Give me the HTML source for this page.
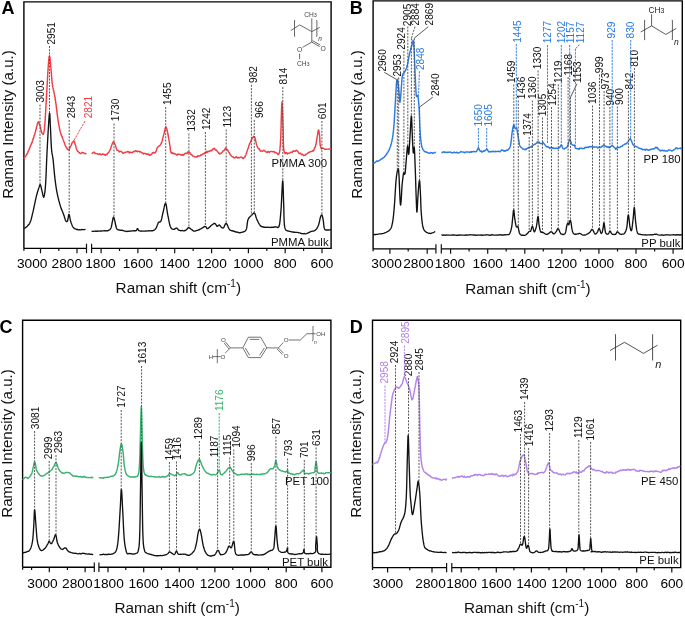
<!DOCTYPE html>
<html><head><meta charset="utf-8"><style>
html,body{margin:0;padding:0;background:#fff;}
svg{display:block;will-change:transform;}
text{font-family:"Liberation Sans", sans-serif;}
</style></head><body>
<svg width="685" height="617" viewBox="0 0 685 617">
<rect width="685" height="617" fill="#fff"/>
<text x="1.4" y="13.8" font-size="18" font-weight="bold" fill="#000">A</text>
<text x="349.7" y="14.4" font-size="18" font-weight="bold" fill="#000">B</text>
<text x="-0.4" y="333.1" font-size="18" font-weight="bold" fill="#000">C</text>
<text x="349.8" y="333.2" font-size="18" font-weight="bold" fill="#000">D</text>
<path d="M23.9,248.4 V1.9 H331.1 V248.4 H91.6 M86.5,248.4 H23.9" fill="none" stroke="#000" stroke-width="1.4"/>
<line x1="86.5" y1="243.70000000000002" x2="86.5" y2="253.1" stroke="#111" stroke-width="1.2"/>
<line x1="91.6" y1="243.70000000000002" x2="91.6" y2="253.1" stroke="#111" stroke-width="1.2"/>
<line x1="23.9" y1="248.4" x2="23.9" y2="250.8" stroke="#111" stroke-width="1.3"/>
<path d="M373.1,248.9 V0.9 H682.3 V248.9 H441.3 M435.9,248.9 H373.1" fill="none" stroke="#000" stroke-width="1.4"/>
<line x1="435.9" y1="244.20000000000002" x2="435.9" y2="253.6" stroke="#111" stroke-width="1.2"/>
<line x1="441.3" y1="244.20000000000002" x2="441.3" y2="253.6" stroke="#111" stroke-width="1.2"/>
<line x1="373.1" y1="248.9" x2="373.1" y2="251.3" stroke="#111" stroke-width="1.3"/>
<path d="M22.6,567.3 V320.2 H330.9 V567.3 H98.9 M94.3,567.3 H22.6" fill="none" stroke="#000" stroke-width="1.4"/>
<line x1="94.3" y1="562.5999999999999" x2="94.3" y2="572.0" stroke="#111" stroke-width="1.2"/>
<line x1="98.9" y1="562.5999999999999" x2="98.9" y2="572.0" stroke="#111" stroke-width="1.2"/>
<line x1="22.6" y1="567.3" x2="22.6" y2="569.6999999999999" stroke="#111" stroke-width="1.3"/>
<path d="M372.5,567.6 V320.2 H680.7 V567.6 H451.8 M446.6,567.6 H372.5" fill="none" stroke="#000" stroke-width="1.4"/>
<line x1="446.6" y1="562.9" x2="446.6" y2="572.3000000000001" stroke="#111" stroke-width="1.2"/>
<line x1="451.8" y1="562.9" x2="451.8" y2="572.3000000000001" stroke="#111" stroke-width="1.2"/>
<line x1="372.5" y1="567.6" x2="372.5" y2="570.0" stroke="#111" stroke-width="1.3"/>
<line x1="40.5" y1="248.4" x2="40.5" y2="253.3" stroke="#111" stroke-width="1.2"/>
<line x1="58.8" y1="248.4" x2="58.8" y2="251.0" stroke="#111" stroke-width="1.2"/>
<line x1="77.0" y1="248.4" x2="77.0" y2="253.3" stroke="#111" stroke-width="1.2"/>
<line x1="101.1" y1="248.4" x2="101.1" y2="253.3" stroke="#111" stroke-width="1.2"/>
<line x1="119.5" y1="248.4" x2="119.5" y2="251.0" stroke="#111" stroke-width="1.2"/>
<line x1="137.9" y1="248.4" x2="137.9" y2="253.3" stroke="#111" stroke-width="1.2"/>
<line x1="156.3" y1="248.4" x2="156.3" y2="251.0" stroke="#111" stroke-width="1.2"/>
<line x1="174.7" y1="248.4" x2="174.7" y2="253.3" stroke="#111" stroke-width="1.2"/>
<line x1="193.2" y1="248.4" x2="193.2" y2="251.0" stroke="#111" stroke-width="1.2"/>
<line x1="211.6" y1="248.4" x2="211.6" y2="253.3" stroke="#111" stroke-width="1.2"/>
<line x1="230.0" y1="248.4" x2="230.0" y2="251.0" stroke="#111" stroke-width="1.2"/>
<line x1="248.4" y1="248.4" x2="248.4" y2="253.3" stroke="#111" stroke-width="1.2"/>
<line x1="266.8" y1="248.4" x2="266.8" y2="251.0" stroke="#111" stroke-width="1.2"/>
<line x1="285.2" y1="248.4" x2="285.2" y2="253.3" stroke="#111" stroke-width="1.2"/>
<line x1="303.6" y1="248.4" x2="303.6" y2="251.0" stroke="#111" stroke-width="1.2"/>
<line x1="322.0" y1="248.4" x2="322.0" y2="253.3" stroke="#111" stroke-width="1.2"/>
<line x1="389.9" y1="248.9" x2="389.9" y2="253.8" stroke="#111" stroke-width="1.2"/>
<line x1="408.2" y1="248.9" x2="408.2" y2="251.5" stroke="#111" stroke-width="1.2"/>
<line x1="427.2" y1="248.9" x2="427.2" y2="253.8" stroke="#111" stroke-width="1.2"/>
<line x1="450.6" y1="248.9" x2="450.6" y2="253.8" stroke="#111" stroke-width="1.2"/>
<line x1="469.1" y1="248.9" x2="469.1" y2="251.5" stroke="#111" stroke-width="1.2"/>
<line x1="487.7" y1="248.9" x2="487.7" y2="253.8" stroke="#111" stroke-width="1.2"/>
<line x1="506.2" y1="248.9" x2="506.2" y2="251.5" stroke="#111" stroke-width="1.2"/>
<line x1="524.8" y1="248.9" x2="524.8" y2="253.8" stroke="#111" stroke-width="1.2"/>
<line x1="543.3" y1="248.9" x2="543.3" y2="251.5" stroke="#111" stroke-width="1.2"/>
<line x1="561.9" y1="248.9" x2="561.9" y2="253.8" stroke="#111" stroke-width="1.2"/>
<line x1="580.4" y1="248.9" x2="580.4" y2="251.5" stroke="#111" stroke-width="1.2"/>
<line x1="598.9" y1="248.9" x2="598.9" y2="253.8" stroke="#111" stroke-width="1.2"/>
<line x1="617.5" y1="248.9" x2="617.5" y2="251.5" stroke="#111" stroke-width="1.2"/>
<line x1="636.0" y1="248.9" x2="636.0" y2="253.8" stroke="#111" stroke-width="1.2"/>
<line x1="654.6" y1="248.9" x2="654.6" y2="251.5" stroke="#111" stroke-width="1.2"/>
<line x1="673.1" y1="248.9" x2="673.1" y2="253.8" stroke="#111" stroke-width="1.2"/>
<line x1="31.6" y1="567.3" x2="31.6" y2="569.9" stroke="#111" stroke-width="1.2"/>
<line x1="49.3" y1="567.3" x2="49.3" y2="572.1999999999999" stroke="#111" stroke-width="1.2"/>
<line x1="67.4" y1="567.3" x2="67.4" y2="569.9" stroke="#111" stroke-width="1.2"/>
<line x1="85.1" y1="567.3" x2="85.1" y2="572.1999999999999" stroke="#111" stroke-width="1.2"/>
<line x1="108.0" y1="567.3" x2="108.0" y2="572.1999999999999" stroke="#111" stroke-width="1.2"/>
<line x1="125.8" y1="567.3" x2="125.8" y2="569.9" stroke="#111" stroke-width="1.2"/>
<line x1="143.7" y1="567.3" x2="143.7" y2="572.1999999999999" stroke="#111" stroke-width="1.2"/>
<line x1="161.5" y1="567.3" x2="161.5" y2="569.9" stroke="#111" stroke-width="1.2"/>
<line x1="179.3" y1="567.3" x2="179.3" y2="572.1999999999999" stroke="#111" stroke-width="1.2"/>
<line x1="197.1" y1="567.3" x2="197.1" y2="569.9" stroke="#111" stroke-width="1.2"/>
<line x1="214.9" y1="567.3" x2="214.9" y2="572.1999999999999" stroke="#111" stroke-width="1.2"/>
<line x1="232.8" y1="567.3" x2="232.8" y2="569.9" stroke="#111" stroke-width="1.2"/>
<line x1="250.6" y1="567.3" x2="250.6" y2="572.1999999999999" stroke="#111" stroke-width="1.2"/>
<line x1="268.4" y1="567.3" x2="268.4" y2="569.9" stroke="#111" stroke-width="1.2"/>
<line x1="286.2" y1="567.3" x2="286.2" y2="572.1999999999999" stroke="#111" stroke-width="1.2"/>
<line x1="304.1" y1="567.3" x2="304.1" y2="569.9" stroke="#111" stroke-width="1.2"/>
<line x1="321.9" y1="567.3" x2="321.9" y2="572.1999999999999" stroke="#111" stroke-width="1.2"/>
<line x1="387.6" y1="567.6" x2="387.6" y2="572.5" stroke="#111" stroke-width="1.2"/>
<line x1="409.8" y1="567.6" x2="409.8" y2="570.2" stroke="#111" stroke-width="1.2"/>
<line x1="432.0" y1="567.6" x2="432.0" y2="572.5" stroke="#111" stroke-width="1.2"/>
<line x1="461.2" y1="567.6" x2="461.2" y2="572.5" stroke="#111" stroke-width="1.2"/>
<line x1="478.8" y1="567.6" x2="478.8" y2="570.2" stroke="#111" stroke-width="1.2"/>
<line x1="496.3" y1="567.6" x2="496.3" y2="572.5" stroke="#111" stroke-width="1.2"/>
<line x1="513.9" y1="567.6" x2="513.9" y2="570.2" stroke="#111" stroke-width="1.2"/>
<line x1="531.4" y1="567.6" x2="531.4" y2="572.5" stroke="#111" stroke-width="1.2"/>
<line x1="549.0" y1="567.6" x2="549.0" y2="570.2" stroke="#111" stroke-width="1.2"/>
<line x1="566.5" y1="567.6" x2="566.5" y2="572.5" stroke="#111" stroke-width="1.2"/>
<line x1="584.0" y1="567.6" x2="584.0" y2="570.2" stroke="#111" stroke-width="1.2"/>
<line x1="601.6" y1="567.6" x2="601.6" y2="572.5" stroke="#111" stroke-width="1.2"/>
<line x1="619.1" y1="567.6" x2="619.1" y2="570.2" stroke="#111" stroke-width="1.2"/>
<line x1="636.7" y1="567.6" x2="636.7" y2="572.5" stroke="#111" stroke-width="1.2"/>
<line x1="654.2" y1="567.6" x2="654.2" y2="570.2" stroke="#111" stroke-width="1.2"/>
<line x1="671.8" y1="567.6" x2="671.8" y2="572.5" stroke="#111" stroke-width="1.2"/>
<text x="32.2" y="267.5" font-size="13.7" text-anchor="middle" fill="#000" font-weight="normal">3000</text>
<text x="66.8" y="267.5" font-size="13.7" text-anchor="middle" fill="#000" font-weight="normal">2800</text>
<text x="100.4" y="267.5" font-size="13.7" text-anchor="middle" fill="#000" font-weight="normal">1800</text>
<text x="137.9" y="267.5" font-size="13.7" text-anchor="middle" fill="#000" font-weight="normal">1600</text>
<text x="174.7" y="267.5" font-size="13.7" text-anchor="middle" fill="#000" font-weight="normal">1400</text>
<text x="211.6" y="267.5" font-size="13.7" text-anchor="middle" fill="#000" font-weight="normal">1200</text>
<text x="248.4" y="267.5" font-size="13.7" text-anchor="middle" fill="#000" font-weight="normal">1000</text>
<text x="285.2" y="267.5" font-size="13.7" text-anchor="middle" fill="#000" font-weight="normal">800</text>
<text x="322.0" y="267.5" font-size="13.7" text-anchor="middle" fill="#000" font-weight="normal">600</text>
<text x="386.6" y="267.9" font-size="13.7" text-anchor="middle" fill="#000" font-weight="normal">3000</text>
<text x="418.4" y="267.9" font-size="13.7" text-anchor="middle" fill="#000" font-weight="normal">2800</text>
<text x="450.0" y="267.9" font-size="13.7" text-anchor="middle" fill="#000" font-weight="normal">1800</text>
<text x="487.7" y="267.9" font-size="13.7" text-anchor="middle" fill="#000" font-weight="normal">1600</text>
<text x="524.8" y="267.9" font-size="13.7" text-anchor="middle" fill="#000" font-weight="normal">1400</text>
<text x="561.9" y="267.9" font-size="13.7" text-anchor="middle" fill="#000" font-weight="normal">1200</text>
<text x="598.9" y="267.9" font-size="13.7" text-anchor="middle" fill="#000" font-weight="normal">1000</text>
<text x="636.0" y="267.9" font-size="13.7" text-anchor="middle" fill="#000" font-weight="normal">800</text>
<text x="673.1" y="267.9" font-size="13.7" text-anchor="middle" fill="#000" font-weight="normal">600</text>
<text x="42.5" y="587.5" font-size="13.7" text-anchor="middle" fill="#000" font-weight="normal">3000</text>
<text x="77.3" y="587.5" font-size="13.7" text-anchor="middle" fill="#000" font-weight="normal">2800</text>
<text x="108.6" y="587.5" font-size="13.7" text-anchor="middle" fill="#000" font-weight="normal">1800</text>
<text x="143.7" y="587.5" font-size="13.7" text-anchor="middle" fill="#000" font-weight="normal">1600</text>
<text x="179.3" y="587.5" font-size="13.7" text-anchor="middle" fill="#000" font-weight="normal">1400</text>
<text x="214.9" y="587.5" font-size="13.7" text-anchor="middle" fill="#000" font-weight="normal">1200</text>
<text x="250.6" y="587.5" font-size="13.7" text-anchor="middle" fill="#000" font-weight="normal">1000</text>
<text x="286.2" y="587.5" font-size="13.7" text-anchor="middle" fill="#000" font-weight="normal">800</text>
<text x="321.9" y="587.5" font-size="13.7" text-anchor="middle" fill="#000" font-weight="normal">600</text>
<text x="388.0" y="587.6" font-size="13.7" text-anchor="middle" fill="#000" font-weight="normal">3000</text>
<text x="430.6" y="587.6" font-size="13.7" text-anchor="middle" fill="#000" font-weight="normal">2800</text>
<text x="461.6" y="587.6" font-size="13.7" text-anchor="middle" fill="#000" font-weight="normal">1800</text>
<text x="496.3" y="587.6" font-size="13.7" text-anchor="middle" fill="#000" font-weight="normal">1600</text>
<text x="531.4" y="587.6" font-size="13.7" text-anchor="middle" fill="#000" font-weight="normal">1400</text>
<text x="566.5" y="587.6" font-size="13.7" text-anchor="middle" fill="#000" font-weight="normal">1200</text>
<text x="601.6" y="587.6" font-size="13.7" text-anchor="middle" fill="#000" font-weight="normal">1000</text>
<text x="636.7" y="587.6" font-size="13.7" text-anchor="middle" fill="#000" font-weight="normal">800</text>
<text x="671.8" y="587.6" font-size="13.7" text-anchor="middle" fill="#000" font-weight="normal">600</text>
<text x="178.3" y="292.8" font-size="15.3" text-anchor="middle" fill="#111" font-weight="normal">Raman shift (cm<tspan font-size="10" dy="-6">-1</tspan><tspan dy="6">)</tspan></text>
<text x="528.0" y="293.7" font-size="15.3" text-anchor="middle" fill="#111" font-weight="normal">Raman shift (cm<tspan font-size="10" dy="-6">-1</tspan><tspan dy="6">)</tspan></text>
<text x="177.2" y="612.6" font-size="15.3" text-anchor="middle" fill="#111" font-weight="normal">Raman shift (cm<tspan font-size="10" dy="-6">-1</tspan><tspan dy="6">)</tspan></text>
<text x="526.6" y="612.6" font-size="15.3" text-anchor="middle" fill="#111" font-weight="normal">Raman shift (cm<tspan font-size="10" dy="-6">-1</tspan><tspan dy="6">)</tspan></text>
<text x="12.8" y="198.7" font-size="15.1" text-anchor="start" fill="#111" font-weight="normal" transform="rotate(-90 12.8 198.7)">Raman Intensity (a.u.)</text>
<text x="362.2" y="198.7" font-size="15.1" text-anchor="start" fill="#111" font-weight="normal" transform="rotate(-90 362.2 198.7)">Raman Intensity (a.u.)</text>
<text x="11.9" y="517.7" font-size="15.1" text-anchor="start" fill="#111" font-weight="normal" transform="rotate(-90 11.9 517.7)">Raman Intensity (a.u.)</text>
<text x="361.2" y="517.7" font-size="15.1" text-anchor="start" fill="#111" font-weight="normal" transform="rotate(-90 361.2 517.7)">Raman Intensity (a.u.)</text>
<text x="328.6" y="245.9" font-size="11.4" text-anchor="end" fill="#111" font-weight="normal">PMMA bulk</text>
<text x="327.1" y="167.3" font-size="11.4" text-anchor="end" fill="#111" font-weight="normal">PMMA 300</text>
<text x="680.4" y="246.9" font-size="11.4" text-anchor="end" fill="#111" font-weight="normal">PP bulk</text>
<text x="680.7" y="162.8" font-size="11.4" text-anchor="end" fill="#111" font-weight="normal">PP 180</text>
<text x="328.0" y="565.7" font-size="11.4" text-anchor="end" fill="#111" font-weight="normal">PET bulk</text>
<text x="329.1" y="485.4" font-size="11.4" text-anchor="end" fill="#111" font-weight="normal">PET 100</text>
<text x="678.6" y="564.4" font-size="11.4" text-anchor="end" fill="#111" font-weight="normal">PE bulk</text>
<text x="678.4" y="485.0" font-size="11.4" text-anchor="end" fill="#111" font-weight="normal">PE 450</text>
<path d="M23.80,158.80 L24.00,158.47 L24.26,158.15 L24.56,157.85 L24.90,157.14 L25.27,156.59 L25.66,156.24 L26.07,155.47 L26.48,154.80 L26.89,154.30 L27.30,153.61 L27.54,152.88 L27.79,152.33 L28.05,151.63 L28.31,151.10 L28.58,150.66 L28.85,150.00 L29.13,149.56 L29.40,148.77 L29.68,147.97 L29.96,147.33 L30.24,146.65 L30.51,145.88 L30.78,145.25 L31.05,144.65 L31.31,143.74 L31.56,143.61 L31.80,143.11 L32.04,142.21 L32.27,141.90 L32.50,141.02 L32.73,140.46 L32.96,139.45 L33.18,138.89 L33.40,138.32 L33.61,137.36 L33.82,137.03 L34.03,136.14 L34.24,135.50 L34.44,135.01 L34.64,134.61 L34.84,133.83 L35.03,132.94 L35.22,132.52 L35.40,131.86 L35.60,131.30 L35.80,130.49 L36.00,129.81 L36.19,128.86 L36.37,128.21 L36.55,127.56 L36.73,126.41 L36.90,125.75 L37.07,125.18 L37.23,124.53 L37.39,124.16 L37.55,123.45 L37.70,123.00 L37.85,122.66 L38.00,122.16 L38.41,121.76 L38.78,122.11 L39.12,122.93 L39.45,123.88 L39.80,124.84 L39.96,125.70 L40.13,126.11 L40.29,126.76 L40.45,127.23 L40.62,127.94 L40.78,128.93 L40.95,129.65 L41.11,130.20 L41.27,131.09 L41.44,131.68 L41.60,131.96 L42.06,133.30 L42.52,133.45 L42.98,134.44 L43.40,133.99 L43.52,133.88 L43.63,133.31 L43.74,132.76 L43.85,132.56 L43.95,132.17 L44.05,131.72 L44.15,131.07 L44.25,130.41 L44.35,129.63 L44.46,128.59 L44.57,127.52 L44.68,126.30 L44.80,124.90 L44.84,124.41 L44.87,123.95 L44.91,123.40 L44.95,122.87 L44.99,122.42 L45.03,121.89 L45.06,121.24 L45.10,120.71 L45.14,120.14 L45.18,119.48 L45.22,118.84 L45.26,118.26 L45.30,117.59 L45.34,116.88 L45.38,116.15 L45.43,115.47 L45.47,114.74 L45.51,113.99 L45.55,113.29 L45.59,112.60 L45.63,111.84 L45.68,111.06 L45.72,110.36 L45.76,109.60 L45.80,108.85 L45.84,108.11 L45.89,107.32 L45.93,106.55 L45.97,105.79 L46.01,104.98 L46.06,104.20 L46.10,103.48 L46.14,102.67 L46.18,101.86 L46.23,101.14 L46.27,100.37 L46.31,99.60 L46.35,98.90 L46.39,98.12 L46.43,97.41 L46.48,96.69 L46.52,95.98 L46.56,95.24 L46.60,94.62 L46.64,93.97 L46.68,93.24 L46.72,92.49 L46.77,91.73 L46.81,90.99 L46.85,90.28 L46.89,89.54 L46.94,88.75 L46.98,88.01 L47.02,87.27 L47.06,86.46 L47.11,85.78 L47.15,84.96 L47.19,84.15 L47.24,83.41 L47.28,82.64 L47.32,81.85 L47.37,81.08 L47.41,80.31 L47.45,79.58 L47.49,78.77 L47.54,78.10 L47.58,77.32 L47.62,76.51 L47.66,75.83 L47.71,75.12 L47.75,74.40 L47.79,73.68 L47.83,72.99 L47.87,72.31 L47.91,71.64 L47.95,70.95 L47.99,70.30 L48.03,69.68 L48.07,69.10 L48.11,68.51 L48.15,67.90 L48.19,67.28 L48.22,66.74 L48.26,66.22 L48.30,65.73 L48.33,65.24 L48.37,64.78 L48.40,64.37 L48.52,62.73 L48.63,61.52 L48.74,60.27 L48.84,59.35 L48.94,58.49 L49.03,57.76 L49.12,56.98 L49.21,56.52 L49.31,56.07 L49.40,56.16 L49.50,56.17 L49.60,56.07 L49.67,56.11 L49.75,56.52 L49.82,56.98 L49.90,57.42 L49.97,57.99 L50.05,58.65 L50.12,59.28 L50.20,59.96 L50.28,60.77 L50.35,61.75 L50.43,62.59 L50.51,63.45 L50.59,64.33 L50.66,65.23 L50.74,66.07 L50.82,67.04 L50.90,67.89 L50.96,68.48 L51.01,69.07 L51.07,69.68 L51.12,70.34 L51.18,70.99 L51.23,71.73 L51.29,72.51 L51.34,73.14 L51.40,73.87 L51.46,74.62 L51.51,75.35 L51.57,76.08 L51.63,76.79 L51.68,77.51 L51.74,78.29 L51.80,78.98 L51.86,79.69 L51.92,80.33 L51.98,81.14 L52.04,81.81 L52.11,82.30 L52.17,82.91 L52.23,83.37 L52.30,84.00 L52.43,84.81 L52.55,85.73 L52.69,86.59 L52.82,87.21 L52.96,87.80 L53.10,88.47 L53.25,89.23 L53.39,89.70 L53.53,90.06 L53.68,90.79 L53.82,91.48 L53.96,92.13 L54.10,93.11 L54.21,93.57 L54.33,94.19 L54.44,94.66 L54.55,95.14 L54.66,95.70 L54.77,96.39 L54.89,97.25 L55.00,97.70 L55.11,98.44 L55.23,99.15 L55.34,100.01 L55.45,100.51 L55.56,101.18 L55.67,102.02 L55.79,102.71 L55.90,103.41 L55.98,104.11 L56.07,104.76 L56.15,105.33 L56.23,106.07 L56.31,106.73 L56.39,107.44 L56.47,108.10 L56.55,108.69 L56.63,109.27 L56.71,109.96 L56.79,110.72 L56.87,111.33 L56.96,111.97 L57.04,112.75 L57.13,113.67 L57.22,114.32 L57.31,115.07 L57.40,115.63 L57.50,116.36 L57.60,117.14 L57.70,117.84 L57.81,118.47 L57.92,119.15 L58.03,119.94 L58.14,120.59 L58.26,121.32 L58.38,122.04 L58.50,122.68 L58.63,123.43 L58.75,124.18 L58.88,124.76 L59.01,125.51 L59.14,126.32 L59.27,126.96 L59.40,127.81 L59.53,128.56 L59.66,129.12 L59.79,129.82 L59.92,130.41 L60.05,131.07 L60.17,131.49 L60.30,131.89 L60.54,132.72 L60.78,133.44 L61.03,134.39 L61.27,134.86 L61.52,135.81 L61.77,136.31 L62.01,136.55 L62.26,137.17 L62.51,138.11 L62.75,138.52 L63.00,139.21 L63.24,139.76 L63.49,140.23 L63.73,141.17 L63.97,141.84 L64.21,142.26 L64.45,143.11 L64.70,144.02 L64.94,144.48 L65.19,145.26 L65.44,145.97 L65.70,146.51 L66.12,146.93 L66.56,147.43 L67.00,148.34 L67.45,149.37 L67.89,149.65 L68.31,149.60 L68.70,150.01 L69.02,149.71 L69.31,149.05 L69.60,148.25 L69.87,147.79 L70.14,147.37 L70.41,146.57 L70.70,145.82 L71.00,145.46 L71.32,144.85 L71.67,143.92 L72.02,143.12 L72.38,142.38 L72.74,142.01 L73.08,141.73 L73.40,141.65 L73.70,140.78 L74.00,141.35 L74.28,141.20 L74.53,141.90 L74.78,142.86 L75.01,143.69 L75.25,144.56 L75.50,145.37 L75.71,146.04 L75.91,146.64 L76.10,147.51 L76.29,148.20 L76.50,148.72 L76.73,149.47 L76.99,150.25 L77.30,150.44 L77.76,151.34 L78.27,151.61 L78.82,152.29 L79.43,152.71 L80.09,153.51 L80.80,153.55 L81.42,153.06 L82.14,152.33 L82.92,152.84 L83.72,152.73 L84.49,153.61 L85.19,153.58 L85.77,153.72 L86.20,153.00" fill="none" stroke="#f03c44" stroke-width="1.45" stroke-linejoin="round"/>
<path d="M91.60,153.50 L91.97,153.52 L92.45,152.89 L93.01,152.87 L93.64,152.33 L94.32,152.21 L95.04,153.46 L95.78,153.53 L96.53,153.61 L97.28,153.81 L98.00,154.22 L98.61,154.40 L99.25,153.93 L99.92,153.73 L100.61,154.57 L101.31,154.84 L102.01,154.30 L102.70,153.84 L103.37,154.39 L104.02,154.70 L104.63,154.43 L105.19,155.35 L105.70,154.82 L106.37,154.24 L106.96,154.62 L107.48,153.51 L107.94,153.13 L108.36,152.44 L108.75,152.50 L109.12,151.64 L109.50,151.07 L109.79,150.57 L110.07,149.77 L110.32,149.41 L110.56,149.10 L110.78,148.24 L111.00,147.35 L111.20,146.52 L111.40,145.91 L111.60,145.43 L111.80,144.96 L112.12,143.93 L112.41,143.71 L112.68,143.02 L112.95,142.11 L113.22,142.46 L113.50,142.02 L113.79,142.25 L114.08,142.52 L114.38,143.12 L114.67,143.72 L114.98,144.38 L115.30,144.83 L115.50,145.47 L115.69,146.01 L115.89,146.70 L116.09,147.51 L116.30,148.20 L116.51,148.95 L116.72,149.51 L116.94,150.01 L117.17,150.32 L117.40,150.26 L117.98,150.46 L118.58,150.90 L119.24,151.90 L120.00,151.16 L120.59,151.41 L121.23,151.47 L121.91,152.02 L122.61,153.02 L123.32,153.38 L124.00,152.79 L124.67,152.43 L125.33,152.57 L126.00,152.18 L126.67,151.91 L127.33,151.53 L128.00,152.08 L128.67,151.72 L129.33,152.89 L130.00,152.45 L130.67,152.26 L131.33,152.50 L132.00,152.47 L132.68,152.62 L133.37,151.51 L134.06,151.57 L134.74,151.55 L135.39,150.83 L136.00,150.76 L136.65,151.34 L137.22,151.74 L137.78,151.13 L138.35,151.30 L139.00,151.25 L139.61,151.95 L140.26,151.61 L140.94,152.10 L141.63,152.89 L142.32,152.79 L143.00,153.33 L143.58,153.87 L144.17,153.36 L144.77,153.34 L145.36,153.51 L145.93,153.79 L146.48,154.21 L147.00,153.77 L147.66,154.29 L148.27,154.04 L148.85,154.58 L149.42,155.24 L150.00,154.48 L150.61,154.98 L151.22,154.62 L151.84,154.07 L152.43,152.76 L153.00,152.89 L153.67,152.48 L154.31,153.00 L154.92,152.98 L155.50,152.24 L155.77,151.58 L156.02,151.52 L156.26,150.68 L156.50,150.02 L156.74,149.18 L156.98,148.62 L157.23,147.86 L157.50,147.46 L157.98,146.90 L158.50,146.36 L159.03,146.02 L159.54,145.80 L160.00,145.39 L160.34,144.92 L160.66,144.41 L160.96,143.87 L161.24,143.38 L161.52,142.66 L161.80,142.03 L161.98,141.39 L162.16,141.00 L162.32,140.23 L162.49,139.47 L162.65,138.66 L162.82,138.11 L163.00,137.42 L163.19,136.77 L163.40,135.94 L163.56,135.25 L163.72,134.74 L163.90,133.90 L164.08,133.21 L164.27,132.34 L164.45,131.61 L164.65,130.68 L164.83,129.94 L165.02,129.07 L165.20,128.43 L165.38,127.90 L165.54,127.55 L165.70,127.43 L166.01,126.93 L166.30,127.56 L166.56,127.99 L166.81,128.93 L167.06,130.00 L167.30,131.08 L167.44,131.65 L167.58,132.19 L167.71,132.62 L167.84,133.51 L167.96,134.19 L168.09,134.95 L168.21,135.74 L168.34,136.39 L168.47,137.02 L168.60,137.83 L168.71,138.39 L168.83,139.13 L168.95,139.75 L169.07,140.51 L169.19,141.16 L169.31,141.69 L169.43,142.61 L169.55,143.29 L169.67,144.18 L169.78,144.79 L169.89,145.29 L170.00,145.99 L170.11,146.66 L170.18,147.37 L170.23,148.12 L170.28,148.88 L170.33,149.60 L170.40,150.28 L170.50,150.93 L170.64,151.56 L170.84,152.27 L171.10,152.45 L171.52,153.15 L172.02,153.38 L172.59,152.81 L173.22,153.73 L173.89,153.24 L174.58,153.89 L175.29,153.89 L176.00,154.42 L176.59,155.02 L177.23,155.05 L177.90,153.96 L178.59,154.35 L179.28,154.33 L179.97,154.46 L180.64,154.59 L181.28,155.17 L181.87,155.09 L182.40,154.46 L183.17,155.38 L183.83,154.63 L184.42,154.14 L184.96,153.50 L185.47,153.38 L186.00,153.00 L186.62,153.59 L187.20,153.48 L187.76,151.88 L188.32,152.32 L188.90,152.31 L189.38,152.13 L189.85,152.39 L190.32,153.43 L190.82,154.01 L191.37,154.84 L192.00,154.87 L192.54,155.87 L193.14,156.09 L193.78,156.18 L194.44,156.82 L195.11,156.97 L195.78,156.90 L196.41,156.65 L197.00,157.04 L197.62,155.87 L198.21,156.12 L198.78,155.80 L199.33,156.15 L199.88,156.11 L200.43,155.37 L201.00,154.83 L201.57,155.09 L202.14,154.53 L202.71,154.48 L203.28,153.72 L203.87,153.41 L204.47,153.60 L205.10,152.67 L205.67,152.64 L206.27,152.47 L206.88,151.29 L207.51,152.22 L208.13,151.33 L208.76,151.57 L209.39,151.28 L210.00,150.78 L210.60,150.57 L211.20,150.92 L211.80,149.99 L212.40,150.06 L213.00,148.88 L213.60,149.04 L214.20,148.20 L214.80,149.09 L215.35,149.89 L215.90,149.56 L216.47,150.46 L217.03,151.00 L217.59,151.54 L218.14,152.35 L218.68,152.87 L219.20,153.56 L219.70,154.03 L220.31,153.29 L220.90,153.40 L221.46,153.14 L222.01,152.42 L222.53,151.72 L223.02,151.10 L223.50,150.62 L224.01,150.54 L224.48,149.78 L224.91,149.25 L225.33,148.47 L225.76,147.83 L226.20,148.99 L226.54,149.27 L226.87,149.35 L227.20,149.53 L227.54,149.81 L227.88,150.84 L228.23,151.09 L228.61,151.81 L229.00,152.49 L229.36,152.61 L229.73,153.39 L230.11,154.37 L230.49,155.07 L230.90,155.02 L231.31,156.09 L231.75,156.12 L232.21,156.67 L232.70,157.02 L233.28,156.91 L233.90,157.87 L234.54,157.78 L235.21,157.87 L235.89,156.95 L236.59,156.74 L237.29,157.99 L238.00,157.70 L238.65,157.55 L239.35,157.74 L240.07,157.49 L240.80,156.99 L241.52,157.10 L242.22,157.69 L242.88,158.41 L243.47,158.47 L244.00,157.54 L244.40,157.21 L244.75,156.88 L245.06,157.00 L245.32,156.10 L245.56,155.45 L245.79,154.97 L246.00,154.50 L246.22,153.79 L246.45,153.11 L246.70,152.57 L246.92,151.56 L247.14,151.07 L247.36,150.35 L247.57,149.82 L247.79,148.97 L248.01,148.46 L248.22,147.98 L248.44,147.51 L248.65,146.42 L248.87,145.64 L249.08,145.15 L249.30,144.79 L249.59,143.80 L249.88,143.40 L250.17,142.47 L250.46,142.20 L250.74,141.41 L251.03,141.01 L251.32,139.89 L251.61,139.11 L251.90,139.24 L252.33,138.06 L252.77,137.87 L253.21,136.78 L253.64,136.29 L254.07,136.67 L254.50,136.78 L254.68,137.02 L254.85,137.45 L255.02,137.92 L255.18,138.64 L255.34,139.35 L255.50,140.09 L255.67,140.86 L255.84,141.54 L256.01,142.24 L256.19,142.72 L256.37,143.90 L256.57,144.62 L256.78,145.32 L257.00,145.93 L257.33,146.40 L257.67,147.57 L258.03,148.05 L258.40,148.41 L258.79,148.96 L259.19,149.32 L259.60,149.07 L260.02,150.90 L260.46,151.07 L260.90,151.08 L261.48,151.00 L262.09,151.21 L262.72,151.13 L263.36,150.66 L264.02,150.22 L264.68,150.73 L265.34,151.66 L266.00,151.69 L266.66,152.24 L267.32,152.30 L268.00,151.38 L268.68,151.74 L269.35,152.48 L270.01,151.61 L270.66,151.53 L271.30,151.37 L272.02,151.64 L272.73,151.71 L273.44,151.75 L274.13,151.54 L274.79,152.74 L275.42,152.29 L276.00,152.68 L276.75,153.10 L277.43,153.61 L278.05,154.58 L278.61,154.31 L279.10,153.64 L279.21,153.01 L279.32,152.95 L279.41,152.48 L279.51,152.37 L279.59,151.90 L279.67,151.34 L279.75,150.78 L279.82,150.14 L279.90,149.70 L279.96,149.13 L280.03,148.56 L280.09,147.86 L280.15,147.13 L280.22,146.32 L280.28,145.42 L280.34,144.49 L280.40,143.45 L280.47,142.41 L280.53,141.22 L280.60,139.98 L280.63,139.52 L280.65,139.00 L280.68,138.43 L280.70,137.83 L280.73,137.20 L280.75,136.55 L280.78,135.88 L280.81,135.15 L280.83,134.42 L280.86,133.67 L280.88,132.86 L280.91,132.08 L280.93,131.31 L280.96,130.46 L280.98,129.62 L281.01,128.77 L281.03,127.90 L281.06,127.02 L281.08,126.18 L281.10,125.22 L281.13,124.33 L281.15,123.41 L281.18,122.53 L281.20,121.62 L281.23,120.74 L281.25,119.83 L281.28,118.94 L281.30,118.07 L281.32,117.17 L281.35,116.29 L281.37,115.42 L281.39,114.60 L281.42,113.77 L281.44,112.91 L281.47,112.14 L281.49,111.35 L281.51,110.61 L281.54,109.87 L281.56,109.18 L281.58,108.50 L281.61,107.86 L281.63,107.22 L281.65,106.63 L281.67,106.03 L281.70,105.48 L281.72,105.01 L281.74,104.52 L281.77,104.03 L281.79,103.67 L281.81,103.33 L281.83,102.95 L281.86,102.82 L281.88,102.53 L281.90,102.40 L281.94,101.96 L281.97,101.98 L282.01,102.17 L282.04,102.36 L282.08,102.61 L282.12,102.82 L282.15,103.15 L282.19,103.64 L282.22,104.17 L282.26,104.83 L282.29,105.44 L282.33,106.10 L282.36,106.84 L282.40,107.59 L282.43,108.40 L282.46,109.36 L282.50,110.30 L282.53,111.24 L282.56,112.18 L282.60,113.12 L282.63,114.10 L282.66,115.10 L282.70,116.11 L282.73,117.11 L282.76,118.05 L282.79,118.98 L282.82,119.93 L282.85,120.86 L282.88,121.78 L282.91,122.65 L282.94,123.48 L282.97,124.26 L283.00,124.98 L283.03,125.65 L283.05,126.34 L283.07,127.06 L283.09,127.76 L283.11,128.48 L283.12,129.24 L283.14,130.00 L283.15,130.74 L283.17,131.49 L283.18,132.26 L283.19,133.05 L283.20,133.84 L283.22,134.60 L283.23,135.37 L283.24,136.16 L283.25,136.92 L283.26,137.71 L283.28,138.47 L283.29,139.23 L283.30,139.96 L283.32,140.68 L283.34,141.42 L283.35,142.15 L283.37,142.85 L283.40,143.55 L283.42,144.24 L283.45,144.83 L283.47,145.47 L283.50,146.11 L283.54,146.71 L283.57,147.28 L283.61,147.87 L283.65,148.31 L283.70,148.79 L283.75,149.20 L283.80,149.79 L284.07,151.10 L284.39,152.17 L284.75,152.69 L285.14,153.76 L285.56,152.73 L286.00,153.03 L286.45,152.68 L286.90,152.68 L287.43,154.08 L287.97,153.44 L288.54,153.16 L289.13,153.17 L289.73,152.98 L290.36,152.61 L291.00,152.12 L291.57,152.37 L292.15,152.31 L292.75,151.13 L293.36,151.35 L293.98,150.93 L294.63,150.92 L295.30,151.27 L296.00,150.51 L296.53,150.14 L297.09,150.80 L297.67,151.24 L298.26,152.17 L298.86,153.15 L299.47,153.54 L300.07,153.18 L300.67,153.23 L301.27,154.39 L301.84,154.67 L302.40,154.36 L303.06,154.84 L303.71,155.61 L304.36,155.18 L304.99,155.20 L305.61,154.62 L306.22,153.89 L306.82,153.93 L307.42,153.57 L308.00,152.92 L308.65,152.40 L309.31,152.39 L309.95,151.89 L310.58,151.64 L311.19,151.65 L311.77,151.43 L312.31,150.93 L312.80,150.47 L313.20,151.06 L313.56,150.63 L313.90,150.12 L314.21,149.02 L314.50,148.59 L314.77,147.78 L315.02,147.37 L315.26,146.65 L315.50,145.96 L315.67,145.04 L315.82,144.84 L315.96,144.27 L316.09,143.63 L316.21,142.90 L316.32,142.01 L316.44,141.33 L316.54,140.69 L316.65,140.09 L316.76,139.34 L316.88,138.49 L317.00,138.05 L317.13,137.27 L317.25,136.68 L317.38,135.84 L317.51,134.91 L317.65,134.17 L317.77,133.25 L317.90,132.22 L318.03,131.60 L318.15,131.08 L318.27,130.47 L318.39,130.21 L318.50,130.06 L318.64,129.97 L318.77,130.36 L318.90,130.88 L319.02,131.56 L319.14,132.32 L319.26,133.13 L319.37,134.07 L319.48,135.03 L319.60,136.06 L319.66,136.58 L319.71,137.23 L319.75,137.87 L319.79,138.63 L319.82,139.38 L319.85,140.14 L319.89,140.94 L319.93,141.74 L319.97,142.59 L320.02,143.29 L320.08,144.06 L320.15,144.73 L320.23,145.28 L320.34,146.00 L320.46,146.32 L320.60,146.80 L320.98,147.84 L321.43,148.98 L321.93,148.53 L322.49,148.40 L323.11,148.24 L323.78,148.42 L324.50,149.14 L325.07,149.26 L325.74,149.13 L326.46,149.32 L327.22,149.14 L327.99,149.15 L328.74,149.15 L329.45,148.88 L330.07,149.04 L330.60,149.01 L331.00,149.60" fill="none" stroke="#f03c44" stroke-width="1.45" stroke-linejoin="round"/>
<path d="M24.20,228.60 L24.47,228.44 L24.82,228.20 L25.24,227.84 L25.71,227.39 L26.22,227.17 L26.75,226.69 L27.29,226.17 L27.83,225.51 L28.36,225.04 L28.85,224.41 L29.30,223.94 L29.70,223.20 L29.95,222.71 L30.18,222.08 L30.40,221.65 L30.61,221.06 L30.81,220.54 L31.00,219.94 L31.18,219.29 L31.35,218.65 L31.52,217.97 L31.69,217.36 L31.86,216.59 L32.02,215.86 L32.19,215.17 L32.36,214.44 L32.53,213.71 L32.71,212.95 L32.90,212.21 L33.04,211.60 L33.18,211.01 L33.33,210.38 L33.47,209.72 L33.62,209.04 L33.76,208.40 L33.91,207.66 L34.06,206.93 L34.20,206.24 L34.35,205.55 L34.50,204.86 L34.64,204.14 L34.79,203.43 L34.93,202.73 L35.08,202.03 L35.22,201.29 L35.37,200.61 L35.51,199.90 L35.65,199.33 L35.79,198.75 L35.93,198.06 L36.06,197.46 L36.20,196.91 L36.41,196.11 L36.62,195.33 L36.83,194.49 L37.04,193.72 L37.26,192.98 L37.47,192.23 L37.67,191.49 L37.88,190.82 L38.07,190.22 L38.27,189.63 L38.45,189.05 L38.63,188.45 L38.80,187.97 L38.95,187.51 L39.10,187.13 L39.53,185.85 L39.82,184.97 L40.08,184.55 L40.40,184.85 L40.55,185.27 L40.71,185.72 L40.88,186.23 L41.05,186.95 L41.22,187.72 L41.39,188.44 L41.57,189.21 L41.75,190.00 L41.92,190.70 L42.10,191.33 L42.30,192.17 L42.50,193.11 L42.70,193.99 L42.90,194.93 L43.10,195.80 L43.30,196.51 L43.50,197.05 L43.70,197.30 L43.90,196.93 L43.99,196.64 L44.08,196.41 L44.18,196.06 L44.27,195.75 L44.36,195.32 L44.45,194.90 L44.54,194.42 L44.63,193.83 L44.72,193.23 L44.81,192.55 L44.90,191.83 L44.99,191.05 L45.07,190.20 L45.16,189.31 L45.25,188.33 L45.34,187.31 L45.43,186.21 L45.51,185.03 L45.60,183.80 L45.63,183.34 L45.66,182.84 L45.70,182.32 L45.73,181.80 L45.76,181.23 L45.79,180.68 L45.82,180.12 L45.85,179.53 L45.88,178.94 L45.91,178.33 L45.94,177.70 L45.97,177.07 L46.00,176.43 L46.03,175.80 L46.06,175.11 L46.09,174.43 L46.12,173.76 L46.15,173.07 L46.18,172.38 L46.21,171.67 L46.24,170.95 L46.27,170.23 L46.29,169.51 L46.32,168.78 L46.35,168.03 L46.38,167.30 L46.41,166.55 L46.44,165.81 L46.47,165.06 L46.50,164.31 L46.53,163.54 L46.56,162.79 L46.59,162.04 L46.63,161.29 L46.66,160.54 L46.69,159.76 L46.72,159.01 L46.75,158.26 L46.78,157.51 L46.82,156.75 L46.85,156.02 L46.88,155.27 L46.92,154.52 L46.95,153.77 L46.98,153.04 L47.02,152.33 L47.05,151.61 L47.09,150.91 L47.13,150.18 L47.16,149.49 L47.20,148.81 L47.24,148.11 L47.28,147.39 L47.32,146.67 L47.36,145.92 L47.40,145.16 L47.44,144.38 L47.48,143.59 L47.52,142.81 L47.57,142.01 L47.61,141.20 L47.66,140.38 L47.70,139.55 L47.75,138.70 L47.79,137.89 L47.84,137.04 L47.89,136.21 L47.93,135.35 L47.98,134.51 L48.03,133.67 L48.08,132.83 L48.12,131.98 L48.17,131.17 L48.22,130.33 L48.27,129.50 L48.31,128.69 L48.36,127.90 L48.41,127.11 L48.46,126.33 L48.50,125.55 L48.55,124.79 L48.60,124.03 L48.64,123.31 L48.69,122.61 L48.73,121.91 L48.78,121.23 L48.82,120.58 L48.87,119.93 L48.91,119.30 L48.95,118.71 L48.99,118.16 L49.04,117.62 L49.08,117.09 L49.12,116.58 L49.15,116.13 L49.19,115.70 L49.23,115.32 L49.27,114.93 L49.30,114.60 L49.34,114.27 L49.37,114.01 L49.40,113.80 L49.48,113.32 L49.56,113.07 L49.62,113.18 L49.69,113.26 L49.75,113.57 L49.80,114.07 L49.85,114.71 L49.90,115.46 L49.95,116.33 L49.99,117.28 L50.03,118.30 L50.08,119.37 L50.12,120.48 L50.16,121.60 L50.20,122.73 L50.25,123.85 L50.30,124.91 L50.35,125.94 L50.40,126.92 L50.43,127.47 L50.47,128.05 L50.50,128.66 L50.53,129.29 L50.56,129.94 L50.59,130.64 L50.62,131.30 L50.66,132.00 L50.69,132.72 L50.72,133.46 L50.75,134.20 L50.78,134.96 L50.82,135.71 L50.85,136.46 L50.88,137.23 L50.91,137.98 L50.95,138.76 L50.98,139.50 L51.01,140.27 L51.05,141.01 L51.08,141.75 L51.12,142.48 L51.15,143.20 L51.19,143.91 L51.22,144.59 L51.26,145.26 L51.30,145.90 L51.34,146.51 L51.38,147.14 L51.42,147.70 L51.46,148.26 L51.50,148.77 L51.59,149.75 L51.68,150.65 L51.77,151.42 L51.86,152.13 L51.96,152.77 L52.06,153.39 L52.16,153.96 L52.26,154.52 L52.37,155.09 L52.47,155.66 L52.58,156.21 L52.68,156.77 L52.79,157.42 L52.89,158.11 L53.00,158.88 L53.10,159.70 L53.16,160.27 L53.23,160.84 L53.29,161.46 L53.35,162.08 L53.41,162.71 L53.48,163.36 L53.54,164.03 L53.60,164.69 L53.66,165.37 L53.72,166.04 L53.79,166.76 L53.85,167.47 L53.91,168.19 L53.98,168.88 L54.04,169.60 L54.11,170.32 L54.17,171.02 L54.24,171.75 L54.30,172.49 L54.37,173.21 L54.44,173.91 L54.51,174.59 L54.58,175.28 L54.65,175.93 L54.73,176.56 L54.80,177.22 L54.88,177.95 L54.97,178.64 L55.05,179.35 L55.14,180.03 L55.22,180.72 L55.31,181.40 L55.40,182.11 L55.48,182.79 L55.57,183.45 L55.66,184.15 L55.75,184.81 L55.85,185.47 L55.94,186.11 L56.04,186.79 L56.13,187.43 L56.23,188.09 L56.34,188.74 L56.44,189.38 L56.55,190.03 L56.66,190.65 L56.77,191.30 L56.88,191.90 L57.00,192.51 L57.14,193.22 L57.29,193.97 L57.44,194.66 L57.59,195.35 L57.75,196.04 L57.91,196.74 L58.07,197.44 L58.24,198.08 L58.41,198.82 L58.58,199.52 L58.75,200.22 L58.93,200.88 L59.10,201.50 L59.28,202.14 L59.45,202.75 L59.62,203.37 L59.79,204.04 L59.97,204.62 L60.13,205.14 L60.30,205.67 L60.54,206.47 L60.78,207.21 L61.03,207.94 L61.27,208.62 L61.52,209.20 L61.77,209.87 L62.02,210.42 L62.26,211.01 L62.50,211.56 L62.74,212.18 L62.97,212.80 L63.19,213.31 L63.40,213.88 L63.60,214.37 L63.87,215.24 L64.12,216.09 L64.36,216.78 L64.58,217.49 L64.80,218.23 L65.01,218.91 L65.21,219.58 L65.41,220.23 L65.61,220.64 L65.80,221.03 L66.41,221.65 L66.97,221.55 L67.50,220.96 L67.66,220.58 L67.81,219.87 L67.96,219.11 L68.11,218.20 L68.26,217.30 L68.40,216.39 L68.55,215.56 L68.70,214.93 L68.85,214.42 L69.00,214.34 L69.15,214.51 L69.29,214.98 L69.43,215.45 L69.58,216.09 L69.72,216.87 L69.87,217.71 L70.03,218.61 L70.20,219.48 L70.39,220.22 L70.60,221.00 L70.80,221.62 L71.01,222.30 L71.23,222.90 L71.46,223.56 L71.70,224.20 L71.95,224.80 L72.21,225.53 L72.49,226.10 L72.78,226.61 L73.08,227.07 L73.40,227.44 L73.85,227.99 L74.31,228.37 L74.79,228.67 L75.29,228.98 L75.84,229.20 L76.43,229.54 L77.08,229.54 L77.80,229.50 L78.35,229.80 L78.98,229.79 L79.67,229.67 L80.41,229.85 L81.16,229.84 L81.92,229.48 L82.67,229.61 L83.38,229.66 L84.04,229.69 L84.62,229.54 L85.12,229.33 L85.50,229.30" fill="none" stroke="#111" stroke-width="1.35" stroke-linejoin="round"/>
<path d="M91.60,231.30 L91.97,231.28 L92.43,231.45 L92.97,231.30 L93.58,231.41 L94.24,231.16 L94.94,231.14 L95.67,231.22 L96.42,231.24 L97.17,231.25 L97.92,230.93 L98.65,231.15 L99.34,231.19 L100.00,231.20 L100.70,230.94 L101.42,231.11 L102.15,230.96 L102.89,230.80 L103.62,230.88 L104.34,230.71 L105.05,230.68 L105.73,230.82 L106.37,230.76 L106.97,230.58 L107.51,230.78 L108.00,230.53 L108.80,230.17 L109.40,229.89 L109.86,229.56 L110.23,229.17 L110.56,228.65 L110.90,228.02 L111.12,227.47 L111.32,226.85 L111.49,226.23 L111.64,225.51 L111.77,224.77 L111.90,224.06 L112.03,223.33 L112.16,222.62 L112.30,221.98 L112.46,221.29 L112.61,220.51 L112.76,219.70 L112.91,218.98 L113.05,218.27 L113.20,217.68 L113.35,217.30 L113.50,217.07 L113.71,217.16 L113.93,217.70 L114.15,218.42 L114.37,219.27 L114.59,220.16 L114.80,220.95 L114.94,221.55 L115.07,222.09 L115.20,222.79 L115.33,223.45 L115.46,224.11 L115.59,224.74 L115.72,225.40 L115.86,226.04 L116.00,226.56 L116.22,227.29 L116.39,227.98 L116.60,228.53 L116.91,229.08 L117.40,229.44 L117.89,229.68 L118.50,230.04 L119.18,230.03 L119.90,230.09 L120.64,230.34 L121.35,230.24 L122.00,230.19 L122.70,230.47 L123.38,230.61 L124.04,230.90 L124.69,231.13 L125.34,231.16 L126.00,231.38 L126.68,231.52 L127.37,231.35 L128.06,231.20 L128.74,231.30 L129.39,231.07 L130.00,230.98 L130.66,231.08 L131.26,231.14 L131.83,230.91 L132.40,230.89 L133.00,230.83 L133.67,230.62 L134.40,230.98 L135.12,230.71 L135.77,230.71 L136.30,230.53 L136.75,229.92 L137.03,229.33 L137.24,228.73 L137.50,228.62 L137.77,228.68 L138.03,229.27 L138.34,230.12 L138.80,230.67 L139.29,230.86 L139.86,230.96 L140.50,231.12 L141.21,230.84 L142.00,231.10 L142.55,231.20 L143.17,231.19 L143.83,231.11 L144.51,231.14 L145.19,231.20 L145.85,230.95 L146.46,230.88 L147.00,231.07 L147.73,230.93 L148.34,230.86 L148.90,230.75 L149.43,230.69 L150.00,230.81 L150.61,230.84 L151.22,230.74 L151.84,230.58 L152.43,230.84 L153.00,230.62 L153.55,230.43 L154.08,230.15 L154.60,229.88 L155.07,229.37 L155.50,228.87 L155.86,228.49 L156.17,227.99 L156.45,227.30 L156.72,226.67 L157.00,226.00 L157.24,225.36 L157.46,224.76 L157.69,224.17 L157.93,223.51 L158.19,222.93 L158.50,222.43 L158.94,222.11 L159.45,221.88 L159.98,222.02 L160.51,221.66 L161.00,220.94 L161.17,220.54 L161.34,219.96 L161.50,219.37 L161.66,218.76 L161.82,218.04 L161.97,217.33 L162.13,216.59 L162.28,215.81 L162.44,215.10 L162.60,214.31 L162.76,213.53 L162.93,212.79 L163.10,212.07 L163.28,211.31 L163.47,210.55 L163.66,209.66 L163.85,208.77 L164.05,207.88 L164.24,206.92 L164.44,206.08 L164.64,205.23 L164.84,204.62 L165.04,204.02 L165.23,203.62 L165.42,203.33 L165.60,203.30 L165.74,203.39 L165.87,203.72 L166.00,204.16 L166.13,204.72 L166.26,205.34 L166.38,205.96 L166.51,206.71 L166.63,207.49 L166.76,208.33 L166.88,209.22 L167.01,210.09 L167.13,210.99 L167.26,211.88 L167.39,212.67 L167.52,213.54 L167.66,214.34 L167.80,215.04 L167.93,215.66 L168.07,216.31 L168.21,217.06 L168.34,217.78 L168.48,218.48 L168.62,219.22 L168.76,219.99 L168.91,220.72 L169.05,221.37 L169.20,222.16 L169.34,222.83 L169.49,223.51 L169.64,224.12 L169.79,224.70 L169.94,225.28 L170.09,225.81 L170.25,226.32 L170.40,226.66 L170.87,227.71 L171.36,228.42 L171.86,228.81 L172.36,229.02 L172.88,229.24 L173.40,229.36 L174.05,229.30 L174.74,228.91 L175.42,228.55 L176.09,228.19 L176.70,228.04 L177.20,228.33 L177.60,228.87 L178.00,229.45 L178.50,229.95 L179.20,230.36 L179.71,230.44 L180.30,230.66 L180.95,230.76 L181.64,230.69 L182.36,230.51 L183.07,230.72 L183.76,230.82 L184.41,230.71 L185.00,230.60 L185.67,230.13 L186.28,229.79 L186.84,229.20 L187.39,228.75 L187.93,228.00 L188.50,227.72 L189.10,227.76 L189.59,228.13 L190.08,228.32 L190.58,228.64 L191.09,229.15 L191.60,229.63 L192.13,229.93 L192.67,230.38 L193.23,230.81 L193.80,231.01 L194.40,231.10 L195.02,231.18 L195.66,230.87 L196.31,230.67 L196.98,230.45 L197.64,230.35 L198.30,230.02 L198.96,229.74 L199.60,229.51 L200.18,229.16 L200.78,228.87 L201.39,228.49 L202.00,228.12 L202.61,227.74 L203.19,227.39 L203.75,226.92 L204.28,226.74 L204.77,226.42 L205.20,226.50 L205.83,226.55 L206.23,227.23 L206.56,227.95 L206.99,228.59 L207.70,228.60 L208.11,228.40 L208.59,227.92 L209.13,227.58 L209.70,227.02 L210.30,226.49 L210.92,225.83 L211.54,225.28 L212.14,224.80 L212.73,224.38 L213.27,224.02 L213.77,223.63 L214.20,223.34 L214.91,223.47 L215.49,223.93 L215.97,224.67 L216.40,225.47 L216.79,226.16 L217.20,226.36 L217.75,226.10 L218.21,225.63 L218.68,225.26 L219.30,224.88 L219.75,225.43 L220.26,226.03 L220.80,226.70 L221.37,227.31 L221.93,227.74 L222.48,227.91 L223.00,227.99 L223.38,227.90 L223.74,227.46 L224.10,226.87 L224.45,226.08 L224.79,225.32 L225.14,224.56 L225.49,223.90 L225.84,223.55 L226.20,223.25 L226.52,223.63 L226.84,224.13 L227.15,224.64 L227.46,225.26 L227.78,226.11 L228.11,226.90 L228.45,227.74 L228.81,228.40 L229.19,229.08 L229.60,229.60 L230.15,230.18 L230.74,230.41 L231.36,230.67 L232.00,230.76 L232.66,230.71 L233.34,231.26 L234.02,231.13 L234.70,231.64 L235.33,231.77 L235.99,232.03 L236.67,231.92 L237.36,232.26 L238.04,232.34 L238.71,232.51 L239.35,232.80 L239.95,232.71 L240.50,232.71 L241.23,232.45 L241.88,232.32 L242.46,232.12 L243.00,231.97 L243.51,231.89 L244.00,231.61 L244.56,231.37 L245.08,231.01 L245.55,230.65 L245.99,230.02 L246.40,229.00 L246.54,228.52 L246.66,227.98 L246.77,227.34 L246.87,226.69 L246.97,225.95 L247.06,225.19 L247.16,224.41 L247.25,223.65 L247.35,222.90 L247.46,222.16 L247.57,221.45 L247.70,220.77 L247.84,220.20 L248.00,219.69 L248.31,218.97 L248.66,218.21 L249.04,217.74 L249.44,217.33 L249.85,216.86 L250.27,216.43 L250.69,216.07 L251.10,215.73 L251.58,215.15 L252.08,214.68 L252.58,214.12 L253.09,213.63 L253.59,213.18 L254.06,213.00 L254.50,213.16 L254.78,213.42 L255.04,213.88 L255.27,214.47 L255.50,215.14 L255.72,215.88 L255.94,216.71 L256.18,217.48 L256.42,218.25 L256.70,218.97 L257.00,219.68 L257.30,220.24 L257.61,220.87 L257.93,221.62 L258.26,222.31 L258.61,223.03 L258.97,223.59 L259.33,224.26 L259.71,224.90 L260.10,225.36 L260.50,225.85 L260.90,226.13 L261.48,226.62 L262.09,226.75 L262.72,226.76 L263.36,226.91 L264.02,227.43 L264.68,227.14 L265.34,227.29 L266.00,227.15 L266.66,227.33 L267.32,227.27 L268.00,227.15 L268.68,227.33 L269.35,227.40 L270.01,227.35 L270.66,227.48 L271.30,227.13 L272.02,227.34 L272.73,227.25 L273.44,227.27 L274.13,227.03 L274.79,227.01 L275.42,226.78 L276.00,226.83 L276.74,227.07 L277.41,227.47 L278.02,227.52 L278.58,227.22 L279.10,226.14 L279.20,225.82 L279.30,225.43 L279.40,224.95 L279.49,224.56 L279.58,224.05 L279.66,223.56 L279.75,223.02 L279.83,222.44 L279.91,221.84 L279.99,221.21 L280.06,220.58 L280.14,219.89 L280.21,219.19 L280.28,218.46 L280.35,217.73 L280.43,216.96 L280.50,216.16 L280.57,215.33 L280.64,214.48 L280.71,213.63 L280.78,212.74 L280.85,211.85 L280.93,210.93 L281.00,209.98 L281.04,209.41 L281.09,208.83 L281.13,208.19 L281.17,207.50 L281.22,206.80 L281.26,206.06 L281.30,205.28 L281.35,204.47 L281.39,203.64 L281.43,202.80 L281.48,201.93 L281.52,201.04 L281.56,200.15 L281.61,199.25 L281.65,198.33 L281.69,197.41 L281.74,196.50 L281.78,195.60 L281.82,194.70 L281.86,193.78 L281.91,192.88 L281.95,191.99 L281.99,191.13 L282.03,190.26 L282.07,189.43 L282.11,188.62 L282.15,187.83 L282.19,187.07 L282.23,186.33 L282.27,185.63 L282.31,184.95 L282.35,184.33 L282.39,183.76 L282.42,183.22 L282.46,182.72 L282.50,182.28 L282.53,181.87 L282.57,181.55 L282.60,181.26 L282.63,181.04 L282.67,180.90 L282.70,180.87 L282.74,180.78 L282.77,180.82 L282.81,180.98 L282.85,181.20 L282.88,181.47 L282.91,181.84 L282.94,182.26 L282.97,182.73 L283.00,183.29 L283.03,183.89 L283.06,184.53 L283.09,185.22 L283.12,185.95 L283.15,186.72 L283.17,187.52 L283.20,188.36 L283.22,189.22 L283.25,190.11 L283.28,191.03 L283.30,191.95 L283.33,192.88 L283.35,193.83 L283.38,194.78 L283.40,195.72 L283.43,196.66 L283.45,197.59 L283.48,198.50 L283.50,199.41 L283.53,200.30 L283.56,201.16 L283.59,202.00 L283.61,202.80 L283.64,203.59 L283.67,204.31 L283.70,204.99 L283.73,205.71 L283.76,206.43 L283.78,207.17 L283.81,207.91 L283.83,208.66 L283.85,209.42 L283.86,210.20 L283.88,210.97 L283.90,211.74 L283.91,212.50 L283.93,213.28 L283.94,214.06 L283.96,214.82 L283.97,215.59 L283.99,216.35 L284.01,217.09 L284.03,217.84 L284.05,218.57 L284.08,219.29 L284.10,219.98 L284.13,220.69 L284.16,221.37 L284.20,222.02 L284.24,222.67 L284.28,223.29 L284.33,223.87 L284.38,224.47 L284.44,225.05 L284.50,225.58 L284.56,226.07 L284.64,226.56 L284.72,227.00 L284.80,227.41 L285.15,228.68 L285.55,229.51 L286.00,230.20 L286.49,230.46 L287.02,230.55 L287.59,230.76 L288.20,231.01 L288.84,231.13 L289.50,231.30 L290.07,231.46 L290.69,231.62 L291.33,231.79 L292.00,231.86 L292.69,232.04 L293.40,232.01 L294.12,232.29 L294.84,232.21 L295.57,232.31 L296.29,232.31 L297.00,232.38 L297.66,232.42 L298.34,232.55 L299.04,232.91 L299.74,232.86 L300.45,233.09 L301.16,233.54 L301.85,233.60 L302.54,233.64 L303.20,233.77 L303.83,233.62 L304.44,233.53 L305.00,233.75 L305.77,233.82 L306.45,233.68 L307.08,233.48 L307.66,233.12 L308.23,232.84 L308.79,232.70 L309.38,232.19 L310.00,232.05 L310.60,231.73 L311.22,231.43 L311.86,231.42 L312.50,231.15 L313.14,231.12 L313.76,231.02 L314.35,230.75 L314.90,230.34 L315.40,229.97 L315.85,229.62 L316.26,229.23 L316.64,228.86 L317.00,228.12 L317.32,227.57 L317.63,226.95 L317.93,226.29 L318.22,225.76 L318.50,225.02 L318.71,224.48 L318.90,223.79 L319.09,223.05 L319.27,222.35 L319.44,221.57 L319.61,220.86 L319.76,220.08 L319.92,219.30 L320.07,218.63 L320.21,218.06 L320.36,217.44 L320.50,217.02 L320.89,215.94 L321.24,215.26 L321.57,214.94 L321.90,215.00 L322.07,215.22 L322.23,215.63 L322.39,216.18 L322.56,216.83 L322.72,217.57 L322.88,218.33 L323.04,219.20 L323.20,220.02 L323.29,220.56 L323.38,221.21 L323.45,221.90 L323.53,222.65 L323.60,223.40 L323.67,224.16 L323.75,224.95 L323.84,225.72 L323.94,226.43 L324.05,227.13 L324.18,227.72 L324.33,228.37 L324.50,228.84 L324.96,229.55 L325.52,229.84 L326.14,229.97 L326.79,229.98 L327.42,230.00 L328.00,229.84 L328.68,230.19 L329.38,229.86 L330.04,229.80 L330.60,229.73 L331.00,230.00" fill="none" stroke="#111" stroke-width="1.35" stroke-linejoin="round"/>
<text x="54.6" y="44.5" font-size="10.1" text-anchor="start" fill="#111" font-weight="normal" transform="rotate(-90 54.6 44.5)">2951</text>
<text x="44.4" y="102.5" font-size="10.1" text-anchor="start" fill="#111" font-weight="normal" transform="rotate(-90 44.4 102.5)">3003</text>
<text x="74.8" y="118.3" font-size="10.1" text-anchor="start" fill="#111" font-weight="normal" transform="rotate(-90 74.8 118.3)">2843</text>
<text x="119.4" y="121.2" font-size="10.1" text-anchor="start" fill="#111" font-weight="normal" transform="rotate(-90 119.4 121.2)">1730</text>
<text x="170.6" y="104.9" font-size="10.1" text-anchor="start" fill="#111" font-weight="normal" transform="rotate(-90 170.6 104.9)">1455</text>
<text x="194.7" y="131.6" font-size="10.1" text-anchor="start" fill="#111" font-weight="normal" transform="rotate(-90 194.7 131.6)">1332</text>
<text x="210.4" y="130.0" font-size="10.1" text-anchor="start" fill="#111" font-weight="normal" transform="rotate(-90 210.4 130.0)">1242</text>
<text x="230.8" y="127.6" font-size="10.1" text-anchor="start" fill="#111" font-weight="normal" transform="rotate(-90 230.8 127.6)">1123</text>
<text x="256.8" y="82.9" font-size="10.1" text-anchor="start" fill="#111" font-weight="normal" transform="rotate(-90 256.8 82.9)">982</text>
<text x="262.5" y="118.0" font-size="10.1" text-anchor="start" fill="#111" font-weight="normal" transform="rotate(-90 262.5 118.0)">966</text>
<text x="287.4" y="84.4" font-size="10.1" text-anchor="start" fill="#111" font-weight="normal" transform="rotate(-90 287.4 84.4)">814</text>
<text x="326.5" y="119.2" font-size="10.1" text-anchor="start" fill="#111" font-weight="normal" transform="rotate(-90 326.5 119.2)">601</text>
<text x="92.0" y="118.3" font-size="10.1" text-anchor="start" fill="#f03c44" font-weight="normal" transform="rotate(-90 92.0 118.3)">2821</text>
<g stroke="#444" stroke-width="0.8" fill="none"><path d="M290.8,30.5 L299.7,24.9 L311.8,31.6 L319.7,27.4"/><path d="M311.8,18.4 V42.1"/><path d="M295.2,20.5 H294.5 V36.3 H295.2"/><path d="M316.2,20.5 H316.9 V36.3 H316.2"/><path d="M311.8,42.1 L319.6,46.6 M312.6,40.7 L320.4,45.2"/><path d="M311.8,42.1 L302.6,47.3"/><path d="M299.6,53.6 V59.2"/></g>
<text x="304.3" y="16.9" font-size="6.6" text-anchor="start" fill="#444" font-weight="normal">CH<tspan font-size="5.5">3</tspan></text>
<text x="297.0" y="65.5" font-size="6.6" text-anchor="start" fill="#444" font-weight="normal">CH<tspan font-size="5.5">3</tspan></text>
<text x="320.6" y="51.1" font-size="6.8" text-anchor="start" fill="#444" font-weight="normal">O</text>
<text x="296.9" y="51.8" font-size="6.8" text-anchor="start" fill="#444" font-weight="normal">O</text>
<text x="318.2" y="41.0" font-size="6.5" text-anchor="start" fill="#333" font-weight="normal" font-style="italic">n</text>
<line x1="384.3" y1="72.3" x2="396.6" y2="79.5" stroke="#111" stroke-width="0.7"/>
<line x1="428.3" y1="26.7" x2="414.1" y2="38.3" stroke="#111" stroke-width="0.7"/>
<line x1="432.8" y1="97.2" x2="419.6" y2="107.0" stroke="#111" stroke-width="0.7"/>
<line x1="577.0" y1="83.8" x2="570.5" y2="97.2" stroke="#111" stroke-width="0.7"/>
<path d="M373.10,163.40 L373.45,163.05 L373.90,163.23 L374.42,162.76 L375.01,162.44 L375.65,161.97 L376.33,161.44 L377.02,160.95 L377.73,161.31 L378.42,161.06 L379.10,160.46 L379.58,160.47 L380.09,160.16 L380.61,159.43 L381.15,158.97 L381.70,158.93 L382.25,158.78 L382.80,158.04 L383.35,157.77 L383.89,157.44 L384.41,156.98 L384.92,156.25 L385.41,155.78 L385.87,155.28 L386.30,154.50 L386.68,154.02 L387.04,153.44 L387.39,152.69 L387.72,152.33 L388.04,151.82 L388.34,151.17 L388.64,150.84 L388.92,150.44 L389.20,149.84 L389.46,149.06 L389.72,148.26 L389.97,147.80 L390.22,146.99 L390.46,146.45 L390.70,145.58 L390.87,145.07 L391.03,144.47 L391.18,143.94 L391.33,143.49 L391.48,142.93 L391.62,142.22 L391.76,141.81 L391.89,141.23 L392.02,140.58 L392.15,139.83 L392.27,139.16 L392.40,138.47 L392.51,137.79 L392.63,137.19 L392.74,136.44 L392.86,135.65 L392.97,134.86 L393.08,134.04 L393.18,133.10 L393.29,132.25 L393.40,131.29 L393.46,130.73 L393.51,130.18 L393.57,129.54 L393.62,129.05 L393.68,128.44 L393.73,127.84 L393.79,127.16 L393.84,126.53 L393.89,125.87 L393.94,125.13 L393.99,124.47 L394.04,123.85 L394.09,123.12 L394.14,122.40 L394.19,121.68 L394.23,120.98 L394.28,120.22 L394.33,119.42 L394.37,118.72 L394.42,118.00 L394.46,117.25 L394.51,116.46 L394.55,115.73 L394.59,114.97 L394.64,114.24 L394.68,113.49 L394.72,112.79 L394.76,112.06 L394.80,111.30 L394.84,110.56 L394.88,109.85 L394.93,109.17 L394.97,108.46 L395.00,107.79 L395.04,107.15 L395.08,106.49 L395.12,105.81 L395.16,105.23 L395.20,104.69 L395.25,103.84 L395.30,103.00 L395.35,102.20 L395.39,101.45 L395.44,100.60 L395.48,99.84 L395.53,99.04 L395.57,98.29 L395.62,97.48 L395.66,96.68 L395.70,95.90 L395.74,95.16 L395.78,94.39 L395.82,93.63 L395.86,92.85 L395.90,92.17 L395.94,91.46 L395.98,90.83 L396.01,90.13 L396.05,89.51 L396.09,88.83 L396.12,88.22 L396.16,87.59 L396.20,87.01 L396.23,86.46 L396.26,85.89 L396.30,85.38 L396.33,84.95 L396.37,84.42 L396.40,83.98 L396.53,82.44 L396.65,81.28 L396.76,80.48 L396.86,79.91 L396.97,79.72 L397.08,79.52 L397.20,79.34 L397.33,79.21 L397.47,79.69 L397.61,80.34 L397.76,81.19 L397.91,81.97 L398.06,83.07 L398.20,84.00 L398.26,84.52 L398.33,85.15 L398.39,85.72 L398.46,86.36 L398.52,87.10 L398.59,87.85 L398.65,88.60 L398.72,89.42 L398.78,90.15 L398.85,90.95 L398.91,91.61 L398.97,92.32 L399.03,93.06 L399.09,93.75 L399.15,94.42 L399.20,95.00 L399.27,95.89 L399.34,96.74 L399.41,97.65 L399.47,98.50 L399.53,99.37 L399.59,100.20 L399.64,100.93 L399.70,101.56 L399.76,101.91 L399.83,102.11 L399.90,102.08 L399.97,102.15 L400.05,101.83 L400.13,101.47 L400.22,100.84 L400.30,100.19 L400.39,99.47 L400.47,98.59 L400.56,97.71 L400.64,96.76 L400.72,95.82 L400.80,94.91 L400.85,94.43 L400.90,93.87 L400.95,93.09 L401.00,92.41 L401.05,91.74 L401.10,91.02 L401.15,90.30 L401.20,89.61 L401.25,88.87 L401.30,88.17 L401.35,87.38 L401.40,86.67 L401.45,86.04 L401.50,85.30 L401.55,84.58 L401.60,83.95 L401.66,83.20 L401.72,82.35 L401.78,81.63 L401.84,80.89 L401.90,80.10 L401.96,79.35 L402.02,78.61 L402.08,77.90 L402.15,77.17 L402.23,76.54 L402.31,76.02 L402.40,75.53 L402.50,75.07 L402.79,73.99 L403.12,73.59 L403.48,73.42 L403.87,73.17 L404.30,72.45 L404.55,71.88 L404.82,71.38 L405.10,71.04 L405.40,70.68 L405.69,69.67 L406.00,69.11 L406.30,68.59 L406.60,67.94 L406.90,66.78 L407.03,66.23 L407.17,65.62 L407.30,65.29 L407.43,64.73 L407.57,64.03 L407.70,63.57 L407.84,62.91 L407.97,62.12 L408.11,61.32 L408.24,60.51 L408.38,59.82 L408.52,58.97 L408.65,58.30 L408.79,57.49 L408.92,56.84 L409.06,56.10 L409.19,55.44 L409.33,54.86 L409.46,54.23 L409.60,53.55 L409.78,52.72 L409.97,51.89 L410.17,51.07 L410.37,50.49 L410.57,49.74 L410.77,48.87 L410.96,48.37 L411.16,47.57 L411.35,47.07 L411.53,46.40 L411.71,45.83 L411.88,45.22 L412.03,44.55 L412.17,44.08 L412.30,43.64 L412.60,42.41 L412.79,41.54 L412.93,40.76 L413.05,40.15 L413.20,40.80 L413.27,41.10 L413.34,41.55 L413.41,42.04 L413.48,42.51 L413.55,43.04 L413.62,43.69 L413.68,44.39 L413.75,45.18 L413.82,45.95 L413.89,46.85 L413.96,47.81 L414.03,48.85 L414.10,49.99 L414.13,50.51 L414.16,51.02 L414.19,51.55 L414.22,52.17 L414.24,52.76 L414.27,53.37 L414.30,54.01 L414.33,54.67 L414.36,55.33 L414.39,55.98 L414.42,56.67 L414.44,57.40 L414.47,58.10 L414.50,58.84 L414.53,59.59 L414.56,60.28 L414.59,61.03 L414.62,61.76 L414.64,62.51 L414.67,63.27 L414.70,64.04 L414.73,64.80 L414.76,65.52 L414.79,66.28 L414.82,67.02 L414.85,67.74 L414.88,68.48 L414.91,69.18 L414.94,69.90 L414.97,70.60 L415.00,71.33 L415.03,72.02 L415.06,72.73 L415.10,73.48 L415.13,74.20 L415.17,74.96 L415.20,75.77 L415.23,76.55 L415.27,77.31 L415.31,78.09 L415.34,78.82 L415.38,79.63 L415.41,80.38 L415.45,81.16 L415.48,81.92 L415.52,82.69 L415.55,83.42 L415.59,84.12 L415.62,84.82 L415.66,85.52 L415.69,86.26 L415.73,86.94 L415.76,87.58 L415.79,88.27 L415.82,88.89 L415.86,89.45 L415.89,90.00 L415.92,90.57 L415.94,91.07 L415.97,91.51 L416.00,91.97 L416.10,93.50 L416.19,94.71 L416.26,95.46 L416.34,95.97 L416.41,96.20 L416.50,96.32 L416.60,96.43 L416.91,96.38 L417.27,95.44 L417.60,95.53 L417.72,95.97 L417.84,96.26 L417.96,96.88 L418.07,97.47 L418.18,98.17 L418.29,98.92 L418.40,99.93 L418.45,100.33 L418.51,100.83 L418.56,101.44 L418.61,101.96 L418.66,102.41 L418.72,102.96 L418.77,103.59 L418.82,104.25 L418.87,104.90 L418.93,105.60 L418.98,106.38 L419.03,107.22 L419.09,108.03 L419.14,108.96 L419.20,110.01 L419.23,110.53 L419.25,111.05 L419.28,111.59 L419.31,112.26 L419.34,112.89 L419.36,113.55 L419.39,114.22 L419.42,114.94 L419.45,115.66 L419.48,116.40 L419.50,117.10 L419.53,117.85 L419.56,118.63 L419.59,119.38 L419.62,120.15 L419.65,120.95 L419.67,121.71 L419.70,122.45 L419.73,123.25 L419.76,124.01 L419.79,124.75 L419.82,125.49 L419.85,126.22 L419.88,126.92 L419.91,127.63 L419.94,128.29 L419.97,128.95 L420.00,129.63 L420.04,130.19 L420.07,130.69 L420.10,131.31 L420.16,132.27 L420.22,133.14 L420.28,134.02 L420.34,134.79 L420.40,135.64 L420.47,136.30 L420.53,137.09 L420.59,137.85 L420.66,138.46 L420.72,139.12 L420.79,139.74 L420.86,140.23 L420.92,140.81 L420.99,141.49 L421.06,141.99 L421.13,142.63 L421.20,143.07 L421.33,143.90 L421.44,144.66 L421.56,145.31 L421.67,145.77 L421.79,146.42 L421.93,147.13 L422.09,147.46 L422.28,147.84 L422.50,148.31 L422.83,149.20 L423.19,149.93 L423.59,150.20 L424.02,150.82 L424.48,151.45 L424.98,151.64 L425.50,151.77 L426.05,152.27 L426.64,152.05 L427.25,152.33 L427.89,152.69 L428.57,153.27 L429.27,153.26 L430.00,153.09 L430.63,152.48 L431.33,152.86 L432.08,152.70 L432.85,153.39 L433.61,152.95 L434.32,152.74 L434.96,152.37 L435.50,152.37 L435.90,152.50" fill="none" stroke="#2a7ae2" stroke-width="1.45" stroke-linejoin="round"/>
<path d="M441.50,152.70 L441.87,152.84 L442.31,152.29 L442.82,152.33 L443.38,152.00 L443.99,151.79 L444.64,152.48 L445.33,152.27 L446.05,152.27 L446.80,152.57 L447.57,152.25 L448.35,152.24 L449.14,152.32 L449.93,152.14 L450.72,152.00 L451.49,152.75 L452.25,152.81 L452.99,152.89 L453.69,152.13 L454.37,152.13 L455.00,152.62 L455.76,152.82 L456.51,152.23 L457.26,152.46 L458.00,152.99 L458.73,152.92 L459.44,152.53 L460.15,152.16 L460.85,151.54 L461.53,151.81 L462.21,152.08 L462.86,152.14 L463.50,152.09 L464.13,152.43 L464.74,152.73 L465.33,151.99 L465.90,152.10 L466.70,152.06 L467.47,152.08 L468.21,151.86 L468.92,152.12 L469.60,152.45 L470.24,151.94 L470.86,151.74 L471.44,152.22 L471.99,151.53 L472.51,151.89 L473.00,151.78 L473.92,151.39 L474.65,151.71 L475.25,151.64 L475.78,151.77 L476.30,151.62 L476.73,151.04 L477.11,150.42 L477.46,149.67 L477.78,149.05 L478.09,148.09 L478.40,147.79 L478.74,148.43 L479.03,148.96 L479.32,149.87 L479.63,150.45 L480.00,150.87 L480.56,151.25 L481.19,150.96 L481.85,152.17 L482.50,151.53 L483.14,151.56 L483.80,150.69 L484.43,151.02 L485.00,150.65 L485.48,150.48 L485.91,149.79 L486.30,149.46 L486.70,148.96 L487.01,149.15 L487.29,149.55 L487.59,150.20 L487.91,150.64 L488.30,151.05 L488.75,151.71 L489.19,152.07 L489.86,151.46 L491.00,151.69 L491.49,151.73 L492.06,151.23 L492.70,151.68 L493.39,151.28 L494.12,151.53 L494.88,151.84 L495.65,151.31 L496.43,151.50 L497.21,151.64 L497.96,151.11 L498.69,151.27 L499.37,151.71 L500.00,151.73 L500.77,150.95 L501.52,149.92 L502.26,150.27 L502.97,150.17 L503.66,151.04 L504.31,150.68 L504.92,151.35 L505.50,150.50 L506.02,150.34 L506.50,150.47 L507.27,149.93 L507.83,150.25 L508.25,149.48 L508.62,149.13 L509.00,148.59 L509.29,148.47 L509.55,148.28 L509.80,147.59 L510.03,147.05 L510.25,146.44 L510.47,145.56 L510.70,144.60 L510.79,143.94 L510.87,143.38 L510.96,142.73 L511.04,142.15 L511.13,141.55 L511.21,140.81 L511.29,140.01 L511.37,139.23 L511.46,138.51 L511.54,137.67 L511.62,136.84 L511.70,136.08 L511.78,135.23 L511.86,134.53 L511.95,133.84 L512.03,133.16 L512.11,132.50 L512.20,132.10 L512.34,131.23 L512.49,130.34 L512.63,129.49 L512.78,128.51 L512.93,127.73 L513.08,127.01 L513.23,126.36 L513.38,125.90 L513.52,125.39 L513.66,125.26 L513.80,124.98 L514.05,124.93 L514.29,125.53 L514.52,126.33 L514.75,127.11 L514.97,128.03 L515.20,128.32 L515.65,128.70 L516.09,128.43 L516.50,127.86 L516.65,128.28 L516.79,128.67 L516.93,129.10 L517.07,129.94 L517.20,130.77 L517.34,131.64 L517.47,132.35 L517.60,132.99 L517.70,133.67 L517.80,134.22 L517.89,134.83 L517.97,135.48 L518.06,136.05 L518.15,136.75 L518.25,137.39 L518.36,137.94 L518.47,138.71 L518.60,139.27 L518.72,139.94 L518.84,140.73 L518.95,141.39 L519.07,142.22 L519.20,142.85 L519.33,143.63 L519.48,144.43 L519.65,145.02 L519.84,145.58 L520.06,146.14 L520.30,146.45 L520.74,147.09 L521.25,147.61 L521.81,147.90 L522.40,148.59 L523.02,149.07 L523.66,149.08 L524.30,149.38 L524.87,149.75 L525.46,149.02 L526.08,149.56 L526.70,148.65 L527.33,148.32 L527.96,148.29 L528.59,147.57 L529.20,147.42 L529.81,147.10 L530.42,146.97 L531.04,147.21 L531.65,146.37 L532.26,145.84 L532.85,145.53 L533.43,145.06 L534.00,144.74 L534.56,144.25 L535.11,144.29 L535.66,143.72 L536.20,143.40 L536.72,142.97 L537.21,142.05 L537.67,141.93 L538.10,142.12 L538.69,141.87 L539.18,142.37 L539.61,143.01 L540.04,143.27 L540.50,143.44 L541.12,143.77 L541.75,143.33 L542.38,143.01 L543.00,142.42 L543.40,142.74 L543.78,143.51 L544.16,143.73 L544.54,144.42 L544.95,144.79 L545.40,145.45 L545.87,146.18 L546.34,146.80 L546.84,146.60 L547.38,146.93 L547.96,146.60 L548.60,147.32 L549.13,147.35 L549.71,148.43 L550.32,147.69 L550.95,147.51 L551.60,147.61 L552.24,148.29 L552.88,147.71 L553.50,148.40 L554.21,148.16 L554.93,148.64 L555.66,148.31 L556.37,148.03 L557.06,148.48 L557.71,148.37 L558.30,148.22 L558.83,147.99 L559.32,147.84 L559.77,147.37 L560.19,146.52 L560.58,146.01 L560.94,145.33 L561.30,145.77 L561.65,145.20 L561.93,145.66 L562.18,146.65 L562.44,147.42 L562.77,148.21 L563.20,148.58 L563.69,148.81 L564.29,148.94 L564.95,148.30 L565.62,147.85 L566.27,147.61 L566.84,147.51 L567.30,146.46 L567.63,146.20 L567.88,145.64 L568.06,145.04 L568.20,144.30 L568.32,143.70 L568.45,143.17 L568.60,142.47 L568.83,141.93 L569.05,141.06 L569.26,140.35 L569.48,139.88 L569.70,140.11 L569.93,139.50 L570.17,140.00 L570.42,140.78 L570.66,141.32 L570.90,141.73 L571.12,142.50 L571.32,143.06 L571.53,143.73 L571.78,144.31 L572.10,144.60 L572.65,144.97 L573.33,145.28 L574.01,144.95 L574.60,145.41 L574.87,146.20 L574.99,146.60 L575.14,147.24 L575.48,148.28 L576.20,148.52 L576.65,148.55 L577.17,148.78 L577.77,148.72 L578.42,148.74 L579.11,149.34 L579.84,148.09 L580.60,148.28 L581.36,148.25 L582.12,148.52 L582.87,148.39 L583.60,148.59 L584.30,148.50 L584.98,147.45 L585.66,147.34 L586.35,147.50 L587.03,147.11 L587.72,147.12 L588.41,147.53 L589.09,146.76 L589.77,146.50 L590.44,146.82 L591.10,146.57 L591.76,146.67 L592.40,147.31 L593.10,147.30 L593.80,146.78 L594.49,146.92 L595.19,147.05 L595.87,147.13 L596.54,146.80 L597.20,147.33 L597.83,147.95 L598.45,147.42 L599.04,147.05 L599.60,147.59 L600.31,147.60 L600.97,147.24 L601.57,146.52 L602.14,146.49 L602.70,145.88 L603.25,145.13 L603.81,145.08 L604.40,145.59 L605.02,145.85 L605.66,146.15 L606.32,146.50 L606.97,147.16 L607.60,146.80 L608.21,146.78 L608.78,147.55 L609.30,147.75 L610.00,147.31 L610.57,146.77 L611.09,146.29 L611.61,145.93 L612.20,145.53 L612.65,145.66 L613.09,146.23 L613.54,146.76 L614.02,147.12 L614.54,147.64 L615.13,148.17 L615.80,149.43 L616.34,148.18 L616.94,148.03 L617.59,147.23 L618.27,147.43 L618.98,147.50 L619.68,147.47 L620.38,146.92 L621.06,146.38 L621.71,146.34 L622.30,146.23 L622.92,145.17 L623.51,144.93 L624.08,144.64 L624.63,144.27 L625.16,143.82 L625.67,144.07 L626.17,143.67 L626.64,143.35 L627.10,142.68 L627.65,142.41 L628.16,141.58 L628.62,140.75 L629.07,139.79 L629.51,139.67 L629.95,139.03 L630.40,138.68 L630.71,139.56 L630.99,139.81 L631.26,140.43 L631.53,141.23 L631.80,141.59 L632.09,142.40 L632.40,143.16 L632.75,144.20 L633.15,144.70 L633.60,145.33 L634.07,145.84 L634.61,146.11 L635.19,146.42 L635.80,146.34 L636.44,146.63 L637.09,146.92 L637.74,147.13 L638.38,147.85 L638.99,148.20 L639.57,148.26 L640.10,148.43 L640.75,148.53 L641.31,148.95 L641.83,148.77 L642.33,149.23 L642.84,149.71 L643.38,149.62 L643.99,149.43 L644.70,149.40 L645.29,150.34 L645.95,149.33 L646.65,149.48 L647.39,149.56 L648.14,150.16 L648.91,150.20 L649.66,149.73 L650.39,149.81 L651.08,149.10 L651.73,149.08 L652.30,148.90 L653.09,149.09 L653.80,148.64 L654.43,148.76 L655.00,147.94 L655.53,147.49 L656.02,147.22 L656.50,147.93 L656.96,147.51 L657.28,147.41 L657.55,147.75 L657.86,148.62 L658.28,149.38 L658.90,149.61 L659.39,149.96 L659.94,150.39 L660.54,150.98 L661.19,150.37 L661.88,150.49 L662.59,150.15 L663.31,150.83 L664.05,150.74 L664.78,150.46 L665.50,150.99 L666.17,151.15 L666.87,150.91 L667.60,151.06 L668.35,150.06 L669.10,149.88 L669.85,150.12 L670.57,150.20 L671.27,150.76 L671.94,151.05 L672.55,150.82 L673.10,150.26 L673.94,149.64 L674.60,149.50 L675.16,148.94 L675.68,148.22 L676.24,147.90 L676.90,147.83 L677.51,148.86 L678.20,148.65 L678.94,148.40 L679.69,148.37 L680.40,148.09 L681.05,148.86 L681.60,148.87 L682.00,148.50" fill="none" stroke="#2a7ae2" stroke-width="1.45" stroke-linejoin="round"/>
<path d="M373.10,234.80 L373.50,234.96 L373.99,234.65 L374.57,234.50 L375.22,234.72 L375.92,234.39 L376.67,234.34 L377.46,234.35 L378.26,234.17 L379.06,233.91 L379.86,233.89 L380.64,233.94 L381.38,233.80 L382.07,233.55 L382.70,233.60 L383.39,233.43 L384.08,233.15 L384.75,232.82 L385.41,232.64 L386.06,232.31 L386.68,231.97 L387.28,231.60 L387.85,231.39 L388.39,231.09 L388.90,230.69 L389.37,230.36 L389.80,229.80 L390.21,229.34 L390.57,228.87 L390.88,228.33 L391.14,227.83 L391.38,227.30 L391.58,226.74 L391.77,226.07 L391.95,225.32 L392.12,224.48 L392.30,223.66 L392.50,222.72 L392.59,222.27 L392.68,221.76 L392.77,221.20 L392.85,220.65 L392.93,220.14 L393.01,219.59 L393.09,219.00 L393.17,218.41 L393.24,217.82 L393.31,217.19 L393.39,216.58 L393.46,215.96 L393.53,215.27 L393.60,214.58 L393.66,213.87 L393.73,213.17 L393.80,212.42 L393.87,211.65 L393.94,210.88 L394.01,210.09 L394.08,209.27 L394.15,208.44 L394.23,207.57 L394.30,206.68 L394.35,206.13 L394.39,205.53 L394.44,204.93 L394.48,204.33 L394.53,203.67 L394.58,203.01 L394.62,202.33 L394.67,201.63 L394.72,200.92 L394.76,200.21 L394.81,199.48 L394.85,198.72 L394.90,197.97 L394.95,197.20 L394.99,196.45 L395.04,195.67 L395.08,194.91 L395.13,194.13 L395.18,193.36 L395.22,192.60 L395.27,191.82 L395.32,191.05 L395.36,190.28 L395.41,189.55 L395.45,188.78 L395.50,188.04 L395.55,187.31 L395.59,186.59 L395.64,185.88 L395.68,185.19 L395.73,184.53 L395.78,183.88 L395.82,183.26 L395.87,182.63 L395.92,182.03 L395.96,181.48 L396.01,180.92 L396.05,180.40 L396.10,179.92 L396.21,178.76 L396.33,177.67 L396.45,176.67 L396.57,175.73 L396.69,174.83 L396.81,174.01 L396.93,173.28 L397.05,172.63 L397.17,171.96 L397.28,171.44 L397.40,170.92 L397.51,170.42 L397.61,170.01 L397.71,169.66 L397.81,169.46 L397.90,169.30 L398.06,168.89 L398.19,168.65 L398.31,168.76 L398.41,169.02 L398.52,169.59 L398.63,170.59 L398.75,172.04 L398.90,174.00 L398.93,174.43 L398.96,174.90 L398.99,175.43 L399.02,175.97 L399.05,176.57 L399.08,177.21 L399.11,177.88 L399.15,178.60 L399.18,179.35 L399.21,180.12 L399.25,180.90 L399.28,181.72 L399.32,182.56 L399.35,183.43 L399.39,184.30 L399.42,185.18 L399.46,186.06 L399.49,186.96 L399.53,187.87 L399.56,188.77 L399.60,189.70 L399.64,190.60 L399.67,191.51 L399.71,192.41 L399.75,193.29 L399.79,194.17 L399.82,195.03 L399.86,195.86 L399.90,196.67 L399.94,197.48 L399.97,198.24 L400.01,198.98 L400.05,199.69 L400.09,200.37 L400.13,201.02 L400.16,201.62 L400.20,202.21 L400.24,202.69 L400.28,203.15 L400.31,203.58 L400.35,203.95 L400.39,204.29 L400.43,204.56 L400.46,204.71 L400.50,204.84 L400.56,205.03 L400.61,204.86 L400.67,204.83 L400.72,204.59 L400.78,204.28 L400.84,203.88 L400.89,203.40 L400.95,202.80 L401.01,202.13 L401.07,201.40 L401.12,200.63 L401.18,199.80 L401.24,198.92 L401.30,198.02 L401.36,197.08 L401.41,196.12 L401.47,195.13 L401.53,194.14 L401.59,193.15 L401.64,192.16 L401.70,191.18 L401.76,190.22 L401.81,189.28 L401.87,188.39 L401.93,187.53 L401.98,186.69 L402.04,185.94 L402.09,185.22 L402.15,184.58 L402.20,184.00 L402.29,183.08 L402.39,182.15 L402.48,181.28 L402.57,180.41 L402.66,179.63 L402.75,178.85 L402.84,178.11 L402.93,177.36 L403.02,176.70 L403.11,176.03 L403.19,175.42 L403.28,174.92 L403.37,174.43 L403.45,173.98 L403.53,173.55 L403.62,173.12 L403.70,172.65 L404.14,172.81 L404.55,174.32 L405.00,173.70 L405.06,173.35 L405.11,172.91 L405.17,172.42 L405.24,171.93 L405.30,171.35 L405.36,170.72 L405.43,170.06 L405.49,169.37 L405.56,168.64 L405.62,167.90 L405.69,167.11 L405.75,166.34 L405.82,165.52 L405.88,164.72 L405.95,163.91 L406.01,163.10 L406.08,162.27 L406.14,161.49 L406.20,160.68 L406.27,159.94 L406.33,159.19 L406.38,158.49 L406.44,157.80 L406.50,157.17 L406.55,156.58 L406.60,155.99 L406.68,155.08 L406.76,154.18 L406.84,153.25 L406.90,152.31 L406.97,151.41 L407.03,150.57 L407.09,149.76 L407.15,149.00 L407.21,148.34 L407.27,147.72 L407.33,147.19 L407.40,146.71 L407.46,146.39 L407.53,146.13 L407.60,145.78 L407.69,146.13 L407.79,146.62 L407.88,147.41 L407.98,148.40 L408.08,149.52 L408.18,150.70 L408.28,151.83 L408.38,152.82 L408.48,153.62 L408.59,154.13 L408.69,154.29 L408.80,154.04 L408.84,153.74 L408.89,153.46 L408.93,153.11 L408.97,152.69 L409.02,152.24 L409.06,151.69 L409.11,151.14 L409.15,150.55 L409.20,149.90 L409.24,149.21 L409.29,148.51 L409.34,147.79 L409.38,147.05 L409.43,146.28 L409.48,145.47 L409.52,144.66 L409.57,143.83 L409.62,143.00 L409.66,142.18 L409.71,141.35 L409.76,140.51 L409.80,139.69 L409.85,138.87 L409.89,138.05 L409.94,137.25 L409.98,136.48 L410.03,135.73 L410.07,134.99 L410.11,134.30 L410.16,133.64 L410.20,133.00 L410.25,132.21 L410.30,131.38 L410.35,130.52 L410.41,129.62 L410.46,128.71 L410.51,127.77 L410.56,126.84 L410.61,125.90 L410.66,124.96 L410.70,124.04 L410.75,123.12 L410.80,122.25 L410.85,121.40 L410.90,120.56 L410.94,119.79 L410.99,119.07 L411.04,118.39 L411.08,117.82 L411.13,117.32 L411.18,116.83 L411.22,116.46 L411.27,116.21 L411.31,116.03 L411.36,115.83 L411.40,116.00 L411.43,116.09 L411.47,116.32 L411.50,116.60 L411.54,116.92 L411.57,117.33 L411.60,117.79 L411.63,118.35 L411.67,118.93 L411.70,119.57 L411.73,120.24 L411.76,120.96 L411.79,121.72 L411.83,122.49 L411.86,123.31 L411.89,124.15 L411.92,125.01 L411.95,125.88 L411.98,126.77 L412.01,127.67 L412.04,128.56 L412.07,129.46 L412.10,130.34 L412.13,131.22 L412.16,132.09 L412.19,132.92 L412.22,133.75 L412.25,134.55 L412.28,135.32 L412.31,136.05 L412.34,136.74 L412.37,137.40 L412.40,138.01 L412.44,138.86 L412.49,139.70 L412.53,140.55 L412.57,141.41 L412.61,142.27 L412.65,143.11 L412.69,143.96 L412.73,144.78 L412.77,145.59 L412.81,146.39 L412.85,147.16 L412.89,147.88 L412.93,148.59 L412.97,149.25 L413.01,149.86 L413.05,150.45 L413.09,151.02 L413.13,151.48 L413.17,151.93 L413.21,152.31 L413.26,152.65 L413.30,152.84 L413.42,152.92 L413.54,152.36 L413.67,151.26 L413.79,149.89 L413.92,148.59 L414.05,147.59 L414.17,147.11 L414.30,147.78 L414.33,148.09 L414.36,148.42 L414.39,148.83 L414.43,149.25 L414.46,149.72 L414.49,150.25 L414.52,150.79 L414.55,151.36 L414.59,151.98 L414.62,152.63 L414.65,153.30 L414.68,154.00 L414.72,154.71 L414.75,155.46 L414.78,156.24 L414.81,157.02 L414.84,157.81 L414.88,158.62 L414.91,159.44 L414.94,160.26 L414.97,161.10 L415.00,161.93 L415.03,162.77 L415.06,163.61 L415.09,164.45 L415.12,165.27 L415.15,166.10 L415.18,166.91 L415.21,167.71 L415.24,168.50 L415.27,169.25 L415.30,170.00 L415.32,170.65 L415.35,171.33 L415.37,172.01 L415.40,172.70 L415.42,173.39 L415.44,174.10 L415.47,174.81 L415.49,175.51 L415.51,176.23 L415.54,176.95 L415.56,177.69 L415.58,178.42 L415.60,179.16 L415.63,179.89 L415.65,180.62 L415.67,181.35 L415.69,182.10 L415.71,182.82 L415.73,183.55 L415.76,184.27 L415.78,185.00 L415.80,185.72 L415.82,186.44 L415.84,187.16 L415.86,187.85 L415.88,188.54 L415.90,189.23 L415.93,189.91 L415.95,190.59 L415.97,191.25 L415.99,191.91 L416.01,192.55 L416.03,193.19 L416.06,193.80 L416.08,194.40 L416.10,195.00 L416.13,195.84 L416.16,196.71 L416.19,197.60 L416.23,198.51 L416.26,199.42 L416.29,200.33 L416.32,201.25 L416.35,202.14 L416.38,203.03 L416.41,203.92 L416.44,204.76 L416.47,205.60 L416.50,206.40 L416.53,207.16 L416.57,207.87 L416.60,208.57 L416.63,209.22 L416.66,209.80 L416.69,210.30 L416.73,210.75 L416.76,211.12 L416.79,211.47 L416.83,211.70 L416.86,211.93 L416.90,212.00 L416.94,212.04 L416.98,211.83 L417.03,211.56 L417.07,211.15 L417.12,210.68 L417.16,210.11 L417.21,209.46 L417.26,208.73 L417.30,207.94 L417.35,207.12 L417.40,206.25 L417.45,205.35 L417.50,204.42 L417.54,203.52 L417.59,202.57 L417.64,201.67 L417.68,200.79 L417.73,199.93 L417.77,199.08 L417.82,198.33 L417.86,197.62 L417.90,197.00 L417.96,196.19 L418.01,195.40 L418.06,194.61 L418.11,193.83 L418.16,193.07 L418.21,192.33 L418.26,191.61 L418.31,190.89 L418.35,190.21 L418.40,189.55 L418.45,188.88 L418.50,188.24 L418.55,187.65 L418.60,187.08 L418.65,186.53 L418.70,186.01 L418.81,184.94 L418.92,183.85 L419.03,182.77 L419.14,181.77 L419.26,181.04 L419.37,180.61 L419.49,180.50 L419.60,180.82 L419.64,181.06 L419.69,181.36 L419.73,181.79 L419.77,182.26 L419.82,182.77 L419.86,183.37 L419.91,184.00 L419.95,184.65 L420.00,185.38 L420.04,186.12 L420.08,186.90 L420.13,187.67 L420.17,188.51 L420.21,189.34 L420.26,190.17 L420.30,191.00 L420.34,191.83 L420.38,192.65 L420.42,193.45 L420.46,194.24 L420.50,195.01 L420.53,195.63 L420.56,196.26 L420.59,196.93 L420.61,197.58 L420.64,198.26 L420.66,198.94 L420.69,199.63 L420.71,200.32 L420.73,201.02 L420.75,201.72 L420.77,202.43 L420.80,203.14 L420.82,203.85 L420.84,204.56 L420.86,205.26 L420.89,205.97 L420.92,206.67 L420.94,207.35 L420.97,208.04 L421.01,208.72 L421.04,209.40 L421.08,210.06 L421.11,210.71 L421.16,211.36 L421.20,211.98 L421.26,212.74 L421.31,213.49 L421.37,214.25 L421.43,215.02 L421.50,215.77 L421.56,216.54 L421.63,217.31 L421.69,218.06 L421.77,218.78 L421.84,219.52 L421.91,220.23 L421.99,220.93 L422.07,221.62 L422.15,222.28 L422.24,222.92 L422.32,223.55 L422.41,224.20 L422.51,224.75 L422.60,225.32 L422.70,225.80 L422.80,226.29 L423.04,227.29 L423.28,228.10 L423.52,228.84 L423.78,229.50 L424.06,230.02 L424.37,230.37 L424.70,230.81 L425.08,231.24 L425.50,231.61 L426.04,231.95 L426.66,232.33 L427.33,232.61 L428.04,233.00 L428.76,233.36 L429.47,233.24 L430.16,233.40 L430.80,233.51 L431.52,233.22 L432.28,232.96 L433.02,232.67 L433.73,232.34 L434.37,232.00 L434.90,231.66 L435.30,231.60" fill="none" stroke="#111" stroke-width="1.35" stroke-linejoin="round"/>
<path d="M441.50,235.20 L441.87,234.91 L442.27,235.13 L442.71,235.13 L443.18,235.43 L443.69,235.22 L444.23,235.01 L444.80,235.04 L445.39,235.21 L446.01,235.13 L446.66,235.00 L447.32,235.16 L448.01,235.20 L448.72,235.18 L449.45,235.15 L450.19,235.09 L450.95,235.14 L451.72,235.11 L452.50,235.03 L453.30,235.01 L454.10,235.00 L454.90,235.10 L455.72,235.09 L456.53,235.33 L457.35,235.19 L458.17,235.22 L458.99,235.18 L459.80,234.87 L460.61,235.05 L461.42,235.09 L462.21,235.12 L463.00,235.15 L463.78,235.06 L464.54,235.11 L465.29,235.34 L466.02,234.98 L466.74,234.91 L467.43,235.03 L468.11,235.05 L468.77,234.91 L469.40,234.85 L470.00,234.77 L470.83,234.85 L471.64,234.93 L472.44,234.86 L473.23,235.12 L474.00,234.95 L474.76,235.02 L475.51,235.22 L476.25,235.29 L476.97,235.05 L477.69,235.10 L478.39,235.04 L479.09,235.07 L479.78,235.19 L480.46,235.04 L481.13,235.00 L481.79,235.21 L482.45,235.23 L483.10,235.04 L483.75,235.06 L484.39,235.07 L485.02,235.05 L485.65,234.92 L486.28,234.71 L486.90,234.87 L487.53,234.80 L488.15,234.93 L488.77,235.17 L489.38,235.25 L490.00,235.39 L490.78,235.04 L491.57,234.98 L492.36,234.64 L493.15,234.92 L493.94,235.11 L494.73,235.18 L495.51,235.13 L496.28,235.12 L497.05,235.04 L497.81,235.20 L498.55,234.99 L499.28,234.89 L500.00,234.67 L500.69,234.78 L501.37,234.99 L502.02,235.00 L502.65,234.81 L503.25,235.03 L503.82,235.09 L504.37,234.77 L504.88,234.59 L505.36,234.89 L505.80,234.84 L507.14,234.60 L507.99,234.70 L508.51,234.65 L508.83,234.47 L509.12,234.36 L509.50,233.74 L509.78,233.25 L510.04,232.91 L510.28,232.32 L510.50,231.71 L510.71,231.12 L510.91,230.46 L511.09,229.71 L511.27,228.96 L511.44,228.19 L511.60,227.45 L511.71,226.86 L511.81,226.21 L511.90,225.58 L511.99,224.91 L512.07,224.21 L512.15,223.52 L512.22,222.80 L512.29,222.11 L512.36,221.36 L512.42,220.63 L512.49,219.95 L512.56,219.28 L512.63,218.64 L512.70,218.00 L512.79,217.21 L512.87,216.39 L512.95,215.50 L513.04,214.60 L513.12,213.71 L513.20,212.86 L513.28,212.06 L513.36,211.34 L513.45,210.72 L513.53,210.33 L513.61,210.01 L513.70,209.96 L513.78,210.09 L513.86,210.44 L513.94,210.92 L514.01,211.56 L514.09,212.30 L514.17,213.06 L514.25,213.93 L514.34,214.85 L514.42,215.76 L514.51,216.65 L514.60,217.49 L514.70,218.31 L514.80,219.03 L514.92,219.72 L515.04,220.47 L515.17,221.25 L515.30,222.06 L515.44,222.83 L515.58,223.56 L515.72,224.27 L515.86,224.98 L516.00,225.55 L516.13,226.04 L516.27,226.45 L516.40,226.89 L516.90,227.04 L517.40,226.48 L517.90,226.66 L518.05,226.81 L518.21,227.35 L518.36,228.05 L518.51,228.83 L518.66,229.65 L518.82,230.48 L518.98,231.27 L519.15,232.04 L519.32,232.68 L519.50,233.24 L519.94,234.05 L520.39,234.49 L520.92,234.91 L521.60,235.27 L522.10,235.22 L522.68,235.09 L523.31,235.23 L523.96,235.33 L524.61,235.29 L525.23,235.08 L525.80,234.87 L526.32,234.49 L526.83,234.06 L527.33,233.49 L527.79,233.05 L528.23,232.53 L528.64,232.00 L529.00,231.64 L529.64,231.34 L530.11,231.42 L530.60,231.13 L530.81,230.63 L531.03,229.98 L531.26,229.13 L531.48,228.33 L531.71,227.54 L531.94,226.96 L532.17,226.45 L532.40,226.29 L532.61,226.59 L532.81,227.11 L533.02,227.80 L533.23,228.71 L533.44,229.59 L533.65,230.39 L533.86,231.07 L534.08,231.54 L534.30,231.82 L534.53,231.74 L534.76,231.44 L535.00,230.95 L535.25,230.35 L535.49,229.61 L535.73,228.82 L535.96,228.10 L536.19,227.23 L536.40,226.39 L536.52,225.84 L536.64,225.21 L536.76,224.44 L536.88,223.63 L536.99,222.76 L537.10,221.86 L537.21,220.99 L537.32,220.15 L537.43,219.36 L537.53,218.60 L537.63,217.89 L537.73,217.29 L537.82,216.88 L537.91,216.58 L538.00,216.53 L538.10,216.57 L538.19,216.69 L538.28,217.14 L538.36,217.73 L538.43,218.43 L538.50,219.28 L538.57,220.14 L538.64,221.06 L538.72,221.96 L538.81,222.78 L538.90,223.58 L539.00,224.31 L539.12,224.99 L539.25,225.75 L539.38,226.53 L539.52,227.30 L539.66,228.13 L539.81,228.82 L539.96,229.57 L540.11,230.19 L540.27,230.79 L540.43,231.20 L540.60,231.66 L541.04,232.33 L541.49,232.22 L542.02,232.23 L542.70,232.61 L543.19,232.54 L543.74,232.91 L544.34,233.26 L544.98,233.72 L545.62,234.12 L546.27,234.32 L546.90,234.13 L547.45,234.25 L548.03,233.89 L548.62,233.39 L549.21,233.05 L549.78,232.58 L550.33,231.96 L550.84,231.76 L551.30,231.79 L551.92,232.02 L552.43,232.62 L552.88,233.31 L553.32,233.73 L553.80,233.95 L554.25,233.86 L554.72,233.38 L555.20,232.84 L555.67,232.16 L556.11,231.61 L556.50,231.08 L556.88,230.43 L557.19,229.59 L557.48,228.92 L557.80,228.64 L558.20,228.70 L558.46,228.89 L558.74,229.45 L559.04,230.03 L559.35,230.79 L559.67,231.60 L560.01,232.31 L560.36,232.98 L560.72,233.53 L561.10,233.92 L561.73,234.16 L562.44,234.52 L563.18,234.50 L563.90,234.38 L564.56,234.01 L565.10,233.45 L565.34,233.10 L565.54,232.52 L565.72,231.83 L565.88,231.15 L566.01,230.39 L566.14,229.62 L566.25,228.78 L566.36,228.05 L566.47,227.35 L566.58,226.73 L566.70,226.23 L566.93,225.34 L567.14,224.57 L567.34,224.05 L567.54,223.53 L567.72,223.23 L567.90,222.97 L568.19,223.35 L568.45,224.31 L568.80,224.79 L569.00,224.22 L569.22,223.41 L569.46,222.51 L569.72,221.53 L569.98,220.71 L570.24,220.33 L570.50,220.37 L570.61,220.72 L570.72,221.20 L570.84,221.66 L570.95,222.30 L571.06,222.97 L571.18,223.71 L571.29,224.51 L571.41,225.32 L571.52,226.14 L571.64,226.95 L571.76,227.77 L571.89,228.53 L572.01,229.23 L572.14,229.86 L572.27,230.43 L572.40,231.00 L572.74,232.03 L573.07,232.83 L573.41,233.42 L573.80,233.69 L574.25,234.12 L574.80,234.31 L575.30,234.22 L575.87,234.29 L576.49,234.06 L577.14,233.89 L577.81,233.86 L578.47,233.80 L579.11,233.46 L579.70,233.35 L580.31,233.59 L580.89,233.81 L581.43,234.23 L581.98,234.55 L582.54,234.85 L583.14,235.13 L583.80,235.10 L584.37,235.01 L585.00,235.07 L585.66,234.83 L586.34,234.50 L587.02,234.12 L587.69,233.81 L588.31,233.43 L588.89,233.11 L589.40,232.61 L589.95,232.26 L590.40,231.70 L590.79,230.95 L591.14,230.30 L591.47,229.85 L591.82,229.50 L592.20,229.52 L592.56,229.70 L592.93,230.13 L593.30,230.84 L593.68,231.57 L594.04,232.45 L594.41,233.16 L594.76,233.61 L595.10,233.99 L595.62,234.01 L596.13,233.72 L596.61,233.15 L597.07,232.54 L597.50,231.96 L597.82,231.32 L598.10,230.48 L598.37,229.72 L598.63,229.02 L598.90,228.70 L599.20,228.54 L599.45,228.80 L599.71,229.47 L599.98,230.14 L600.26,231.06 L600.53,231.94 L600.80,232.71 L601.06,233.29 L601.30,233.45 L601.56,233.39 L601.81,232.99 L602.05,232.42 L602.28,231.76 L602.49,230.97 L602.70,230.09 L602.90,229.35 L603.03,228.74 L603.14,227.96 L603.25,227.13 L603.35,226.20 L603.45,225.28 L603.55,224.42 L603.65,223.74 L603.76,223.13 L603.87,222.87 L604.00,222.96 L604.09,223.11 L604.18,223.45 L604.27,223.91 L604.37,224.55 L604.46,225.27 L604.56,226.07 L604.66,226.88 L604.76,227.71 L604.87,228.61 L604.98,229.43 L605.10,230.26 L605.21,231.01 L605.34,231.69 L605.47,232.33 L605.60,232.71 L606.05,233.55 L606.56,233.96 L607.10,234.24 L607.62,234.14 L608.10,234.02 L608.45,233.62 L608.77,233.07 L609.08,232.47 L609.37,231.79 L609.68,231.26 L610.00,231.09 L610.32,231.35 L610.64,231.70 L610.96,232.33 L611.30,233.11 L611.68,233.69 L612.10,234.01 L612.70,234.29 L613.39,234.40 L614.11,234.54 L614.80,234.37 L615.40,234.27 L615.89,234.05 L616.30,233.25 L616.67,232.61 L617.06,231.93 L617.50,231.89 L617.90,232.08 L618.30,232.29 L618.73,232.79 L619.17,233.40 L619.66,233.65 L620.20,234.19 L620.82,234.30 L621.53,234.36 L622.27,234.18 L623.01,234.11 L623.70,233.89 L624.30,233.61 L624.65,233.13 L624.96,232.61 L625.26,232.14 L625.53,231.64 L625.78,231.03 L626.02,230.37 L626.25,229.60 L626.48,228.75 L626.70,227.79 L626.80,227.27 L626.90,226.61 L627.00,225.89 L627.09,225.09 L627.18,224.25 L627.26,223.38 L627.34,222.48 L627.43,221.56 L627.50,220.64 L627.58,219.72 L627.66,218.86 L627.74,218.03 L627.81,217.25 L627.89,216.57 L627.97,216.01 L628.05,215.53 L628.13,215.17 L628.21,215.02 L628.30,215.01 L628.39,214.92 L628.49,215.06 L628.58,215.50 L628.67,215.98 L628.77,216.64 L628.86,217.34 L628.96,218.14 L629.05,219.01 L629.15,219.88 L629.25,220.82 L629.34,221.75 L629.44,222.65 L629.53,223.53 L629.63,224.41 L629.72,225.20 L629.81,225.90 L629.91,226.52 L630.00,227.03 L630.27,228.27 L630.54,229.38 L630.81,230.18 L631.07,230.60 L631.33,230.74 L631.60,230.24 L631.69,229.93 L631.78,229.57 L631.87,229.10 L631.97,228.52 L632.06,227.88 L632.15,227.22 L632.25,226.57 L632.34,225.83 L632.43,225.04 L632.52,224.24 L632.61,223.40 L632.70,222.58 L632.79,221.79 L632.88,220.99 L632.96,220.20 L633.04,219.45 L633.12,218.78 L633.20,218.12 L633.28,217.37 L633.36,216.55 L633.43,215.70 L633.51,214.82 L633.57,213.87 L633.64,212.94 L633.71,212.04 L633.77,211.16 L633.83,210.37 L633.89,209.62 L633.96,208.95 L634.02,208.42 L634.09,207.97 L634.16,207.71 L634.23,207.53 L634.30,207.53 L634.36,207.63 L634.42,207.90 L634.48,208.28 L634.54,208.72 L634.60,209.30 L634.67,209.94 L634.73,210.64 L634.79,211.42 L634.85,212.23 L634.92,213.08 L634.98,213.97 L635.05,214.82 L635.11,215.74 L635.18,216.62 L635.25,217.49 L635.32,218.34 L635.39,219.15 L635.46,219.93 L635.53,220.63 L635.60,221.31 L635.69,222.07 L635.78,222.83 L635.86,223.58 L635.95,224.38 L636.04,225.08 L636.13,225.80 L636.21,226.53 L636.31,227.21 L636.40,227.89 L636.50,228.57 L636.60,229.22 L636.71,229.82 L636.82,230.40 L636.94,230.91 L637.07,231.40 L637.20,231.82 L637.51,232.79 L637.78,233.43 L638.08,233.73 L638.49,234.01 L639.10,234.19 L640.00,234.21 L640.47,234.32 L641.00,234.54 L641.60,234.66 L642.25,234.65 L642.95,234.85 L643.67,234.88 L644.42,234.82 L645.18,234.69 L645.94,234.96 L646.70,235.05 L647.43,234.83 L648.14,234.85 L648.81,234.89 L649.43,234.82 L650.00,234.92 L650.85,234.77 L651.64,234.82 L652.37,234.75 L653.05,234.70 L653.69,234.58 L654.30,234.41 L654.88,234.20 L655.44,234.31 L656.00,234.12 L656.57,234.06 L656.81,234.22 L657.00,234.40 L657.41,234.70 L658.31,234.88 L660.00,235.16 L660.43,235.14 L660.92,235.04 L661.46,235.00 L662.04,234.97 L662.66,235.12 L663.33,235.22 L664.02,235.17 L664.75,235.02 L665.51,234.84 L666.28,234.76 L667.08,234.82 L667.90,234.90 L668.73,234.92 L669.56,235.21 L670.41,235.04 L671.25,234.88 L672.09,234.87 L672.93,234.81 L673.76,234.58 L674.57,234.85 L675.37,234.99 L676.15,235.04 L676.90,234.73 L677.62,234.90 L678.32,234.70 L678.98,234.99 L679.60,234.85 L680.18,235.01 L680.71,234.98 L681.20,234.68 L681.63,234.71 L682.00,235.00" fill="none" stroke="#111" stroke-width="1.35" stroke-linejoin="round"/>
<text x="385.6" y="71.6" font-size="10.1" text-anchor="start" fill="#111" font-weight="normal" transform="rotate(-90 385.6 71.6)">2960</text>
<text x="400.6" y="76.5" font-size="10.1" text-anchor="start" fill="#111" font-weight="normal" transform="rotate(-90 400.6 76.5)">2953</text>
<text x="405.4" y="49.7" font-size="10.1" text-anchor="start" fill="#111" font-weight="normal" transform="rotate(-90 405.4 49.7)">2924</text>
<text x="411.1" y="26.2" font-size="10.1" text-anchor="start" fill="#111" font-weight="normal" transform="rotate(-90 411.1 26.2)">2905</text>
<text x="419.4" y="25.5" font-size="10.1" text-anchor="start" fill="#111" font-weight="normal" transform="rotate(-90 419.4 25.5)">2884</text>
<text x="433.0" y="25.4" font-size="10.1" text-anchor="start" fill="#111" font-weight="normal" transform="rotate(-90 433.0 25.4)">2869</text>
<text x="439.4" y="95.9" font-size="10.1" text-anchor="start" fill="#111" font-weight="normal" transform="rotate(-90 439.4 95.9)">2840</text>
<text x="515.2" y="83.0" font-size="10.1" text-anchor="start" fill="#111" font-weight="normal" transform="rotate(-90 515.2 83.0)">1459</text>
<text x="524.8" y="99.2" font-size="10.1" text-anchor="start" fill="#111" font-weight="normal" transform="rotate(-90 524.8 99.2)">1436</text>
<text x="536.4" y="98.9" font-size="10.1" text-anchor="start" fill="#111" font-weight="normal" transform="rotate(-90 536.4 98.9)">1360</text>
<text x="530.6" y="135.7" font-size="10.1" text-anchor="start" fill="#111" font-weight="normal" transform="rotate(-90 530.6 135.7)">1374</text>
<text x="541.1" y="69.2" font-size="10.1" text-anchor="start" fill="#111" font-weight="normal" transform="rotate(-90 541.1 69.2)">1330</text>
<text x="545.7" y="116.2" font-size="10.1" text-anchor="start" fill="#111" font-weight="normal" transform="rotate(-90 545.7 116.2)">1305</text>
<text x="555.8" y="105.7" font-size="10.1" text-anchor="start" fill="#111" font-weight="normal" transform="rotate(-90 555.8 105.7)">1254</text>
<text x="562.2" y="83.0" font-size="10.1" text-anchor="start" fill="#111" font-weight="normal" transform="rotate(-90 562.2 83.0)">1219</text>
<text x="572.0" y="75.7" font-size="10.1" text-anchor="start" fill="#111" font-weight="normal" transform="rotate(-90 572.0 75.7)">1168</text>
<text x="580.9" y="83.0" font-size="10.1" text-anchor="start" fill="#111" font-weight="normal" transform="rotate(-90 580.9 83.0)">1153</text>
<text x="596.5" y="104.1" font-size="10.1" text-anchor="start" fill="#111" font-weight="normal" transform="rotate(-90 596.5 104.1)">1036</text>
<text x="602.6" y="73.2" font-size="10.1" text-anchor="start" fill="#111" font-weight="normal" transform="rotate(-90 602.6 73.2)">999</text>
<text x="608.8" y="89.5" font-size="10.1" text-anchor="start" fill="#111" font-weight="normal" transform="rotate(-90 608.8 89.5)">973</text>
<text x="614.5" y="105.7" font-size="10.1" text-anchor="start" fill="#111" font-weight="normal" transform="rotate(-90 614.5 105.7)">940</text>
<text x="623.0" y="104.9" font-size="10.1" text-anchor="start" fill="#111" font-weight="normal" transform="rotate(-90 623.0 104.9)">900</text>
<text x="632.6" y="89.5" font-size="10.1" text-anchor="start" fill="#111" font-weight="normal" transform="rotate(-90 632.6 89.5)">842</text>
<text x="638.4" y="66.8" font-size="10.1" text-anchor="start" fill="#111" font-weight="normal" transform="rotate(-90 638.4 66.8)">810</text>
<text x="424.1" y="70.0" font-size="10.1" text-anchor="start" fill="#2a7ae2" font-weight="normal" transform="rotate(-90 424.1 70.0)">2848</text>
<text x="482.0" y="126.6" font-size="10.1" text-anchor="start" fill="#2a7ae2" font-weight="normal" transform="rotate(-90 482.0 126.6)">1650</text>
<text x="492.1" y="126.6" font-size="10.1" text-anchor="start" fill="#2a7ae2" font-weight="normal" transform="rotate(-90 492.1 126.6)">1605</text>
<text x="521.0" y="42.8" font-size="10.1" text-anchor="start" fill="#2a7ae2" font-weight="normal" transform="rotate(-90 521.0 42.8)">1445</text>
<text x="551.0" y="43.3" font-size="10.1" text-anchor="start" fill="#2a7ae2" font-weight="normal" transform="rotate(-90 551.0 43.3)">1277</text>
<text x="564.6" y="43.3" font-size="10.1" text-anchor="start" fill="#2a7ae2" font-weight="normal" transform="rotate(-90 564.6 43.3)">1202</text>
<text x="573.6" y="43.3" font-size="10.1" text-anchor="start" fill="#2a7ae2" font-weight="normal" transform="rotate(-90 573.6 43.3)">1157</text>
<text x="583.9" y="43.3" font-size="10.1" text-anchor="start" fill="#2a7ae2" font-weight="normal" transform="rotate(-90 583.9 43.3)">1127</text>
<text x="615.2" y="38.4" font-size="10.1" text-anchor="start" fill="#2a7ae2" font-weight="normal" transform="rotate(-90 615.2 38.4)">929</text>
<text x="634.1" y="38.4" font-size="10.1" text-anchor="start" fill="#2a7ae2" font-weight="normal" transform="rotate(-90 634.1 38.4)">830</text>
<g stroke="#333" stroke-width="0.8" fill="none"><path d="M640.7,32 L651.6,25.9 L665.8,34.4 L676.3,28.4"/><path d="M651.6,14.2 V25.9"/><path d="M645.2,20.3 H644.6 V39.7 H645.2"/><path d="M671.8,20.3 H672.4 V39.7 H671.8"/></g>
<text x="648.6" y="13.0" font-size="8.3" text-anchor="start" fill="#222" font-weight="normal">CH<tspan font-size="7">3</tspan></text>
<text x="674.0" y="45.2" font-size="8.5" text-anchor="start" fill="#222" font-weight="normal" font-style="italic">n</text>
<path d="M22.60,480.00 L22.87,479.69 L23.25,479.36 L23.69,478.73 L24.19,478.07 L24.70,477.57 L25.20,477.32 L25.82,477.36 L26.47,477.51 L27.15,477.69 L27.84,478.38 L28.50,477.84 L28.92,477.53 L29.34,477.06 L29.78,476.67 L30.21,476.07 L30.62,475.67 L31.01,474.95 L31.38,474.14 L31.70,473.54 L31.93,472.97 L32.13,472.36 L32.31,471.62 L32.47,470.95 L32.62,470.34 L32.76,469.61 L32.89,468.90 L33.02,468.29 L33.16,467.72 L33.30,467.07 L33.48,466.34 L33.65,465.44 L33.81,464.59 L33.98,463.77 L34.13,463.02 L34.29,462.47 L34.44,462.10 L34.60,462.06 L34.78,462.01 L34.96,462.36 L35.14,463.00 L35.32,463.75 L35.49,464.61 L35.65,465.39 L35.80,465.94 L35.91,466.55 L35.99,467.21 L36.04,467.78 L36.11,468.43 L36.21,469.11 L36.36,469.69 L36.60,470.32 L36.85,470.98 L37.15,471.36 L37.49,471.96 L37.85,472.55 L38.24,473.19 L38.64,473.76 L39.04,473.99 L39.43,474.55 L39.80,475.09 L40.43,475.70 L41.04,475.72 L41.67,475.99 L42.34,476.20 L43.10,475.89 L43.57,475.55 L44.08,475.60 L44.61,475.09 L45.17,474.84 L45.73,474.28 L46.30,473.86 L46.85,473.22 L47.39,473.33 L47.90,472.90 L48.46,472.45 L49.01,471.88 L49.56,471.41 L50.09,470.84 L50.61,470.59 L51.10,470.30 L51.57,469.93 L52.00,469.46 L52.40,469.10 L52.76,468.15 L53.10,467.46 L53.41,466.96 L53.71,466.57 L53.98,466.10 L54.25,465.75 L54.50,465.08 L54.86,464.19 L55.17,463.60 L55.45,463.16 L55.72,462.75 L56.00,462.51 L56.25,462.89 L56.49,463.38 L56.73,463.78 L56.98,464.51 L57.23,465.41 L57.50,465.99 L57.73,466.60 L57.95,467.24 L58.18,467.81 L58.41,468.33 L58.67,469.11 L58.97,469.56 L59.30,470.09 L59.68,470.83 L60.10,471.04 L60.56,471.43 L61.03,472.24 L61.52,472.61 L62.01,472.71 L62.50,473.16 L63.07,473.05 L63.66,473.17 L64.26,473.19 L64.86,473.15 L65.44,472.73 L66.00,472.67 L66.60,472.29 L67.14,472.36 L67.69,472.47 L68.29,472.65 L69.00,472.80 L69.45,472.82 L69.93,472.97 L70.44,473.76 L70.97,474.23 L71.52,474.55 L72.09,475.12 L72.67,475.81 L73.28,476.23 L73.90,476.03 L74.45,475.90 L74.98,476.16 L75.50,476.09 L76.04,476.16 L76.59,476.56 L77.19,476.23 L77.85,476.50 L78.57,476.67 L79.39,476.79 L80.30,476.70 L80.85,476.51 L81.45,476.80 L82.12,477.30 L82.83,477.06 L83.58,476.54 L84.36,476.33 L85.16,477.24 L85.98,477.31 L86.79,477.57 L87.61,477.64 L88.40,477.48 L89.18,477.67 L89.93,477.64 L90.64,477.34 L91.30,477.68 L91.91,477.37 L92.45,477.72 L92.91,477.40 L93.30,477.50" fill="none" stroke="#3cb070" stroke-width="1.45" stroke-linejoin="round"/>
<path d="M99.00,478.00 L99.38,477.73 L99.86,477.63 L100.42,477.78 L101.04,477.78 L101.72,477.90 L102.45,477.90 L103.21,478.24 L103.99,477.49 L104.79,477.59 L105.58,477.68 L106.37,477.33 L107.13,477.32 L107.85,477.26 L108.53,477.28 L109.15,477.13 L109.70,476.84 L110.49,476.35 L111.21,476.14 L111.87,476.24 L112.48,476.34 L113.04,476.14 L113.57,475.81 L114.06,475.25 L114.53,475.06 L114.97,474.66 L115.40,474.29 L115.67,473.33 L115.93,472.83 L116.16,472.33 L116.39,471.90 L116.59,471.31 L116.79,470.65 L116.97,469.99 L117.14,469.35 L117.31,468.70 L117.46,468.10 L117.61,467.33 L117.76,466.50 L117.91,465.76 L118.05,465.07 L118.20,464.30 L118.31,463.70 L118.42,462.97 L118.52,462.32 L118.62,461.56 L118.71,460.89 L118.79,460.20 L118.88,459.49 L118.96,458.75 L119.04,458.01 L119.11,457.22 L119.19,456.59 L119.26,455.85 L119.34,455.09 L119.41,454.40 L119.48,453.73 L119.56,453.09 L119.64,452.47 L119.72,451.89 L119.80,451.29 L119.95,450.43 L120.09,449.38 L120.24,448.52 L120.38,447.62 L120.53,446.78 L120.67,445.94 L120.82,445.36 L120.96,444.89 L121.11,444.39 L121.25,444.07 L121.40,443.80 L121.55,444.09 L121.69,444.25 L121.84,444.68 L121.98,445.20 L122.13,445.84 L122.27,446.54 L122.42,447.34 L122.56,448.24 L122.71,449.27 L122.85,450.26 L123.00,451.27 L123.07,451.82 L123.13,452.36 L123.19,452.96 L123.25,453.63 L123.31,454.24 L123.37,454.92 L123.42,455.62 L123.48,456.33 L123.54,457.09 L123.60,457.82 L123.65,458.58 L123.71,459.33 L123.77,460.08 L123.83,460.86 L123.90,461.63 L123.96,462.35 L124.03,463.14 L124.10,463.87 L124.18,464.54 L124.25,465.16 L124.33,465.76 L124.42,466.40 L124.51,467.01 L124.60,467.59 L124.77,468.45 L124.93,469.19 L125.09,470.05 L125.25,470.86 L125.42,471.52 L125.60,472.15 L125.79,472.77 L126.01,473.27 L126.25,473.92 L126.53,474.39 L126.84,474.92 L127.20,475.21 L127.60,475.56 L128.11,476.02 L128.72,476.22 L129.39,476.55 L130.12,477.02 L130.89,477.01 L131.67,477.09 L132.45,476.84 L133.21,477.23 L133.94,477.01 L134.60,476.72 L135.20,476.87 L135.70,477.07 L136.48,476.67 L137.06,476.42 L137.48,476.29 L137.81,475.67 L138.10,475.01 L138.40,473.85 L138.50,473.57 L138.60,473.19 L138.69,472.72 L138.78,472.26 L138.85,471.76 L138.93,471.26 L138.99,470.60 L139.06,470.02 L139.12,469.46 L139.18,468.80 L139.23,468.11 L139.29,467.41 L139.34,466.62 L139.39,465.76 L139.44,464.89 L139.49,463.99 L139.55,463.01 L139.60,462.02 L139.63,461.51 L139.65,460.98 L139.68,460.45 L139.70,459.86 L139.72,459.29 L139.75,458.71 L139.77,458.12 L139.79,457.51 L139.81,456.88 L139.84,456.23 L139.86,455.59 L139.88,454.94 L139.90,454.27 L139.92,453.59 L139.94,452.90 L139.96,452.20 L139.98,451.51 L140.00,450.80 L140.02,450.10 L140.04,449.35 L140.06,448.63 L140.08,447.90 L140.10,447.16 L140.12,446.44 L140.13,445.68 L140.15,444.93 L140.17,444.18 L140.19,443.43 L140.21,442.69 L140.23,441.94 L140.25,441.19 L140.27,440.44 L140.29,439.69 L140.31,438.95 L140.33,438.20 L140.36,437.46 L140.38,436.73 L140.40,435.99 L140.42,435.31 L140.44,434.61 L140.46,433.86 L140.48,433.09 L140.50,432.30 L140.52,431.46 L140.54,430.63 L140.57,429.77 L140.59,428.90 L140.61,427.99 L140.63,427.07 L140.65,426.15 L140.67,425.23 L140.69,424.31 L140.71,423.37 L140.74,422.44 L140.76,421.52 L140.78,420.59 L140.80,419.68 L140.82,418.79 L140.84,417.90 L140.87,417.01 L140.89,416.17 L140.91,415.33 L140.93,414.53 L140.95,413.75 L140.97,412.99 L141.00,412.25 L141.02,411.56 L141.04,410.91 L141.06,410.29 L141.08,409.71 L141.11,409.16 L141.13,408.68 L141.15,408.26 L141.17,407.84 L141.19,407.48 L141.21,407.19 L141.24,406.97 L141.26,406.81 L141.28,406.71 L141.30,406.69 L141.32,406.73 L141.34,406.88 L141.36,407.02 L141.39,407.25 L141.41,407.52 L141.43,407.85 L141.45,408.22 L141.47,408.66 L141.49,409.15 L141.52,409.70 L141.54,410.28 L141.56,410.89 L141.58,411.55 L141.60,412.24 L141.63,412.97 L141.65,413.76 L141.67,414.53 L141.69,415.33 L141.71,416.15 L141.73,417.03 L141.76,417.90 L141.78,418.78 L141.80,419.68 L141.82,420.61 L141.84,421.53 L141.86,422.44 L141.89,423.38 L141.91,424.32 L141.93,425.24 L141.95,426.16 L141.97,427.09 L141.99,428.00 L142.01,428.89 L142.03,429.78 L142.06,430.64 L142.08,431.48 L142.10,432.31 L142.12,433.10 L142.14,433.88 L142.16,434.62 L142.18,435.32 L142.20,435.99 L142.22,436.72 L142.24,437.47 L142.27,438.20 L142.29,438.96 L142.31,439.71 L142.33,440.45 L142.35,441.22 L142.37,441.96 L142.39,442.72 L142.41,443.49 L142.43,444.23 L142.45,445.01 L142.47,445.74 L142.48,446.49 L142.50,447.24 L142.52,447.98 L142.54,448.72 L142.56,449.45 L142.58,450.17 L142.60,450.89 L142.62,451.62 L142.64,452.31 L142.66,453.02 L142.68,453.71 L142.70,454.38 L142.72,455.04 L142.74,455.70 L142.76,456.37 L142.79,456.97 L142.81,457.59 L142.83,458.18 L142.85,458.79 L142.88,459.38 L142.90,459.95 L142.92,460.48 L142.95,461.01 L142.97,461.50 L143.00,462.02 L143.06,463.07 L143.12,464.12 L143.18,465.01 L143.23,465.87 L143.29,466.67 L143.35,467.40 L143.41,468.01 L143.47,468.63 L143.54,469.24 L143.62,469.72 L143.69,470.16 L143.78,470.76 L143.87,471.28 L143.97,471.71 L144.08,472.01 L144.20,472.49 L144.49,473.37 L144.76,474.15 L145.07,474.47 L145.50,475.17 L146.12,475.05 L147.00,475.75 L147.48,475.91 L148.02,476.17 L148.62,476.13 L149.27,476.42 L149.95,476.42 L150.67,476.30 L151.41,476.35 L152.17,476.53 L152.95,476.61 L153.72,476.57 L154.49,477.13 L155.25,476.99 L155.99,477.09 L156.70,476.95 L157.36,477.10 L158.05,476.97 L158.76,476.47 L159.48,476.80 L160.20,477.37 L160.93,477.28 L161.65,476.87 L162.36,476.46 L163.05,476.95 L163.72,476.79 L164.36,477.08 L164.96,477.10 L165.52,476.69 L166.04,476.54 L166.50,476.66 L167.40,475.95 L167.99,475.40 L168.41,474.87 L168.75,474.35 L169.14,473.92 L169.70,473.69 L170.24,473.67 L170.85,473.78 L171.50,474.17 L172.17,474.64 L172.83,474.90 L173.48,475.22 L174.07,475.65 L174.60,475.88 L175.20,475.39 L175.72,475.05 L176.19,474.45 L176.62,474.02 L177.05,473.49 L177.50,472.64 L178.03,472.95 L178.53,473.54 L179.03,474.19 L179.57,474.87 L180.20,475.00 L180.71,474.98 L181.27,474.49 L181.86,474.21 L182.48,474.05 L183.10,473.86 L183.71,473.90 L184.30,473.78 L184.86,474.03 L185.40,473.90 L185.93,474.24 L186.47,475.08 L187.04,475.01 L187.64,475.37 L188.30,475.34 L188.82,475.12 L189.38,475.22 L189.99,475.34 L190.61,474.87 L191.24,474.83 L191.87,474.16 L192.47,473.84 L193.04,473.61 L193.55,472.95 L194.00,472.50 L194.30,472.02 L194.56,471.46 L194.79,471.03 L194.99,470.24 L195.18,469.51 L195.35,468.80 L195.50,468.12 L195.65,467.49 L195.81,466.76 L195.96,466.03 L196.13,465.44 L196.30,464.91 L196.50,464.21 L196.81,463.59 L197.12,462.69 L197.44,462.12 L197.77,461.25 L198.10,460.47 L198.43,460.09 L198.75,459.69 L199.08,459.51 L199.40,459.67 L199.65,459.65 L199.90,459.91 L200.14,460.45 L200.38,460.96 L200.61,461.58 L200.85,462.27 L201.10,462.98 L201.35,463.87 L201.62,464.61 L201.90,465.29 L202.20,465.86 L202.51,466.43 L202.82,466.91 L203.14,467.72 L203.46,468.62 L203.80,469.17 L204.15,469.86 L204.51,470.38 L204.90,470.88 L205.30,471.28 L205.74,471.96 L206.20,472.38 L206.76,472.87 L207.38,473.24 L208.04,473.25 L208.74,473.72 L209.45,474.20 L210.16,474.40 L210.85,474.76 L211.52,474.93 L212.14,474.61 L212.70,474.80 L213.53,474.55 L214.27,474.59 L214.95,474.78 L215.57,474.86 L216.15,474.60 L216.70,474.07 L217.14,473.57 L217.54,472.72 L217.91,472.15 L218.25,471.25 L218.57,470.50 L218.89,470.30 L219.20,470.25 L219.45,470.22 L219.67,470.73 L219.88,471.40 L220.07,472.19 L220.28,473.13 L220.51,474.07 L220.78,474.26 L221.10,474.41 L221.52,474.63 L221.99,474.89 L222.50,474.38 L223.04,473.96 L223.60,473.51 L224.19,473.00 L224.80,472.71 L225.25,471.88 L225.73,471.53 L226.24,470.91 L226.76,470.09 L227.28,469.40 L227.80,468.70 L228.32,468.16 L228.81,467.84 L229.27,467.61 L229.70,467.30 L230.18,466.96 L230.60,467.99 L230.98,468.27 L231.35,468.95 L231.71,469.86 L232.08,470.47 L232.47,471.06 L232.90,471.51 L233.34,472.06 L233.77,472.54 L234.20,472.94 L234.64,473.30 L235.13,473.78 L235.67,473.90 L236.29,474.20 L237.00,474.86 L237.54,475.12 L238.14,474.85 L238.78,474.81 L239.46,474.89 L240.17,474.58 L240.90,474.31 L241.64,474.10 L242.37,474.34 L243.09,474.36 L243.80,474.32 L244.47,474.19 L245.10,474.07 L245.81,473.82 L246.48,473.95 L247.12,473.90 L247.74,474.45 L248.35,474.57 L248.96,474.29 L249.58,474.17 L250.22,474.91 L250.89,474.64 L251.60,474.23 L252.22,474.07 L252.88,474.34 L253.55,474.25 L254.24,474.16 L254.94,474.65 L255.65,474.49 L256.36,474.21 L257.06,474.47 L257.75,474.40 L258.42,474.47 L259.08,474.53 L259.70,474.46 L260.43,474.68 L261.14,473.93 L261.84,474.25 L262.53,474.25 L263.20,473.85 L263.85,473.59 L264.48,473.69 L265.08,473.80 L265.65,473.47 L266.20,473.12 L266.77,472.86 L267.31,472.62 L267.81,471.85 L268.28,471.23 L268.73,470.55 L269.15,469.99 L269.55,469.83 L269.93,469.41 L270.30,469.12 L271.03,468.71 L271.64,468.68 L272.17,468.76 L272.70,468.85 L273.05,468.65 L273.39,468.28 L273.72,467.59 L274.03,467.05 L274.32,466.57 L274.60,465.91 L274.79,465.23 L274.96,464.50 L275.11,463.66 L275.26,462.81 L275.41,462.01 L275.56,461.37 L275.72,461.04 L275.90,460.71 L276.05,461.11 L276.20,461.55 L276.36,462.25 L276.52,462.95 L276.68,463.75 L276.85,464.59 L277.03,465.51 L277.21,466.21 L277.40,466.78 L277.60,467.30 L277.98,468.25 L278.35,468.76 L278.77,469.21 L279.30,469.75 L280.00,470.06 L280.51,470.42 L281.12,470.82 L281.80,471.09 L282.52,470.84 L283.25,471.40 L283.96,471.63 L284.63,471.62 L285.22,472.09 L285.70,471.71 L286.46,471.77 L286.93,470.84 L287.26,470.36 L287.60,469.97 L287.76,470.39 L287.76,471.06 L287.80,471.82 L288.11,472.63 L288.90,473.23 L289.35,473.07 L289.89,473.47 L290.51,474.00 L291.20,473.54 L291.94,473.68 L292.72,474.48 L293.52,474.23 L294.34,474.79 L295.15,474.46 L295.93,473.98 L296.69,473.74 L297.39,473.63 L298.04,473.49 L298.60,473.92 L299.37,473.40 L300.07,473.18 L300.71,472.60 L301.29,471.89 L301.81,471.58 L302.29,470.91 L302.73,470.58 L303.13,470.41 L303.50,470.07 L303.87,470.15 L304.01,470.72 L304.05,471.44 L304.15,472.20 L304.45,472.91 L305.10,473.56 L305.57,473.69 L306.14,473.48 L306.81,473.49 L307.55,473.47 L308.34,473.93 L309.16,473.55 L309.99,473.66 L310.81,473.12 L311.59,472.88 L312.32,472.87 L312.98,472.63 L313.55,472.72 L314.00,472.49 L314.52,472.10 L314.85,471.51 L315.03,470.72 L315.10,469.96 L315.11,469.21 L315.10,468.44 L315.12,467.67 L315.20,466.94 L315.33,466.19 L315.45,465.46 L315.56,464.56 L315.67,463.71 L315.78,462.89 L315.88,462.25 L315.99,461.93 L316.10,461.73 L316.21,462.11 L316.33,462.44 L316.45,462.96 L316.56,463.67 L316.68,464.48 L316.79,465.38 L316.90,466.28 L317.00,467.04 L317.08,467.69 L317.12,468.45 L317.15,469.22 L317.18,469.99 L317.23,470.73 L317.33,471.46 L317.48,472.06 L317.70,472.49 L318.06,472.88 L318.46,473.13 L318.94,473.21 L319.55,473.23 L320.32,473.13 L321.30,472.86 L321.82,473.41 L322.44,473.42 L323.13,473.16 L323.89,473.70 L324.68,473.50 L325.50,473.04 L326.32,472.70 L327.14,472.85 L327.93,472.66 L328.68,472.69 L329.37,472.72 L329.98,472.89 L330.50,472.97 L330.90,473.20" fill="none" stroke="#3cb070" stroke-width="1.45" stroke-linejoin="round"/>
<path d="M22.60,552.70 L23.00,552.63 L23.55,552.75 L24.20,552.61 L24.91,552.38 L25.63,552.25 L26.31,552.13 L26.90,551.65 L27.51,551.41 L28.08,551.39 L28.62,551.27 L29.13,550.74 L29.63,550.17 L30.10,549.36 L30.31,548.96 L30.53,548.44 L30.73,548.07 L30.94,547.58 L31.14,547.02 L31.33,546.39 L31.52,545.78 L31.70,545.09 L31.88,544.44 L32.04,543.71 L32.20,542.95 L32.36,542.14 L32.50,541.29 L32.58,540.73 L32.66,540.19 L32.74,539.58 L32.81,538.97 L32.88,538.33 L32.94,537.68 L33.00,537.00 L33.06,536.31 L33.11,535.62 L33.17,534.91 L33.22,534.20 L33.27,533.48 L33.32,532.73 L33.37,531.98 L33.41,531.24 L33.46,530.50 L33.51,529.73 L33.55,528.96 L33.60,528.21 L33.65,527.46 L33.70,526.70 L33.74,526.04 L33.78,525.31 L33.82,524.56 L33.86,523.77 L33.89,522.96 L33.93,522.11 L33.97,521.25 L34.00,520.36 L34.03,519.48 L34.07,518.60 L34.10,517.71 L34.13,516.86 L34.17,516.00 L34.20,515.18 L34.23,514.41 L34.27,513.65 L34.30,512.94 L34.33,512.29 L34.37,511.68 L34.41,511.16 L34.44,510.71 L34.48,510.35 L34.52,510.01 L34.56,509.80 L34.60,509.61 L34.65,509.69 L34.71,509.74 L34.76,510.04 L34.81,510.39 L34.87,510.89 L34.93,511.45 L34.98,512.09 L35.04,512.82 L35.10,513.59 L35.16,514.44 L35.22,515.32 L35.28,516.22 L35.34,517.15 L35.40,518.09 L35.46,519.05 L35.53,519.98 L35.60,520.91 L35.66,521.82 L35.73,522.67 L35.80,523.49 L35.85,524.12 L35.91,524.76 L35.96,525.43 L36.01,526.10 L36.06,526.81 L36.11,527.53 L36.16,528.25 L36.21,528.97 L36.26,529.70 L36.31,530.45 L36.37,531.19 L36.42,531.94 L36.47,532.69 L36.53,533.45 L36.59,534.21 L36.65,534.94 L36.71,535.67 L36.78,536.38 L36.84,537.05 L36.91,537.74 L36.99,538.37 L37.06,539.02 L37.14,539.63 L37.22,540.23 L37.31,540.80 L37.40,541.35 L37.58,542.31 L37.77,543.18 L37.96,544.01 L38.17,544.79 L38.39,545.58 L38.61,546.36 L38.84,546.97 L39.08,547.61 L39.33,548.06 L39.57,548.60 L39.83,549.16 L40.08,549.50 L40.34,549.78 L40.60,550.09 L41.15,550.47 L41.73,550.59 L42.34,550.37 L42.96,550.04 L43.57,549.58 L44.15,549.15 L44.70,548.60 L45.11,548.18 L45.51,547.68 L45.90,547.13 L46.29,546.62 L46.66,545.80 L47.01,545.23 L47.33,544.66 L47.63,544.21 L47.90,543.79 L48.34,542.77 L48.62,542.04 L48.87,541.41 L49.20,541.44 L49.55,541.58 L49.93,542.30 L50.34,542.96 L50.76,543.52 L51.20,543.61 L51.52,543.63 L51.87,543.22 L52.22,542.50 L52.57,541.81 L52.92,541.03 L53.27,540.33 L53.60,539.70 L53.88,539.11 L54.15,538.22 L54.41,537.32 L54.68,536.52 L54.93,535.69 L55.19,535.08 L55.44,534.73 L55.70,534.85 L55.84,535.04 L55.97,535.31 L56.10,535.81 L56.22,536.39 L56.34,537.09 L56.46,537.80 L56.58,538.60 L56.71,539.42 L56.84,540.25 L56.99,540.99 L57.14,541.77 L57.31,542.45 L57.50,543.06 L57.70,543.67 L58.02,544.31 L58.38,545.08 L58.76,545.79 L59.17,546.42 L59.59,547.12 L60.03,547.74 L60.46,548.35 L60.89,548.82 L61.30,549.01 L61.70,549.21 L62.34,549.52 L62.96,549.13 L63.58,548.67 L64.19,548.28 L64.79,547.89 L65.40,547.97 L65.82,547.91 L66.20,548.42 L66.56,548.99 L66.92,549.58 L67.32,550.25 L67.79,550.76 L68.34,551.26 L69.00,551.68 L69.52,552.11 L70.11,552.16 L70.75,552.45 L71.43,552.69 L72.14,552.80 L72.87,553.00 L73.61,553.12 L74.35,553.36 L75.08,553.28 L75.79,553.43 L76.47,553.35 L77.10,553.68 L77.80,553.80 L78.45,553.92 L79.07,553.61 L79.66,553.49 L80.25,553.73 L80.85,553.97 L81.47,553.77 L82.12,553.43 L82.83,553.27 L83.60,553.38 L84.22,553.47 L84.90,553.59 L85.64,553.72 L86.42,553.89 L87.23,554.08 L88.04,554.18 L88.86,553.93 L89.65,554.02 L90.42,554.31 L91.14,554.25 L91.81,554.34 L92.40,554.38 L92.90,554.66 L93.30,554.60" fill="none" stroke="#111" stroke-width="1.35" stroke-linejoin="round"/>
<path d="M99.50,554.60 L99.89,554.72 L100.39,554.71 L100.97,554.57 L101.63,554.65 L102.34,554.49 L103.10,554.29 L103.89,554.29 L104.70,554.63 L105.51,554.42 L106.31,554.56 L107.09,554.32 L107.84,554.50 L108.53,554.22 L109.15,554.26 L109.70,554.42 L110.58,554.31 L111.36,554.15 L112.04,554.04 L112.64,553.81 L113.18,553.55 L113.67,553.38 L114.14,553.08 L114.60,552.79 L115.03,552.44 L115.39,552.02 L115.72,551.51 L116.01,551.01 L116.27,550.35 L116.51,549.67 L116.76,548.75 L117.00,547.82 L117.10,547.38 L117.20,546.85 L117.30,546.34 L117.39,545.84 L117.48,545.32 L117.56,544.77 L117.64,544.21 L117.73,543.63 L117.80,543.02 L117.88,542.37 L117.96,541.73 L118.04,541.00 L118.11,540.25 L118.19,539.46 L118.27,538.63 L118.35,537.76 L118.43,536.82 L118.51,535.82 L118.60,534.81 L118.64,534.28 L118.68,533.74 L118.73,533.18 L118.77,532.62 L118.81,532.01 L118.86,531.39 L118.90,530.73 L118.94,530.09 L118.99,529.40 L119.03,528.71 L119.08,528.02 L119.12,527.29 L119.17,526.57 L119.21,525.86 L119.26,525.15 L119.30,524.39 L119.35,523.63 L119.39,522.88 L119.44,522.12 L119.48,521.36 L119.53,520.59 L119.57,519.83 L119.61,519.05 L119.66,518.30 L119.70,517.55 L119.75,516.80 L119.79,516.05 L119.83,515.30 L119.87,514.58 L119.91,513.83 L119.96,513.12 L120.00,512.40 L120.04,511.72 L120.08,511.04 L120.12,510.37 L120.15,509.73 L120.19,509.10 L120.23,508.47 L120.26,507.86 L120.30,507.27 L120.35,506.40 L120.40,505.49 L120.45,504.55 L120.50,503.61 L120.55,502.65 L120.59,501.70 L120.63,500.76 L120.68,499.80 L120.72,498.86 L120.76,497.93 L120.80,497.03 L120.84,496.16 L120.88,495.30 L120.91,494.49 L120.95,493.73 L120.99,493.00 L121.03,492.34 L121.07,491.73 L121.11,491.16 L121.14,490.65 L121.18,490.24 L121.23,489.88 L121.27,489.63 L121.31,489.52 L121.35,489.52 L121.40,489.51 L121.44,489.53 L121.48,489.64 L121.52,489.88 L121.56,490.18 L121.60,490.50 L121.63,490.91 L121.67,491.37 L121.71,491.88 L121.75,492.44 L121.79,493.04 L121.83,493.69 L121.87,494.37 L121.92,495.08 L121.96,495.85 L122.00,496.62 L122.04,497.42 L122.08,498.25 L122.12,499.09 L122.17,499.96 L122.21,500.83 L122.25,501.71 L122.29,502.61 L122.34,503.52 L122.38,504.42 L122.43,505.32 L122.47,506.22 L122.52,507.11 L122.56,507.97 L122.61,508.82 L122.65,509.67 L122.70,510.50 L122.73,511.11 L122.77,511.73 L122.80,512.37 L122.84,513.04 L122.87,513.70 L122.91,514.39 L122.94,515.08 L122.97,515.79 L123.01,516.51 L123.04,517.24 L123.08,517.98 L123.11,518.73 L123.15,519.48 L123.18,520.22 L123.22,521.00 L123.25,521.76 L123.29,522.53 L123.32,523.30 L123.36,524.06 L123.39,524.83 L123.43,525.60 L123.47,526.37 L123.51,527.14 L123.54,527.89 L123.58,528.65 L123.62,529.39 L123.66,530.13 L123.70,530.87 L123.74,531.59 L123.78,532.31 L123.82,533.00 L123.86,533.69 L123.90,534.37 L123.94,535.03 L123.98,535.68 L124.03,536.31 L124.07,536.92 L124.12,537.52 L124.16,538.11 L124.21,538.67 L124.25,539.20 L124.30,539.70 L124.41,540.79 L124.52,541.81 L124.63,542.79 L124.75,543.71 L124.87,544.60 L125.00,545.46 L125.12,546.25 L125.25,546.97 L125.38,547.61 L125.51,548.29 L125.64,548.88 L125.77,549.45 L125.91,550.04 L126.04,550.57 L126.17,551.01 L126.31,551.46 L126.44,551.99 L126.57,552.30 L126.70,552.73 L127.22,553.69 L127.69,553.82 L128.29,553.75 L129.20,553.36 L129.71,553.48 L130.30,553.55 L130.98,553.78 L131.69,553.79 L132.44,554.02 L133.18,554.15 L133.90,553.98 L134.58,553.85 L135.19,553.65 L135.70,553.54 L136.30,553.25 L136.79,553.05 L137.20,552.81 L137.54,552.46 L137.84,551.99 L138.12,551.20 L138.40,550.01 L138.49,549.59 L138.57,549.19 L138.65,548.79 L138.73,548.37 L138.80,547.93 L138.87,547.54 L138.93,547.11 L139.00,546.64 L139.06,546.12 L139.11,545.63 L139.17,545.07 L139.22,544.50 L139.27,543.85 L139.32,543.15 L139.37,542.40 L139.42,541.57 L139.47,540.68 L139.51,539.71 L139.56,538.66 L139.61,537.53 L139.65,536.32 L139.70,535.01 L139.72,534.53 L139.73,534.06 L139.75,533.55 L139.76,533.04 L139.78,532.52 L139.79,532.00 L139.81,531.45 L139.82,530.90 L139.84,530.34 L139.85,529.76 L139.86,529.17 L139.88,528.57 L139.89,527.97 L139.91,527.35 L139.92,526.72 L139.93,526.09 L139.94,525.45 L139.96,524.79 L139.97,524.13 L139.98,523.47 L140.00,522.79 L140.01,522.11 L140.02,521.41 L140.03,520.72 L140.04,520.01 L140.06,519.31 L140.07,518.60 L140.08,517.87 L140.09,517.14 L140.10,516.41 L140.11,515.67 L140.13,514.94 L140.14,514.19 L140.15,513.44 L140.16,512.69 L140.17,511.94 L140.18,511.18 L140.19,510.42 L140.20,509.66 L140.22,508.89 L140.23,508.12 L140.24,507.35 L140.25,506.58 L140.26,505.82 L140.27,505.05 L140.28,504.28 L140.29,503.51 L140.30,502.74 L140.31,501.97 L140.33,501.20 L140.34,500.44 L140.35,499.67 L140.36,498.91 L140.37,498.15 L140.38,497.39 L140.39,496.63 L140.40,495.88 L140.42,495.13 L140.43,494.38 L140.44,493.64 L140.45,492.91 L140.46,492.17 L140.48,491.44 L140.49,490.71 L140.50,490.00 L140.51,489.31 L140.52,488.61 L140.53,487.88 L140.55,487.14 L140.56,486.38 L140.57,485.61 L140.58,484.81 L140.59,484.00 L140.60,483.18 L140.62,482.34 L140.63,481.49 L140.64,480.63 L140.65,479.76 L140.66,478.88 L140.67,477.99 L140.69,477.09 L140.70,476.19 L140.71,475.28 L140.72,474.36 L140.73,473.44 L140.74,472.52 L140.76,471.60 L140.77,470.67 L140.78,469.74 L140.79,468.81 L140.80,467.88 L140.81,466.96 L140.82,466.04 L140.84,465.12 L140.85,464.21 L140.86,463.30 L140.87,462.40 L140.88,461.51 L140.89,460.63 L140.91,459.75 L140.92,458.89 L140.93,458.03 L140.94,457.19 L140.95,456.37 L140.96,455.55 L140.98,454.74 L140.99,453.96 L141.00,453.19 L141.01,452.45 L141.02,451.71 L141.03,450.99 L141.04,450.30 L141.06,449.64 L141.07,448.99 L141.08,448.36 L141.09,447.75 L141.10,447.18 L141.11,446.63 L141.13,446.11 L141.14,445.61 L141.15,445.13 L141.16,444.69 L141.17,444.28 L141.18,443.89 L141.20,443.55 L141.21,443.24 L141.22,442.95 L141.23,442.70 L141.24,442.49 L141.25,442.31 L141.27,442.20 L141.28,442.12 L141.29,442.03 L141.30,442.04 L141.31,442.02 L141.32,442.07 L141.33,442.17 L141.35,442.31 L141.36,442.49 L141.37,442.69 L141.38,442.95 L141.39,443.23 L141.40,443.55 L141.42,443.89 L141.43,444.28 L141.44,444.68 L141.45,445.13 L141.46,445.60 L141.47,446.10 L141.49,446.63 L141.50,447.19 L141.51,447.76 L141.52,448.36 L141.53,448.99 L141.54,449.63 L141.56,450.30 L141.57,451.00 L141.58,451.71 L141.59,452.45 L141.60,453.20 L141.61,453.96 L141.62,454.75 L141.64,455.55 L141.65,456.36 L141.66,457.19 L141.67,458.03 L141.68,458.89 L141.69,459.75 L141.71,460.63 L141.72,461.51 L141.73,462.40 L141.74,463.30 L141.75,464.21 L141.76,465.12 L141.78,466.04 L141.79,466.96 L141.80,467.89 L141.81,468.81 L141.82,469.74 L141.83,470.67 L141.84,471.59 L141.86,472.52 L141.87,473.44 L141.88,474.36 L141.89,475.28 L141.90,476.19 L141.91,477.09 L141.93,477.99 L141.94,478.88 L141.95,479.76 L141.96,480.63 L141.97,481.49 L141.98,482.34 L142.00,483.18 L142.01,484.00 L142.02,484.81 L142.03,485.61 L142.04,486.38 L142.05,487.15 L142.07,487.89 L142.08,488.61 L142.09,489.31 L142.10,489.99 L142.11,490.72 L142.12,491.44 L142.14,492.17 L142.15,492.90 L142.16,493.64 L142.17,494.38 L142.18,495.13 L142.19,495.88 L142.20,496.64 L142.22,497.39 L142.23,498.15 L142.24,498.91 L142.25,499.67 L142.26,500.44 L142.27,501.20 L142.28,501.97 L142.29,502.74 L142.30,503.52 L142.31,504.29 L142.32,505.05 L142.33,505.82 L142.34,506.59 L142.35,507.36 L142.37,508.13 L142.38,508.89 L142.39,509.66 L142.40,510.42 L142.41,511.18 L142.42,511.94 L142.43,512.69 L142.44,513.44 L142.45,514.19 L142.46,514.93 L142.47,515.67 L142.48,516.41 L142.50,517.14 L142.51,517.87 L142.52,518.59 L142.53,519.31 L142.54,520.02 L142.55,520.72 L142.57,521.41 L142.58,522.10 L142.59,522.79 L142.60,523.47 L142.61,524.14 L142.63,524.80 L142.64,525.45 L142.65,526.09 L142.67,526.73 L142.68,527.35 L142.70,527.98 L142.71,528.59 L142.72,529.18 L142.74,529.77 L142.75,530.34 L142.77,530.91 L142.78,531.46 L142.80,532.01 L142.82,532.53 L142.83,533.05 L142.85,533.56 L142.87,534.06 L142.88,534.54 L142.90,535.00 L142.95,536.31 L143.00,537.54 L143.05,538.67 L143.10,539.72 L143.16,540.67 L143.21,541.55 L143.26,542.41 L143.31,543.15 L143.37,543.84 L143.43,544.51 L143.49,545.13 L143.55,545.65 L143.62,546.17 L143.69,546.61 L143.76,547.07 L143.83,547.53 L143.92,547.92 L144.00,548.37 L144.09,548.76 L144.19,549.18 L144.29,549.60 L144.40,549.99 L144.74,551.18 L145.07,551.88 L145.44,552.18 L145.86,552.63 L146.37,552.95 L147.01,553.25 L147.80,553.59 L148.27,553.77 L148.79,553.89 L149.36,554.10 L149.97,554.26 L150.61,554.33 L151.27,554.48 L151.96,554.80 L152.65,554.88 L153.35,555.27 L154.06,555.40 L154.75,555.59 L155.42,555.70 L156.08,555.79 L156.70,555.67 L157.42,555.74 L158.15,555.73 L158.89,555.66 L159.64,555.68 L160.37,555.52 L161.10,555.55 L161.81,555.55 L162.49,555.49 L163.13,555.35 L163.74,555.32 L164.30,555.14 L164.80,554.96 L165.65,554.76 L166.33,554.55 L166.88,554.25 L167.33,553.94 L167.72,553.75 L168.10,553.39 L168.53,552.91 L168.79,552.36 L169.02,552.07 L169.40,552.03 L169.85,552.00 L170.39,552.22 L170.97,552.55 L171.55,553.07 L172.10,553.29 L172.75,553.87 L173.40,554.24 L174.02,554.56 L174.60,554.27 L174.95,553.90 L175.27,553.23 L175.57,552.50 L175.87,551.78 L176.18,551.23 L176.50,551.21 L176.80,551.25 L177.05,551.73 L177.31,552.52 L177.63,553.22 L178.04,553.95 L178.60,554.26 L179.08,554.33 L179.64,554.37 L180.27,554.24 L180.94,554.37 L181.63,554.45 L182.33,554.20 L183.02,554.17 L183.69,554.27 L184.30,554.19 L184.94,554.15 L185.56,554.52 L186.16,554.54 L186.75,554.79 L187.33,554.99 L187.91,555.33 L188.50,555.08 L189.10,555.24 L189.60,555.11 L190.11,554.79 L190.64,554.37 L191.17,554.04 L191.69,553.71 L192.21,553.14 L192.70,552.58 L193.17,552.04 L193.61,551.55 L194.00,550.97 L194.27,550.52 L194.53,549.97 L194.76,549.44 L194.98,548.88 L195.18,548.28 L195.37,547.54 L195.54,546.94 L195.71,546.25 L195.88,545.61 L196.03,544.99 L196.19,544.31 L196.34,543.58 L196.50,542.91 L196.63,542.29 L196.76,541.62 L196.88,540.98 L196.99,540.32 L197.10,539.60 L197.20,538.87 L197.31,538.15 L197.41,537.42 L197.50,536.74 L197.60,536.05 L197.70,535.41 L197.79,534.74 L197.89,534.20 L198.00,533.72 L198.10,533.18 L198.33,532.27 L198.56,531.36 L198.79,530.65 L199.01,529.99 L199.24,529.59 L199.47,529.24 L199.70,529.18 L199.87,529.43 L200.04,529.68 L200.20,530.14 L200.36,530.62 L200.53,531.32 L200.70,532.02 L200.88,532.83 L201.08,533.82 L201.30,534.79 L201.41,535.29 L201.52,535.86 L201.63,536.48 L201.74,537.12 L201.86,537.82 L201.97,538.56 L202.09,539.28 L202.21,540.03 L202.34,540.81 L202.46,541.60 L202.60,542.34 L202.73,543.12 L202.87,543.86 L203.01,544.62 L203.16,545.28 L203.31,546.00 L203.47,546.64 L203.63,547.22 L203.80,547.83 L204.07,548.63 L204.35,549.49 L204.64,550.24 L204.93,550.89 L205.23,551.64 L205.55,552.34 L205.88,552.99 L206.23,553.42 L206.59,553.89 L206.97,554.29 L207.37,554.82 L207.80,555.19 L208.36,555.45 L208.99,555.69 L209.66,555.94 L210.36,555.99 L211.08,556.03 L211.79,555.98 L212.48,555.48 L213.15,555.48 L213.76,555.36 L214.30,555.25 L214.83,554.75 L215.31,554.18 L215.74,553.53 L216.14,552.78 L216.51,552.08 L216.86,551.42 L217.20,550.74 L217.55,550.43 L217.90,550.32 L218.28,550.42 L218.63,550.81 L218.95,551.45 L219.27,552.18 L219.60,553.02 L219.95,553.77 L220.35,554.27 L220.80,554.84 L221.33,554.58 L221.92,554.63 L222.57,554.59 L223.23,554.39 L223.90,554.16 L224.55,553.74 L225.16,553.27 L225.70,552.71 L226.06,552.27 L226.40,551.71 L226.72,551.06 L227.02,550.29 L227.31,549.61 L227.60,548.84 L227.87,548.19 L228.13,547.45 L228.39,546.91 L228.65,546.52 L228.90,546.25 L229.43,546.15 L229.91,546.61 L230.37,547.37 L230.83,547.70 L231.30,547.70 L231.55,547.32 L231.81,546.66 L232.07,545.85 L232.34,544.94 L232.60,543.97 L232.86,543.01 L233.11,542.25 L233.36,541.59 L233.59,541.30 L233.80,541.42 L233.91,541.56 L234.02,541.89 L234.12,542.36 L234.20,542.90 L234.29,543.59 L234.37,544.35 L234.44,545.16 L234.52,546.01 L234.59,546.87 L234.67,547.73 L234.75,548.63 L234.84,549.46 L234.93,550.28 L235.03,550.98 L235.14,551.64 L235.27,552.17 L235.40,552.69 L235.77,553.72 L236.11,554.32 L236.49,554.57 L236.99,554.91 L237.67,555.11 L238.60,555.32 L239.11,555.24 L239.70,555.15 L240.37,555.20 L241.09,554.93 L241.86,555.02 L242.65,554.97 L243.46,554.97 L244.27,555.02 L245.06,554.96 L245.83,554.57 L246.55,554.71 L247.21,554.59 L247.80,554.56 L248.30,554.35 L249.19,553.95 L249.81,553.25 L250.24,552.76 L250.57,552.17 L250.89,551.93 L251.30,551.80 L251.70,551.99 L251.99,552.45 L252.28,553.03 L252.65,553.59 L253.19,554.20 L254.00,554.52 L254.49,554.60 L255.05,554.91 L255.68,554.70 L256.36,554.75 L257.08,554.71 L257.83,554.99 L258.60,555.12 L259.37,555.08 L260.14,554.90 L260.88,554.88 L261.60,554.99 L262.28,554.72 L262.90,554.84 L263.59,554.50 L264.26,554.23 L264.91,554.06 L265.54,553.59 L266.15,553.14 L266.74,552.79 L267.31,552.41 L267.87,551.99 L268.40,551.59 L268.91,551.25 L269.40,551.04 L270.14,550.74 L270.83,550.50 L271.48,550.40 L272.08,550.28 L272.62,549.87 L273.09,549.31 L273.50,548.65 L273.68,548.25 L273.83,547.66 L273.95,547.12 L274.05,546.52 L274.13,545.86 L274.20,545.21 L274.25,544.49 L274.30,543.78 L274.35,543.02 L274.39,542.22 L274.45,541.42 L274.52,540.56 L274.60,539.70 L274.66,539.10 L274.72,538.37 L274.78,537.62 L274.85,536.77 L274.91,535.90 L274.98,535.01 L275.04,534.08 L275.11,533.13 L275.17,532.22 L275.24,531.30 L275.30,530.40 L275.37,529.56 L275.44,528.75 L275.50,528.00 L275.57,527.37 L275.64,526.84 L275.70,526.42 L275.77,526.13 L275.83,525.96 L275.90,525.93 L275.96,526.04 L276.01,526.23 L276.06,526.50 L276.12,526.90 L276.17,527.40 L276.22,527.97 L276.27,528.64 L276.32,529.32 L276.38,530.08 L276.43,530.87 L276.48,531.69 L276.53,532.56 L276.59,533.44 L276.64,534.32 L276.70,535.22 L276.75,536.10 L276.81,536.97 L276.87,537.81 L276.93,538.62 L277.00,539.37 L277.06,540.06 L277.13,540.70 L277.20,541.28 L277.30,542.13 L277.40,542.97 L277.48,543.77 L277.57,544.56 L277.65,545.30 L277.73,546.03 L277.83,546.73 L277.93,547.41 L278.04,548.02 L278.17,548.61 L278.33,549.24 L278.50,549.77 L278.70,550.25 L278.93,550.60 L279.20,550.97 L279.69,551.33 L280.29,551.76 L280.96,552.12 L281.70,552.38 L282.46,552.33 L283.22,552.43 L283.95,552.30 L284.62,552.04 L285.22,552.05 L285.70,551.82 L286.22,551.32 L286.60,550.62 L286.87,549.88 L287.07,549.07 L287.23,548.40 L287.40,548.08 L287.60,547.90 L287.71,548.07 L287.70,548.52 L287.64,549.18 L287.58,549.97 L287.55,550.82 L287.62,551.62 L287.84,552.38 L288.25,553.02 L288.90,553.36 L289.32,553.54 L289.83,553.82 L290.41,553.79 L291.06,553.99 L291.76,554.01 L292.51,553.84 L293.30,554.22 L294.11,554.45 L294.93,554.47 L295.77,554.34 L296.60,554.33 L297.41,554.10 L298.20,553.89 L298.96,553.88 L299.67,553.63 L300.33,553.83 L300.93,553.84 L301.46,553.66 L301.90,553.58 L302.78,553.08 L303.31,552.40 L303.60,551.59 L303.72,550.81 L303.77,550.09 L303.83,549.64 L304.00,549.53 L304.17,549.64 L304.22,550.11 L304.23,550.82 L304.28,551.66 L304.44,552.41 L304.79,553.08 L305.40,553.48 L305.85,553.73 L306.40,553.78 L307.04,553.70 L307.75,553.66 L308.52,553.72 L309.31,553.67 L310.13,553.48 L310.95,553.34 L311.74,553.61 L312.50,553.56 L313.20,553.47 L313.83,553.22 L314.37,552.97 L314.80,552.59 L315.17,552.27 L315.44,551.83 L315.62,551.30 L315.73,550.66 L315.78,550.03 L315.79,549.33 L315.76,548.62 L315.72,547.86 L315.68,547.14 L315.65,546.41 L315.66,545.68 L315.70,544.99 L315.76,544.32 L315.83,543.56 L315.89,542.75 L315.95,541.90 L316.01,541.03 L316.08,540.18 L316.14,539.34 L316.20,538.58 L316.26,537.88 L316.32,537.31 L316.38,536.83 L316.44,536.55 L316.50,536.46 L316.56,536.59 L316.62,536.91 L316.68,537.33 L316.75,537.89 L316.81,538.57 L316.87,539.33 L316.93,540.17 L316.99,541.01 L317.05,541.90 L317.12,542.75 L317.18,543.59 L317.24,544.32 L317.30,545.00 L317.35,545.68 L317.37,546.40 L317.37,547.12 L317.36,547.85 L317.34,548.58 L317.34,549.28 L317.36,549.97 L317.41,550.62 L317.50,551.24 L317.64,551.84 L317.83,552.43 L318.10,552.78 L318.52,553.20 L319.04,553.58 L319.64,553.89 L320.30,554.14 L321.01,554.28 L321.74,554.14 L322.49,554.22 L323.22,554.39 L323.93,554.42 L324.60,554.31 L325.27,554.28 L325.97,554.35 L326.70,554.38 L327.44,554.38 L328.16,554.41 L328.84,554.31 L329.48,554.19 L330.05,554.09 L330.53,553.90 L330.90,554.00" fill="none" stroke="#111" stroke-width="1.35" stroke-linejoin="round"/>
<text x="39.5" y="429.2" font-size="10.1" text-anchor="start" fill="#111" font-weight="normal" transform="rotate(-90 39.5 429.2)">3081</text>
<text x="52.2" y="459.2" font-size="10.1" text-anchor="start" fill="#111" font-weight="normal" transform="rotate(-90 52.2 459.2)">2999</text>
<text x="61.7" y="453.3" font-size="10.1" text-anchor="start" fill="#111" font-weight="normal" transform="rotate(-90 61.7 453.3)">2963</text>
<text x="125.2" y="407.8" font-size="10.1" text-anchor="start" fill="#111" font-weight="normal" transform="rotate(-90 125.2 407.8)">1727</text>
<text x="146.2" y="364.1" font-size="10.1" text-anchor="start" fill="#111" font-weight="normal" transform="rotate(-90 146.2 364.1)">1613</text>
<text x="172.8" y="460.5" font-size="10.1" text-anchor="start" fill="#111" font-weight="normal" transform="rotate(-90 172.8 460.5)">1459</text>
<text x="180.8" y="459.7" font-size="10.1" text-anchor="start" fill="#111" font-weight="normal" transform="rotate(-90 180.8 459.7)">1416</text>
<text x="202.2" y="439.5" font-size="10.1" text-anchor="start" fill="#111" font-weight="normal" transform="rotate(-90 202.2 439.5)">1289</text>
<text x="217.8" y="457.3" font-size="10.1" text-anchor="start" fill="#111" font-weight="normal" transform="rotate(-90 217.8 457.3)">1187</text>
<text x="231.5" y="455.7" font-size="10.1" text-anchor="start" fill="#111" font-weight="normal" transform="rotate(-90 231.5 455.7)">1115</text>
<text x="240.2" y="447.8" font-size="10.1" text-anchor="start" fill="#111" font-weight="normal" transform="rotate(-90 240.2 447.8)">1094</text>
<text x="255.1" y="461.3" font-size="10.1" text-anchor="start" fill="#111" font-weight="normal" transform="rotate(-90 255.1 461.3)">996</text>
<text x="280.2" y="434.6" font-size="10.1" text-anchor="start" fill="#111" font-weight="normal" transform="rotate(-90 280.2 434.6)">857</text>
<text x="291.8" y="456.5" font-size="10.1" text-anchor="start" fill="#111" font-weight="normal" transform="rotate(-90 291.8 456.5)">793</text>
<text x="307.8" y="458.1" font-size="10.1" text-anchor="start" fill="#111" font-weight="normal" transform="rotate(-90 307.8 458.1)">701</text>
<text x="319.9" y="445.9" font-size="10.1" text-anchor="start" fill="#111" font-weight="normal" transform="rotate(-90 319.9 445.9)">631</text>
<text x="222.6" y="411.1" font-size="10.1" text-anchor="start" fill="#3cb070" font-weight="normal" transform="rotate(-90 222.6 411.1)">1176</text>
<g stroke="#444" stroke-width="0.75" fill="none"><path d="M212.9,356.6 H220.6"/><path d="M217.3,349 V363.3"/><path d="M225.2,353 L230.5,347.9 L242.8,347.9"/><path d="M230.5,347.9 L225.4,341.9 M229.2,349.1 L224.2,343.1"/><path d="M242.8,347.9 L248.4,337.2 L260.7,337.2 L266.8,347.9 L260.7,357.6 L248.4,357.6 Z"/><path d="M249.8,339.4 H259.3 M245.2,347.9 L249.7,355.3 M264.4,347.9 L259.6,355.3"/><path d="M266.8,347.9 H278.3 L283.3,342.6"/><path d="M278.3,347.9 L283.6,353.3 M277.1,349.1 L282.4,354.5"/><path d="M288.8,340 H300.3 L306.9,333.7 H315.6"/><path d="M313,326 V340.3 L312,341.2"/></g>
<text x="220.6" y="358.6" font-size="6.2" text-anchor="start" fill="#444" font-weight="normal">O</text>
<text x="221.1" y="341.9" font-size="6.2" text-anchor="start" fill="#444" font-weight="normal">O</text>
<text x="283.8" y="357.8" font-size="6.2" text-anchor="start" fill="#444" font-weight="normal">O</text>
<text x="283.8" y="342.4" font-size="6.2" text-anchor="start" fill="#444" font-weight="normal">O</text>
<text x="208.8" y="358.6" font-size="6.0" text-anchor="start" fill="#444" font-weight="normal">H</text>
<text x="316.3" y="335.8" font-size="6.0" text-anchor="start" fill="#444" font-weight="normal">OH</text>
<text x="314.0" y="344.4" font-size="5.0" text-anchor="start" fill="#444" font-weight="normal" font-style="italic">n</text>
<path d="M372.50,464.00 L372.92,464.16 L373.49,463.81 L374.18,463.44 L374.92,463.14 L375.66,462.79 L376.34,462.53 L376.90,462.19 L377.35,462.89 L377.73,462.24 L378.07,461.33 L378.38,460.48 L378.67,460.08 L378.97,459.15 L379.30,458.26 L379.48,457.80 L379.67,457.56 L379.85,456.87 L380.04,456.12 L380.22,455.35 L380.40,454.62 L380.59,453.97 L380.77,453.54 L380.95,452.89 L381.14,452.26 L381.33,451.56 L381.51,450.89 L381.70,450.32 L381.95,449.54 L382.20,449.01 L382.45,448.14 L382.70,447.64 L382.95,446.68 L383.20,446.29 L383.45,445.61 L383.70,444.87 L383.95,444.39 L384.20,443.88 L384.70,443.09 L385.21,442.49 L385.70,442.80 L386.17,441.98 L386.60,441.03 L386.75,440.84 L386.89,440.21 L387.02,439.90 L387.15,439.30 L387.27,438.61 L387.39,438.10 L387.51,437.33 L387.62,436.58 L387.73,435.88 L387.85,435.05 L387.96,434.26 L388.08,433.43 L388.20,432.47 L388.27,431.88 L388.33,431.25 L388.40,430.61 L388.47,429.99 L388.53,429.49 L388.60,428.76 L388.67,428.06 L388.73,427.43 L388.80,426.77 L388.87,425.91 L388.93,425.27 L389.00,424.48 L389.07,423.77 L389.13,423.09 L389.20,422.27 L389.27,421.60 L389.33,420.93 L389.40,420.21 L389.47,419.46 L389.53,418.79 L389.60,418.13 L389.67,417.40 L389.73,416.79 L389.80,416.23 L389.88,415.57 L389.97,414.78 L390.05,414.02 L390.14,413.27 L390.22,412.56 L390.30,411.90 L390.39,411.05 L390.47,410.39 L390.55,409.72 L390.64,409.10 L390.72,408.38 L390.80,407.60 L390.89,406.91 L390.97,406.27 L391.06,405.68 L391.14,405.02 L391.23,404.57 L391.31,403.82 L391.40,403.30 L391.51,402.43 L391.61,401.55 L391.71,400.79 L391.81,400.08 L391.90,399.39 L392.00,398.61 L392.10,397.99 L392.20,397.20 L392.31,396.53 L392.42,395.91 L392.54,395.18 L392.66,394.60 L392.80,394.02 L392.94,393.49 L393.10,393.16 L393.36,392.43 L393.66,391.77 L393.97,390.82 L394.31,390.07 L394.66,389.48 L395.01,388.99 L395.35,388.23 L395.69,388.05 L396.01,387.44 L396.30,387.02 L396.94,387.00 L397.49,387.47 L398.06,387.67 L398.70,388.29 L399.08,387.92 L399.48,387.70 L399.91,387.14 L400.35,386.29 L400.79,385.84 L401.22,385.27 L401.62,384.56 L402.00,384.07 L402.25,383.41 L402.49,382.77 L402.72,381.80 L402.94,380.97 L403.15,380.09 L403.36,379.21 L403.57,378.54 L403.77,377.86 L403.98,377.34 L404.19,376.74 L404.40,377.11 L404.67,377.29 L404.93,377.29 L405.20,377.69 L405.46,378.30 L405.73,379.22 L405.99,379.88 L406.26,380.71 L406.53,381.34 L406.80,382.15 L407.07,382.82 L407.34,383.32 L407.61,383.90 L407.88,384.39 L408.16,385.32 L408.43,386.10 L408.72,386.60 L409.00,387.41 L409.30,388.19 L409.46,388.80 L409.62,389.41 L409.79,390.10 L409.96,391.01 L410.13,391.65 L410.30,392.62 L410.48,393.52 L410.65,394.43 L410.83,395.29 L411.00,396.23 L411.18,396.69 L411.35,397.44 L411.52,398.29 L411.70,398.96 L411.87,399.43 L412.03,399.13 L412.20,399.87 L412.36,399.56 L412.53,399.60 L412.69,399.04 L412.86,398.47 L413.02,397.88 L413.19,397.10 L413.35,396.37 L413.51,395.44 L413.67,394.67 L413.83,393.84 L413.99,392.98 L414.15,392.15 L414.30,391.25 L414.46,390.41 L414.61,389.53 L414.75,388.67 L414.90,388.06 L415.05,387.20 L415.21,386.67 L415.36,385.82 L415.51,385.09 L415.65,384.28 L415.80,383.43 L415.95,382.61 L416.09,381.70 L416.23,380.93 L416.36,380.21 L416.50,379.55 L416.62,379.05 L416.75,378.45 L416.87,377.98 L416.99,377.53 L417.10,377.07 L417.34,376.53 L417.55,377.11 L417.75,377.95 L417.93,378.74 L418.09,379.62 L418.25,380.79 L418.40,381.96 L418.45,382.49 L418.51,382.87 L418.56,383.33 L418.60,383.84 L418.65,384.30 L418.70,384.94 L418.74,385.48 L418.78,386.02 L418.82,386.58 L418.86,387.27 L418.90,387.88 L418.94,388.60 L418.98,389.36 L419.02,390.19 L419.05,391.04 L419.09,391.96 L419.13,392.91 L419.16,393.90 L419.20,395.01 L419.22,395.51 L419.23,396.06 L419.25,396.62 L419.26,397.16 L419.28,397.72 L419.29,398.33 L419.31,398.93 L419.32,399.57 L419.34,400.21 L419.35,400.89 L419.36,401.54 L419.38,402.22 L419.39,402.90 L419.40,403.61 L419.42,404.32 L419.43,405.03 L419.44,405.77 L419.46,406.51 L419.47,407.24 L419.48,407.99 L419.49,408.77 L419.51,409.51 L419.52,410.24 L419.53,411.02 L419.54,411.79 L419.56,412.55 L419.57,413.30 L419.58,414.06 L419.60,414.84 L419.61,415.62 L419.62,416.38 L419.64,417.14 L419.65,417.88 L419.66,418.62 L419.68,419.35 L419.69,420.08 L419.71,420.81 L419.72,421.53 L419.74,422.26 L419.75,422.99 L419.77,423.67 L419.78,424.33 L419.80,425.00 L419.82,425.74 L419.84,426.49 L419.85,427.19 L419.87,427.94 L419.89,428.69 L419.90,429.43 L419.92,430.20 L419.94,430.95 L419.95,431.70 L419.97,432.43 L419.99,433.16 L420.01,433.93 L420.02,434.69 L420.04,435.44 L420.06,436.17 L420.07,436.91 L420.09,437.65 L420.11,438.39 L420.13,439.11 L420.15,439.84 L420.17,440.56 L420.19,441.24 L420.20,441.97 L420.22,442.67 L420.25,443.37 L420.27,444.05 L420.29,444.74 L420.31,445.41 L420.33,446.07 L420.36,446.66 L420.38,447.32 L420.41,447.95 L420.43,448.54 L420.46,449.19 L420.48,449.78 L420.51,450.34 L420.54,450.96 L420.57,451.48 L420.60,452.02 L420.66,452.88 L420.71,453.85 L420.77,454.82 L420.83,455.61 L420.89,456.46 L420.95,457.26 L421.01,457.99 L421.07,458.83 L421.14,459.57 L421.21,460.29 L421.28,460.97 L421.35,461.53 L421.43,462.11 L421.51,462.74 L421.60,463.33 L421.68,463.82 L421.78,464.45 L421.88,465.03 L421.98,465.50 L422.09,466.04 L422.20,466.76 L422.43,467.37 L422.68,468.01 L422.94,469.03 L423.21,469.51 L423.50,470.24 L423.80,470.99 L424.12,471.61 L424.45,471.98 L424.79,472.23 L425.14,472.36 L425.50,472.66 L425.96,473.41 L426.43,473.47 L426.93,473.54 L427.44,474.76 L427.97,474.78 L428.52,474.94 L429.09,475.33 L429.68,475.50 L430.30,476.29 L430.89,477.01 L431.52,476.89 L432.18,477.77 L432.85,477.90 L433.54,477.93 L434.23,477.99 L434.91,477.92 L435.58,478.21 L436.21,479.04 L436.80,478.23 L437.49,478.51 L438.14,479.10 L438.75,478.80 L439.35,479.49 L439.93,479.87 L440.51,479.38 L441.10,480.08 L441.70,480.18 L442.35,480.01 L443.04,479.56 L443.75,479.34 L444.46,479.40 L445.12,479.42 L445.72,479.99 L446.22,479.62 L446.60,478.60" fill="none" stroke="#b581ea" stroke-width="1.45" stroke-linejoin="round"/>
<path d="M452.00,477.90 L452.40,478.08 L452.89,477.81 L453.47,477.86 L454.12,477.79 L454.83,477.84 L455.58,477.46 L456.36,477.13 L457.17,477.09 L457.98,476.20 L458.78,477.39 L459.57,477.15 L460.33,476.31 L461.04,476.25 L461.70,476.24 L462.42,475.91 L463.13,477.02 L463.83,476.74 L464.51,476.24 L465.19,477.25 L465.84,477.46 L466.49,477.40 L467.12,476.56 L467.74,476.47 L468.34,477.09 L468.93,476.85 L469.50,477.31 L470.23,476.36 L470.92,476.01 L471.58,475.78 L472.21,475.71 L472.83,475.71 L473.44,475.38 L474.05,474.98 L474.67,475.24 L475.30,474.43 L475.93,474.36 L476.55,474.76 L477.16,475.36 L477.77,474.76 L478.39,474.80 L479.02,474.32 L479.68,474.89 L480.37,474.81 L481.10,475.27 L481.68,475.12 L482.28,475.25 L482.91,475.69 L483.55,475.47 L484.21,475.21 L484.87,474.46 L485.55,474.18 L486.23,474.50 L486.90,474.41 L487.58,474.39 L488.24,474.23 L488.90,473.96 L489.56,473.98 L490.22,474.40 L490.90,474.36 L491.57,473.51 L492.25,474.36 L492.92,473.93 L493.59,474.51 L494.25,474.15 L494.89,474.74 L495.52,474.47 L496.12,473.80 L496.70,474.54 L497.40,474.64 L498.01,475.32 L498.56,475.86 L499.09,476.09 L499.63,476.23 L500.20,475.83 L500.85,475.99 L501.61,475.27 L502.50,475.76 L503.05,475.48 L503.65,476.45 L504.31,476.38 L505.01,475.59 L505.75,475.31 L506.51,476.44 L507.29,476.35 L508.07,476.53 L508.86,476.18 L509.64,475.52 L510.41,475.75 L511.15,475.01 L511.86,475.12 L512.53,475.75 L513.14,474.09 L513.71,474.55 L514.20,475.08 L514.99,474.25 L515.63,474.18 L516.15,474.17 L516.58,473.25 L516.93,472.70 L517.24,472.11 L517.52,471.82 L517.80,471.25 L518.10,470.39 L518.31,469.60 L518.49,468.97 L518.64,468.31 L518.78,467.70 L518.90,466.92 L519.02,466.39 L519.13,465.50 L519.24,464.77 L519.36,463.98 L519.49,463.41 L519.64,462.45 L519.81,461.82 L520.00,461.40 L520.26,460.73 L520.55,460.11 L520.87,459.16 L521.20,458.46 L521.54,457.67 L521.89,456.63 L522.24,456.04 L522.58,455.59 L522.91,455.20 L523.22,455.08 L523.50,455.05 L523.72,455.10 L523.93,455.16 L524.14,455.47 L524.34,456.05 L524.53,456.82 L524.71,457.67 L524.89,458.71 L525.06,459.50 L525.23,460.13 L525.40,461.05 L525.57,461.94 L525.73,462.53 L525.90,463.22 L526.06,464.00 L526.20,464.70 L526.33,465.42 L526.46,466.28 L526.58,467.05 L526.70,467.86 L526.82,468.52 L526.95,469.21 L527.08,469.90 L527.24,470.65 L527.40,471.31 L527.59,471.63 L527.80,471.79 L528.22,472.81 L528.65,473.46 L529.13,473.60 L529.65,473.90 L530.24,473.46 L530.92,473.43 L531.70,473.40 L532.22,473.40 L532.81,473.91 L533.44,473.61 L534.12,474.08 L534.82,474.37 L535.54,474.50 L536.26,474.12 L536.97,474.38 L537.66,472.92 L538.32,473.36 L538.94,472.92 L539.50,472.75 L540.26,472.84 L540.98,472.66 L541.64,472.53 L542.26,472.22 L542.84,472.72 L543.38,472.96 L543.90,472.63 L544.40,471.92 L544.74,471.75 L545.07,471.34 L545.37,470.65 L545.66,469.87 L545.93,469.29 L546.19,468.36 L546.43,467.50 L546.66,467.00 L546.88,466.49 L547.10,465.86 L547.30,465.13 L547.68,464.30 L547.98,463.81 L548.23,462.88 L548.49,462.92 L548.80,462.83 L548.95,463.28 L549.09,463.65 L549.23,464.49 L549.37,465.20 L549.51,465.83 L549.67,466.62 L549.84,467.46 L550.03,468.22 L550.25,468.98 L550.51,469.49 L550.80,470.09 L551.20,470.57 L551.63,471.02 L552.10,470.92 L552.60,471.69 L553.14,472.41 L553.72,472.36 L554.34,472.78 L555.00,473.01 L555.70,473.14 L556.26,472.98 L556.85,472.77 L557.46,473.65 L558.10,473.92 L558.77,474.43 L559.45,474.22 L560.15,473.96 L560.86,474.40 L561.59,475.01 L562.32,474.13 L563.06,474.10 L563.80,474.86 L564.40,474.85 L565.03,474.78 L565.66,474.36 L566.31,473.65 L566.97,473.32 L567.64,473.45 L568.31,473.45 L568.99,473.34 L569.66,473.81 L570.33,473.61 L570.99,472.87 L571.64,473.00 L572.27,473.11 L572.90,472.50 L573.50,471.84 L574.24,472.06 L574.99,472.00 L575.73,472.83 L576.47,472.11 L577.20,473.45 L577.91,473.01 L578.60,472.16 L579.26,472.05 L579.90,471.80 L580.51,472.23 L581.07,472.21 L581.60,472.03 L582.30,470.80 L582.90,470.73 L583.43,470.74 L583.90,470.92 L584.33,470.04 L584.75,469.40 L585.16,468.84 L585.60,468.58 L586.18,467.77 L586.73,467.57 L587.25,467.25 L587.77,467.03 L588.32,466.42 L588.90,465.80 L589.34,466.15 L589.75,466.62 L590.17,466.87 L590.60,467.47 L591.07,468.21 L591.60,468.36 L592.20,469.27 L592.90,469.82 L593.38,469.70 L593.90,469.29 L594.45,470.11 L595.03,470.35 L595.64,470.42 L596.27,470.41 L596.91,470.89 L597.57,470.38 L598.25,470.37 L598.93,470.52 L599.62,470.87 L600.31,471.08 L601.00,471.40 L601.62,471.68 L602.27,471.35 L602.94,472.28 L603.64,472.55 L604.35,472.76 L605.07,473.19 L605.79,472.64 L606.51,471.61 L607.21,472.00 L607.89,472.19 L608.55,472.89 L609.18,472.22 L609.77,472.71 L610.31,472.33 L610.80,472.19 L611.77,472.27 L612.47,473.26 L613.00,473.08 L613.50,473.02 L614.09,473.14 L614.90,473.14 L615.38,473.15 L615.86,472.11 L616.34,472.32 L616.84,472.02 L617.37,471.60 L617.92,471.58 L618.52,471.17 L619.16,470.94 L619.85,470.88 L620.59,470.02 L621.41,470.51 L622.30,470.12 L622.82,469.56 L623.35,469.89 L623.90,470.27 L624.47,470.00 L625.05,470.02 L625.65,470.22 L626.27,469.67 L626.91,470.29 L627.55,469.61 L628.22,469.22 L628.89,469.90 L629.59,470.29 L630.29,469.47 L631.01,470.01 L631.74,469.68 L632.49,469.49 L633.24,469.39 L634.01,469.55 L634.79,469.58 L635.58,470.55 L636.39,471.08 L637.20,470.90 L637.79,471.18 L638.41,471.16 L639.04,471.47 L639.69,470.31 L640.36,470.53 L641.04,470.51 L641.74,470.45 L642.45,470.59 L643.17,471.22 L643.90,471.24 L644.63,471.17 L645.37,471.44 L646.12,471.65 L646.86,471.58 L647.61,471.31 L648.35,471.73 L649.10,471.75 L649.83,471.47 L650.57,471.47 L651.29,471.05 L652.01,471.21 L652.71,471.55 L653.40,471.89 L654.08,471.04 L654.75,471.55 L655.39,471.30 L656.02,470.89 L656.62,471.29 L657.21,471.39 L657.77,471.61 L658.30,471.54 L659.22,471.83 L660.08,472.09 L660.88,472.36 L661.63,471.97 L662.34,470.69 L663.01,470.19 L663.65,470.78 L664.26,470.19 L664.86,470.20 L665.43,470.51 L666.00,470.70 L666.56,470.16 L667.12,470.17 L667.69,469.82 L668.27,469.73 L668.88,468.67 L669.50,469.37 L670.19,469.31 L670.92,468.53 L671.66,468.33 L672.42,468.25 L673.19,467.96 L673.95,468.58 L674.71,467.74 L675.45,468.11 L676.17,468.00 L676.86,468.03 L677.52,466.85 L678.13,466.95 L678.69,467.15 L679.19,466.75 L679.63,466.21 L680.00,466.70" fill="none" stroke="#b581ea" stroke-width="1.45" stroke-linejoin="round"/>
<path d="M372.50,552.70 L372.92,552.40 L373.46,552.59 L374.10,552.73 L374.82,552.71 L375.59,552.54 L376.40,552.37 L377.22,552.52 L378.02,552.20 L378.78,552.06 L379.48,551.73 L380.10,551.89 L380.85,551.59 L381.55,551.68 L382.21,551.48 L382.82,551.15 L383.41,551.00 L383.96,550.85 L384.49,550.67 L385.00,550.25 L385.48,549.65 L385.92,549.39 L386.32,548.98 L386.71,548.66 L387.07,548.14 L387.44,547.49 L387.81,546.90 L388.20,546.19 L388.47,545.69 L388.74,545.08 L389.02,544.56 L389.29,543.87 L389.57,543.25 L389.84,542.61 L390.12,541.79 L390.39,541.20 L390.65,540.53 L390.91,539.85 L391.16,539.38 L391.40,538.88 L391.79,538.11 L392.17,537.39 L392.53,536.82 L392.87,536.12 L393.21,535.69 L393.55,535.19 L393.90,534.67 L394.51,534.13 L395.11,533.96 L395.70,533.94 L396.30,533.53 L396.64,533.30 L396.98,532.88 L397.32,532.48 L397.66,531.99 L398.01,531.45 L398.35,530.81 L398.70,530.09 L398.89,529.53 L399.08,528.95 L399.27,528.31 L399.47,527.73 L399.66,527.09 L399.85,526.39 L400.05,525.63 L400.24,524.95 L400.43,524.26 L400.63,523.66 L400.82,523.06 L401.01,522.44 L401.20,521.90 L401.51,521.21 L401.83,520.50 L402.14,519.95 L402.46,519.41 L402.76,518.87 L403.06,518.25 L403.34,517.66 L403.60,516.98 L403.79,516.49 L403.98,515.99 L404.15,515.52 L404.32,515.06 L404.48,514.47 L404.63,513.88 L404.77,513.25 L404.92,512.44 L405.06,511.56 L405.20,510.51 L405.26,510.04 L405.31,509.55 L405.37,509.08 L405.43,508.58 L405.48,508.09 L405.54,507.55 L405.59,507.04 L405.64,506.49 L405.69,505.91 L405.74,505.35 L405.79,504.75 L405.84,504.13 L405.89,503.48 L405.94,502.81 L405.99,502.13 L406.04,501.40 L406.08,500.66 L406.13,499.85 L406.18,499.02 L406.22,498.17 L406.27,497.25 L406.31,496.31 L406.36,495.34 L406.40,494.31 L406.42,493.79 L406.44,493.26 L406.46,492.71 L406.48,492.14 L406.50,491.56 L406.52,490.96 L406.54,490.35 L406.56,489.72 L406.58,489.09 L406.60,488.44 L406.62,487.78 L406.64,487.11 L406.66,486.44 L406.67,485.73 L406.69,485.03 L406.71,484.33 L406.73,483.61 L406.75,482.89 L406.76,482.15 L406.78,481.42 L406.80,480.69 L406.82,479.94 L406.83,479.20 L406.85,478.44 L406.87,477.68 L406.89,476.92 L406.90,476.17 L406.92,475.42 L406.94,474.66 L406.95,473.90 L406.97,473.15 L406.99,472.40 L407.01,471.65 L407.02,470.90 L407.04,470.15 L407.06,469.41 L407.07,468.68 L407.09,467.96 L407.11,467.25 L407.12,466.53 L407.14,465.83 L407.16,465.14 L407.18,464.45 L407.19,463.78 L407.21,463.12 L407.23,462.47 L407.25,461.84 L407.26,461.22 L407.28,460.60 L407.30,460.00 L407.32,459.17 L407.35,458.31 L407.37,457.43 L407.40,456.53 L407.42,455.62 L407.45,454.69 L407.47,453.75 L407.50,452.81 L407.52,451.86 L407.55,450.92 L407.57,449.97 L407.60,449.04 L407.62,448.10 L407.65,447.18 L407.67,446.28 L407.69,445.37 L407.72,444.50 L407.74,443.65 L407.77,442.81 L407.79,442.02 L407.82,441.25 L407.84,440.52 L407.87,439.81 L407.89,439.15 L407.92,438.53 L407.94,437.97 L407.97,437.43 L407.99,436.95 L408.02,436.50 L408.04,436.14 L408.07,435.83 L408.10,435.60 L408.12,435.40 L408.15,435.32 L408.17,435.33 L408.20,435.31 L408.22,435.35 L408.24,435.54 L408.27,435.72 L408.29,435.97 L408.31,436.29 L408.34,436.65 L408.36,437.06 L408.38,437.51 L408.40,438.01 L408.43,438.54 L408.45,439.11 L408.47,439.71 L408.50,440.36 L408.52,441.03 L408.55,441.75 L408.57,442.48 L408.59,443.24 L408.62,444.03 L408.64,444.83 L408.66,445.65 L408.69,446.50 L408.71,447.35 L408.74,448.22 L408.76,449.10 L408.78,449.99 L408.81,450.89 L408.83,451.78 L408.85,452.69 L408.88,453.59 L408.90,454.49 L408.93,455.38 L408.95,456.27 L408.97,457.15 L409.00,458.02 L409.02,458.87 L409.04,459.71 L409.06,460.55 L409.09,461.35 L409.11,462.13 L409.13,462.89 L409.16,463.62 L409.18,464.33 L409.20,465.01 L409.22,465.73 L409.25,466.47 L409.27,467.21 L409.30,467.97 L409.32,468.72 L409.34,469.48 L409.37,470.24 L409.39,470.99 L409.42,471.75 L409.44,472.52 L409.46,473.28 L409.49,474.05 L409.51,474.82 L409.53,475.58 L409.56,476.34 L409.58,477.10 L409.60,477.85 L409.63,478.60 L409.65,479.33 L409.67,480.07 L409.70,480.80 L409.72,481.53 L409.74,482.24 L409.77,482.95 L409.79,483.65 L409.81,484.34 L409.83,485.01 L409.86,485.67 L409.88,486.33 L409.90,486.96 L409.92,487.58 L409.95,488.20 L409.97,488.78 L409.99,489.37 L410.01,489.94 L410.03,490.47 L410.06,490.99 L410.08,491.51 L410.10,492.00 L410.15,493.17 L410.21,494.20 L410.25,495.10 L410.30,495.91 L410.34,496.63 L410.39,497.26 L410.43,497.84 L410.48,498.41 L410.53,498.92 L410.58,499.39 L410.63,499.91 L410.69,500.47 L410.75,501.05 L410.82,501.68 L410.90,502.38 L410.97,503.07 L411.04,503.82 L411.11,504.61 L411.19,505.47 L411.26,506.35 L411.34,507.24 L411.43,508.15 L411.51,509.02 L411.60,509.90 L411.69,510.74 L411.78,511.53 L411.88,512.29 L411.98,512.98 L412.08,513.55 L412.18,513.99 L412.28,514.28 L412.39,514.44 L412.50,514.51 L412.61,514.57 L412.73,514.40 L412.86,514.05 L412.98,513.62 L413.11,513.09 L413.25,512.43 L413.38,511.75 L413.52,510.96 L413.66,510.12 L413.80,509.28 L413.94,508.40 L414.09,507.54 L414.23,506.63 L414.36,505.75 L414.50,504.85 L414.64,503.96 L414.77,503.15 L414.90,502.38 L415.01,501.72 L415.11,501.13 L415.22,500.48 L415.33,499.78 L415.43,499.06 L415.54,498.33 L415.65,497.60 L415.76,496.92 L415.86,496.19 L415.97,495.49 L416.07,494.73 L416.18,494.01 L416.28,493.32 L416.38,492.60 L416.48,491.91 L416.58,491.31 L416.67,490.61 L416.76,489.97 L416.85,489.40 L416.94,488.83 L417.02,488.31 L417.10,487.75 L417.26,486.71 L417.40,485.68 L417.52,484.63 L417.64,483.67 L417.74,482.81 L417.85,482.11 L417.95,481.61 L418.06,481.19 L418.17,481.05 L418.30,481.30 L418.37,481.47 L418.44,481.75 L418.52,482.12 L418.59,482.47 L418.67,482.94 L418.75,483.39 L418.83,483.97 L418.91,484.57 L418.98,485.21 L419.07,485.90 L419.15,486.66 L419.23,487.46 L419.31,488.29 L419.39,489.23 L419.47,490.15 L419.55,491.14 L419.64,492.14 L419.72,493.19 L419.80,494.30 L419.84,494.82 L419.87,495.36 L419.91,495.91 L419.94,496.49 L419.98,497.09 L420.02,497.69 L420.05,498.32 L420.09,498.96 L420.12,499.62 L420.15,500.31 L420.19,501.00 L420.22,501.70 L420.26,502.39 L420.29,503.12 L420.33,503.86 L420.36,504.60 L420.40,505.34 L420.43,506.11 L420.47,506.86 L420.50,507.62 L420.54,508.40 L420.57,509.17 L420.61,509.92 L420.65,510.70 L420.68,511.47 L420.72,512.24 L420.76,513.01 L420.80,513.77 L420.84,514.52 L420.87,515.28 L420.91,516.02 L420.95,516.77 L421.00,517.48 L421.04,518.20 L421.08,518.90 L421.12,519.59 L421.17,520.30 L421.21,520.97 L421.26,521.62 L421.30,522.28 L421.35,522.90 L421.40,523.49 L421.47,524.30 L421.53,525.12 L421.60,525.93 L421.67,526.72 L421.74,527.53 L421.82,528.35 L421.89,529.13 L421.96,529.92 L422.04,530.73 L422.12,531.49 L422.19,532.25 L422.27,533.02 L422.35,533.78 L422.43,534.50 L422.51,535.21 L422.59,535.95 L422.67,536.65 L422.76,537.33 L422.84,537.99 L422.92,538.65 L423.01,539.30 L423.10,539.88 L423.18,540.46 L423.27,541.02 L423.36,541.61 L423.45,542.18 L423.54,542.74 L423.63,543.25 L423.72,543.70 L423.81,544.19 L423.90,544.59 L424.21,545.90 L424.50,546.80 L424.79,547.49 L425.09,547.92 L425.41,548.32 L425.76,548.57 L426.15,548.92 L426.60,549.17 L427.10,549.47 L427.59,549.66 L428.08,550.08 L428.60,550.48 L429.15,550.77 L429.74,550.79 L430.37,550.80 L431.07,551.06 L431.83,551.37 L432.67,551.64 L433.60,551.73 L434.15,551.85 L434.76,552.05 L435.43,552.07 L436.14,552.11 L436.89,552.12 L437.67,552.40 L438.47,552.42 L439.28,552.31 L440.10,552.29 L440.91,552.26 L441.71,552.28 L442.49,552.45 L443.23,552.57 L443.94,552.50 L444.60,552.40 L445.21,552.40 L445.75,552.67 L446.21,552.58 L446.60,552.70" fill="none" stroke="#111" stroke-width="1.35" stroke-linejoin="round"/>
<path d="M452.00,552.50 L452.36,552.45 L452.76,552.70 L453.18,552.63 L453.63,552.57 L454.10,552.63 L454.60,552.61 L455.13,552.62 L455.67,552.48 L456.25,552.69 L456.84,552.50 L457.45,552.39 L458.08,552.12 L458.74,552.03 L459.41,552.31 L460.09,552.53 L460.79,552.59 L461.51,552.63 L462.24,552.40 L462.98,552.48 L463.74,552.44 L464.51,552.39 L465.28,552.47 L466.07,552.74 L466.86,552.73 L467.66,552.62 L468.46,552.66 L469.27,552.47 L470.09,552.48 L470.91,552.67 L471.73,552.78 L472.55,552.72 L473.37,552.34 L474.19,552.33 L475.01,552.34 L475.82,552.38 L476.63,552.49 L477.44,552.53 L478.24,552.31 L479.04,552.49 L479.82,552.71 L480.60,552.58 L481.37,552.92 L482.13,552.46 L482.87,552.72 L483.60,552.79 L484.32,552.54 L485.03,552.56 L485.72,552.55 L486.39,552.39 L487.05,552.51 L487.68,552.55 L488.30,552.34 L488.90,552.37 L489.74,552.45 L490.58,552.50 L491.41,552.41 L492.25,552.50 L493.07,552.51 L493.90,552.50 L494.72,552.81 L495.53,552.70 L496.34,552.63 L497.14,552.24 L497.94,552.14 L498.72,552.31 L499.50,552.58 L500.27,552.38 L501.03,552.57 L501.78,552.33 L502.52,552.18 L503.25,551.97 L503.97,551.88 L504.67,551.81 L505.37,551.86 L506.04,551.82 L506.71,551.90 L507.36,551.99 L507.99,552.06 L508.61,552.05 L509.21,551.97 L509.80,551.63 L510.36,551.77 L510.91,551.44 L511.44,551.84 L511.95,551.57 L512.45,551.40 L512.92,551.50 L513.37,551.47 L513.79,551.58 L514.20,551.52 L515.89,551.37 L516.92,550.74 L517.45,550.54 L517.66,550.22 L517.73,549.87 L517.81,549.47 L518.10,548.99 L518.47,548.46 L518.79,547.85 L519.09,547.15 L519.37,546.37 L519.63,545.64 L519.88,545.01 L520.14,544.38 L520.40,544.17 L520.92,544.20 L521.42,544.83 L521.91,545.23 L522.40,545.07 L522.55,544.61 L522.70,544.03 L522.84,543.28 L522.99,542.43 L523.13,541.49 L523.28,540.52 L523.42,539.57 L523.57,538.70 L523.71,537.86 L523.86,537.14 L524.00,536.63 L524.15,536.37 L524.30,536.39 L524.42,536.50 L524.53,536.85 L524.65,537.32 L524.77,537.94 L524.88,538.67 L525.00,539.49 L525.12,540.41 L525.24,541.31 L525.36,542.24 L525.48,543.20 L525.60,544.09 L525.72,544.95 L525.83,545.80 L525.95,546.51 L526.07,547.14 L526.18,547.69 L526.30,548.00 L526.68,548.28 L527.06,547.48 L527.44,546.33 L527.82,545.34 L528.20,545.26 L528.37,545.43 L528.54,545.86 L528.70,546.44 L528.86,547.13 L529.02,547.89 L529.18,548.67 L529.36,549.56 L529.54,550.32 L529.74,550.90 L529.96,551.44 L530.20,551.72 L530.70,552.19 L531.28,552.38 L531.89,552.60 L532.52,552.75 L533.13,552.81 L533.70,552.66 L534.32,552.39 L534.90,551.98 L535.47,551.43 L536.03,551.06 L536.60,551.04 L537.13,551.13 L537.60,551.56 L538.10,552.00 L538.70,552.37 L539.50,552.44 L540.01,552.43 L540.60,552.53 L541.26,552.39 L541.96,552.32 L542.67,552.10 L543.39,552.01 L544.08,551.73 L544.73,551.51 L545.31,551.18 L545.80,550.91 L546.57,550.89 L547.15,550.87 L547.60,550.64 L547.96,550.14 L548.30,549.39 L548.42,549.01 L548.53,548.56 L548.62,548.04 L548.70,547.51 L548.77,546.88 L548.83,546.24 L548.89,545.56 L548.94,544.85 L548.99,544.10 L549.04,543.35 L549.09,542.58 L549.14,541.78 L549.20,540.98 L549.24,540.35 L549.29,539.68 L549.33,538.90 L549.37,538.09 L549.41,537.22 L549.45,536.34 L549.49,535.44 L549.52,534.55 L549.56,533.66 L549.60,532.81 L549.64,532.01 L549.67,531.25 L549.71,530.58 L549.75,530.01 L549.79,529.53 L549.82,529.22 L549.86,528.97 L549.90,528.95 L549.94,529.04 L549.98,529.25 L550.01,529.59 L550.05,530.06 L550.09,530.64 L550.13,531.28 L550.16,532.02 L550.20,532.82 L550.24,533.68 L550.28,534.55 L550.31,535.44 L550.35,536.35 L550.39,537.22 L550.43,538.08 L550.47,538.90 L550.51,539.67 L550.56,540.37 L550.60,540.97 L550.66,541.78 L550.71,542.58 L550.75,543.34 L550.79,544.10 L550.83,544.82 L550.88,545.53 L550.93,546.21 L550.98,546.86 L551.05,547.51 L551.14,548.06 L551.24,548.57 L551.36,549.04 L551.50,549.50 L551.76,550.33 L551.94,550.82 L552.19,551.30 L552.63,551.24 L553.39,551.37 L554.60,551.57 L555.06,551.63 L555.59,551.46 L556.19,551.60 L556.84,551.52 L557.54,551.80 L558.28,551.73 L559.06,551.76 L559.86,551.67 L560.68,551.78 L561.51,552.00 L562.35,551.86 L563.18,551.54 L564.00,551.62 L564.80,551.78 L565.57,551.73 L566.30,551.80 L567.00,551.77 L567.64,551.77 L568.23,551.88 L568.75,551.51 L569.20,551.47 L570.34,551.10 L570.99,550.67 L571.30,549.89 L571.44,549.28 L571.55,548.86 L571.80,548.61 L572.18,548.91 L572.47,549.39 L572.76,550.17 L573.11,550.71 L573.60,550.88 L574.08,551.05 L574.68,551.05 L575.33,551.00 L575.99,550.85 L576.63,550.60 L577.18,550.20 L577.60,549.76 L577.81,549.27 L577.97,548.77 L578.08,548.18 L578.16,547.52 L578.21,546.85 L578.25,546.12 L578.28,545.34 L578.30,544.55 L578.34,543.78 L578.40,543.02 L578.46,542.33 L578.51,541.52 L578.56,540.66 L578.61,539.76 L578.66,538.83 L578.71,537.92 L578.76,537.06 L578.81,536.30 L578.85,535.61 L578.90,535.13 L578.95,534.83 L579.00,534.80 L579.05,534.83 L579.10,535.13 L579.15,535.65 L579.19,536.29 L579.24,537.03 L579.29,537.88 L579.34,538.78 L579.39,539.71 L579.44,540.63 L579.49,541.50 L579.54,542.32 L579.60,543.00 L579.66,543.70 L579.70,544.44 L579.73,545.17 L579.77,545.90 L579.80,546.63 L579.85,547.30 L579.91,547.94 L579.99,548.57 L580.09,549.09 L580.23,549.67 L580.40,550.09 L580.88,550.65 L581.48,550.85 L582.17,551.04 L582.95,551.04 L583.80,550.76 L584.41,551.00 L585.11,550.92 L585.88,550.77 L586.66,550.52 L587.42,550.38 L588.12,550.46 L588.73,550.34 L589.20,549.99 L589.53,549.51 L589.75,549.01 L589.88,548.51 L589.95,547.88 L589.98,547.19 L590.00,546.47 L590.03,545.74 L590.10,545.01 L590.17,544.35 L590.24,543.56 L590.30,542.72 L590.36,541.83 L590.42,540.97 L590.47,540.18 L590.53,539.47 L590.58,538.95 L590.64,538.59 L590.70,538.31 L590.76,538.53 L590.82,538.88 L590.87,539.44 L590.93,540.13 L590.99,540.91 L591.05,541.78 L591.11,542.67 L591.17,543.52 L591.23,544.31 L591.30,545.00 L591.37,545.73 L591.41,546.43 L591.46,547.16 L591.50,547.89 L591.56,548.59 L591.63,549.27 L591.74,549.90 L591.90,550.40 L592.10,550.80 L592.04,551.46 L591.52,551.62 L591.07,551.77 L591.23,551.88 L592.52,551.57 L595.50,551.34 L595.88,551.74 L596.29,551.80 L596.72,551.89 L597.16,552.02 L597.62,551.78 L598.11,551.73 L598.61,551.74 L599.13,551.72 L599.66,551.87 L600.21,551.94 L600.78,552.17 L601.36,552.35 L601.96,552.07 L602.57,551.90 L603.20,551.99 L603.84,551.96 L604.49,551.77 L605.16,551.82 L605.83,551.74 L606.52,552.09 L607.22,551.92 L607.93,551.80 L608.65,552.04 L609.38,552.17 L610.11,551.88 L610.86,552.26 L611.61,552.36 L612.37,552.02 L613.13,551.95 L613.90,552.16 L614.68,551.91 L615.46,551.97 L616.25,552.11 L617.04,551.91 L617.83,552.13 L618.63,552.15 L619.43,552.32 L620.23,552.08 L621.03,552.09 L621.84,552.18 L622.64,552.36 L623.44,552.20 L624.25,552.15 L625.05,552.03 L625.85,552.02 L626.64,552.06 L627.44,551.76 L628.23,552.09 L629.02,552.18 L629.80,552.21 L630.58,552.35 L631.35,552.02 L632.11,552.34 L632.87,552.34 L633.63,552.37 L634.37,552.32 L635.11,552.51 L635.84,552.51 L636.56,552.40 L637.27,552.36 L637.97,552.45 L638.66,552.17 L639.33,552.33 L640.00,552.35 L640.73,552.21 L641.47,552.35 L642.22,552.42 L642.98,552.44 L643.75,552.36 L644.52,552.07 L645.29,552.14 L646.08,552.18 L646.86,552.39 L647.65,552.30 L648.45,552.50 L649.25,552.58 L650.05,552.44 L650.85,552.38 L651.66,552.32 L652.46,552.44 L653.27,552.45 L654.07,552.33 L654.88,552.35 L655.68,552.51 L656.49,552.66 L657.29,552.72 L658.08,552.54 L658.88,552.53 L659.67,552.58 L660.46,552.62 L661.24,552.50 L662.01,552.33 L662.78,552.39 L663.54,552.57 L664.30,552.49 L665.05,552.33 L665.79,552.23 L666.52,552.52 L667.24,552.46 L667.95,552.26 L668.65,552.31 L669.34,552.52 L670.02,552.77 L670.69,552.48 L671.34,552.59 L671.98,552.46 L672.61,552.48 L673.22,552.28 L673.82,552.51 L674.40,552.27 L674.97,552.31 L675.52,552.10 L676.05,552.33 L676.57,552.43 L677.07,552.57 L677.55,552.58 L678.01,552.52 L678.45,552.61 L678.87,552.38 L679.27,552.56 L679.64,552.44 L680.00,552.50" fill="none" stroke="#111" stroke-width="1.35" stroke-linejoin="round"/>
<text x="398.5" y="363.2" font-size="10.1" text-anchor="start" fill="#111" font-weight="normal" transform="rotate(-90 398.5 363.2)">2924</text>
<text x="412.4" y="376.2" font-size="10.1" text-anchor="start" fill="#111" font-weight="normal" transform="rotate(-90 412.4 376.2)">2880</text>
<text x="423.1" y="370.5" font-size="10.1" text-anchor="start" fill="#111" font-weight="normal" transform="rotate(-90 423.1 370.5)">2845</text>
<text x="522.3" y="432.4" font-size="10.1" text-anchor="start" fill="#111" font-weight="normal" transform="rotate(-90 522.3 432.4)">1463</text>
<text x="528.0" y="400.0" font-size="10.1" text-anchor="start" fill="#111" font-weight="normal" transform="rotate(-90 528.0 400.0)">1439</text>
<text x="533.0" y="446.2" font-size="10.1" text-anchor="start" fill="#111" font-weight="normal" transform="rotate(-90 533.0 446.2)">1416</text>
<text x="553.5" y="431.6" font-size="10.1" text-anchor="start" fill="#111" font-weight="normal" transform="rotate(-90 553.5 431.6)">1293</text>
<text x="581.8" y="438.1" font-size="10.1" text-anchor="start" fill="#111" font-weight="normal" transform="rotate(-90 581.8 438.1)">1129</text>
<text x="594.0" y="440.5" font-size="10.1" text-anchor="start" fill="#111" font-weight="normal" transform="rotate(-90 594.0 440.5)">1061</text>
<text x="388.4" y="383.5" font-size="10.1" text-anchor="start" fill="#b581ea" font-weight="normal" transform="rotate(-90 388.4 383.5)">2958</text>
<text x="408.6" y="343.8" font-size="10.1" text-anchor="start" fill="#b581ea" font-weight="normal" transform="rotate(-90 408.6 343.8)">2895</text>
<g stroke="#333" stroke-width="0.85" fill="none"><path d="M610,350.5 L624.5,342.3 L643.5,353.4 L657.5,345.2"/><path d="M615.5,334.2 V360.5 M652.6,334.2 V360.5"/></g>
<text x="655.3" y="368.3" font-size="11" text-anchor="start" fill="#222" font-weight="normal" font-style="italic">n</text>
<line x1="49.5" y1="46.0" x2="49.5" y2="114.6" stroke="#505050" stroke-width="0.95" stroke-dasharray="2 1.25"/>
<line x1="40.0" y1="104.5" x2="40.0" y2="185.0" stroke="#505050" stroke-width="0.95" stroke-dasharray="2 1.25"/>
<line x1="69.2" y1="120.0" x2="69.2" y2="214.4" stroke="#505050" stroke-width="0.95" stroke-dasharray="2 1.25"/>
<line x1="114.0" y1="123.5" x2="114.0" y2="217.1" stroke="#505050" stroke-width="0.95" stroke-dasharray="2 1.25"/>
<line x1="165.7" y1="107.0" x2="165.7" y2="203.4" stroke="#505050" stroke-width="0.95" stroke-dasharray="2 1.25"/>
<line x1="188.9" y1="133.5" x2="188.9" y2="227.9" stroke="#505050" stroke-width="0.95" stroke-dasharray="2 1.25"/>
<line x1="205.4" y1="132.0" x2="205.4" y2="226.4" stroke="#505050" stroke-width="0.95" stroke-dasharray="2 1.25"/>
<line x1="226.2" y1="129.5" x2="226.2" y2="223.5" stroke="#505050" stroke-width="0.95" stroke-dasharray="2 1.25"/>
<line x1="251.4" y1="84.8" x2="251.4" y2="215.8" stroke="#505050" stroke-width="0.95" stroke-dasharray="2 1.25"/>
<line x1="254.3" y1="119.9" x2="254.3" y2="213.2" stroke="#505050" stroke-width="0.95" stroke-dasharray="2 1.25"/>
<line x1="282.8" y1="87.0" x2="282.8" y2="180.8" stroke="#505050" stroke-width="0.95" stroke-dasharray="2 1.25"/>
<line x1="321.9" y1="121.0" x2="321.9" y2="215.0" stroke="#505050" stroke-width="0.95" stroke-dasharray="2 1.25"/>
<line x1="85.0" y1="121.0" x2="74.2" y2="140.0" stroke="#f03c44" stroke-width="0.95" stroke-dasharray="2.3 1"/>
<line x1="397.3" y1="80.0" x2="397.3" y2="169.2" stroke="#505050" stroke-width="0.95" stroke-dasharray="2 1.25"/>
<line x1="398.7" y1="77.5" x2="398.7" y2="169.2" stroke="#505050" stroke-width="0.95" stroke-dasharray="2 1.25"/>
<line x1="403.9" y1="51.0" x2="403.9" y2="172.8" stroke="#505050" stroke-width="0.95" stroke-dasharray="2 1.25"/>
<line x1="407.8" y1="26.5" x2="407.8" y2="146.0" stroke="#505050" stroke-width="0.95" stroke-dasharray="2 1.25"/>
<line x1="411.4" y1="38.3" x2="411.4" y2="116.0" stroke="#505050" stroke-width="0.95" stroke-dasharray="2 1.25"/>
<line x1="414.3" y1="38.3" x2="414.3" y2="147.8" stroke="#505050" stroke-width="0.95" stroke-dasharray="2 1.25"/>
<line x1="419.6" y1="107.0" x2="419.6" y2="180.8" stroke="#505050" stroke-width="0.95" stroke-dasharray="2 1.25"/>
<line x1="513.8" y1="84.5" x2="513.8" y2="210.0" stroke="#505050" stroke-width="0.95" stroke-dasharray="2 1.25"/>
<line x1="518.3" y1="100.5" x2="518.3" y2="226.4" stroke="#505050" stroke-width="0.95" stroke-dasharray="2 1.25"/>
<line x1="529.2" y1="137.0" x2="529.2" y2="231.5" stroke="#505050" stroke-width="0.95" stroke-dasharray="2 1.25"/>
<line x1="532.4" y1="100.5" x2="532.4" y2="226.4" stroke="#505050" stroke-width="0.95" stroke-dasharray="2 1.25"/>
<line x1="538.1" y1="70.5" x2="538.1" y2="216.4" stroke="#505050" stroke-width="0.95" stroke-dasharray="2 1.25"/>
<line x1="542.5" y1="117.5" x2="542.5" y2="232.0" stroke="#505050" stroke-width="0.95" stroke-dasharray="2 1.25"/>
<line x1="551.5" y1="107.0" x2="551.5" y2="231.8" stroke="#505050" stroke-width="0.95" stroke-dasharray="2 1.25"/>
<line x1="558.3" y1="84.3" x2="558.3" y2="228.6" stroke="#505050" stroke-width="0.95" stroke-dasharray="2 1.25"/>
<line x1="568.1" y1="77.0" x2="568.1" y2="222.9" stroke="#505050" stroke-width="0.95" stroke-dasharray="2 1.25"/>
<line x1="570.5" y1="97.2" x2="570.5" y2="220.5" stroke="#505050" stroke-width="0.95" stroke-dasharray="2 1.25"/>
<line x1="592.5" y1="105.5" x2="592.5" y2="229.4" stroke="#505050" stroke-width="0.95" stroke-dasharray="2 1.25"/>
<line x1="599.5" y1="74.5" x2="599.5" y2="228.6" stroke="#505050" stroke-width="0.95" stroke-dasharray="2 1.25"/>
<line x1="604.1" y1="91.0" x2="604.1" y2="222.9" stroke="#505050" stroke-width="0.95" stroke-dasharray="2 1.25"/>
<line x1="609.9" y1="107.0" x2="609.9" y2="231.0" stroke="#505050" stroke-width="0.95" stroke-dasharray="2 1.25"/>
<line x1="617.4" y1="106.5" x2="617.4" y2="231.8" stroke="#505050" stroke-width="0.95" stroke-dasharray="2 1.25"/>
<line x1="628.4" y1="91.0" x2="628.4" y2="214.8" stroke="#505050" stroke-width="0.95" stroke-dasharray="2 1.25"/>
<line x1="634.4" y1="68.0" x2="634.4" y2="207.5" stroke="#505050" stroke-width="0.95" stroke-dasharray="2 1.25"/>
<line x1="415.0" y1="26.7" x2="411.4" y2="38.3" stroke="#505050" stroke-width="0.95" stroke-dasharray="2 1.25"/>
<line x1="478.4" y1="128.0" x2="478.4" y2="148.4" stroke="#2a7ae2" stroke-width="0.95" stroke-dasharray="2.3 1"/>
<line x1="486.7" y1="128.0" x2="486.7" y2="149.0" stroke="#2a7ae2" stroke-width="0.95" stroke-dasharray="2.3 1"/>
<line x1="516.3" y1="44.0" x2="516.3" y2="128.9" stroke="#2a7ae2" stroke-width="0.95" stroke-dasharray="2.3 1"/>
<line x1="547.5" y1="45.0" x2="547.5" y2="143.5" stroke="#2a7ae2" stroke-width="0.95" stroke-dasharray="2.3 1"/>
<line x1="561.3" y1="45.0" x2="561.3" y2="145.1" stroke="#2a7ae2" stroke-width="0.95" stroke-dasharray="2.3 1"/>
<line x1="569.7" y1="45.0" x2="569.7" y2="139.4" stroke="#2a7ae2" stroke-width="0.95" stroke-dasharray="2.3 1"/>
<line x1="575.4" y1="49.0" x2="575.4" y2="146.0" stroke="#2a7ae2" stroke-width="0.95" stroke-dasharray="2.3 1"/>
<line x1="612.2" y1="40.0" x2="612.2" y2="145.9" stroke="#2a7ae2" stroke-width="0.95" stroke-dasharray="2.3 1"/>
<line x1="630.7" y1="40.0" x2="630.7" y2="139.4" stroke="#2a7ae2" stroke-width="0.95" stroke-dasharray="2.3 1"/>
<line x1="419.4" y1="71.2" x2="418.5" y2="97.2" stroke="#2a7ae2" stroke-width="0.95" stroke-dasharray="2.3 1"/>
<line x1="579.4" y1="44.5" x2="575.4" y2="49.0" stroke="#2a7ae2" stroke-width="0.95" stroke-dasharray="2.3 1"/>
<line x1="34.6" y1="431.0" x2="34.6" y2="509.7" stroke="#505050" stroke-width="0.95" stroke-dasharray="2 1.25"/>
<line x1="49.2" y1="461.0" x2="49.2" y2="541.3" stroke="#505050" stroke-width="0.95" stroke-dasharray="2 1.25"/>
<line x1="56.0" y1="455.0" x2="56.0" y2="534.8" stroke="#505050" stroke-width="0.95" stroke-dasharray="2 1.25"/>
<line x1="121.2" y1="410.0" x2="121.2" y2="489.4" stroke="#505050" stroke-width="0.95" stroke-dasharray="2 1.25"/>
<line x1="141.6" y1="366.0" x2="141.6" y2="442.0" stroke="#505050" stroke-width="0.95" stroke-dasharray="2 1.25"/>
<line x1="169.4" y1="462.0" x2="169.4" y2="551.8" stroke="#505050" stroke-width="0.95" stroke-dasharray="2 1.25"/>
<line x1="176.5" y1="461.5" x2="176.5" y2="551.0" stroke="#505050" stroke-width="0.95" stroke-dasharray="2 1.25"/>
<line x1="199.4" y1="441.0" x2="199.4" y2="529.2" stroke="#505050" stroke-width="0.95" stroke-dasharray="2 1.25"/>
<line x1="217.6" y1="459.0" x2="217.6" y2="550.2" stroke="#505050" stroke-width="0.95" stroke-dasharray="2 1.25"/>
<line x1="229.7" y1="457.5" x2="229.7" y2="546.2" stroke="#505050" stroke-width="0.95" stroke-dasharray="2 1.25"/>
<line x1="233.8" y1="449.5" x2="233.8" y2="541.3" stroke="#505050" stroke-width="0.95" stroke-dasharray="2 1.25"/>
<line x1="251.3" y1="463.0" x2="251.3" y2="551.8" stroke="#505050" stroke-width="0.95" stroke-dasharray="2 1.25"/>
<line x1="275.9" y1="436.5" x2="275.9" y2="525.9" stroke="#505050" stroke-width="0.95" stroke-dasharray="2 1.25"/>
<line x1="287.6" y1="458.5" x2="287.6" y2="547.8" stroke="#505050" stroke-width="0.95" stroke-dasharray="2 1.25"/>
<line x1="304.3" y1="460.0" x2="304.3" y2="549.4" stroke="#505050" stroke-width="0.95" stroke-dasharray="2 1.25"/>
<line x1="316.1" y1="447.5" x2="316.1" y2="536.5" stroke="#505050" stroke-width="0.95" stroke-dasharray="2 1.25"/>
<line x1="219.2" y1="413.0" x2="219.2" y2="470.0" stroke="#3cb070" stroke-width="0.95" stroke-dasharray="2.3 1"/>
<line x1="395.5" y1="365.0" x2="395.5" y2="533.5" stroke="#505050" stroke-width="0.95" stroke-dasharray="2 1.25"/>
<line x1="408.5" y1="378.0" x2="408.5" y2="435.3" stroke="#505050" stroke-width="0.95" stroke-dasharray="2 1.25"/>
<line x1="419.0" y1="372.0" x2="419.0" y2="481.3" stroke="#505050" stroke-width="0.95" stroke-dasharray="2 1.25"/>
<line x1="520.5" y1="434.0" x2="520.5" y2="544.1" stroke="#505050" stroke-width="0.95" stroke-dasharray="2 1.25"/>
<line x1="524.6" y1="402.0" x2="524.6" y2="536.3" stroke="#505050" stroke-width="0.95" stroke-dasharray="2 1.25"/>
<line x1="528.6" y1="448.0" x2="528.6" y2="545.1" stroke="#505050" stroke-width="0.95" stroke-dasharray="2 1.25"/>
<line x1="549.6" y1="433.0" x2="549.6" y2="528.9" stroke="#505050" stroke-width="0.95" stroke-dasharray="2 1.25"/>
<line x1="578.8" y1="440.0" x2="578.8" y2="534.7" stroke="#505050" stroke-width="0.95" stroke-dasharray="2 1.25"/>
<line x1="590.6" y1="442.0" x2="590.6" y2="538.4" stroke="#505050" stroke-width="0.95" stroke-dasharray="2 1.25"/>
<line x1="385.0" y1="385.5" x2="385.0" y2="443.5" stroke="#b581ea" stroke-width="0.95" stroke-dasharray="2.3 1"/>
<line x1="404.4" y1="345.5" x2="404.4" y2="376.7" stroke="#b581ea" stroke-width="0.95" stroke-dasharray="2.3 1"/>
</svg></body></html>
